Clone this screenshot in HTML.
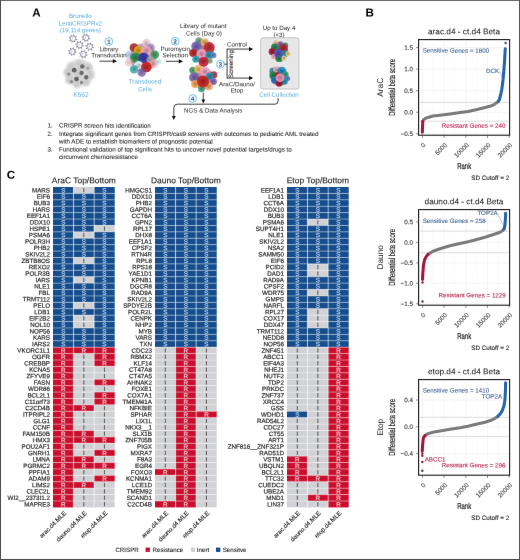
<!DOCTYPE html>
<html><head><meta charset="utf-8"><title>Figure</title>
<style>
html,body{margin:0;padding:0;background:#fff;}
body{width:520px;height:560px;overflow:hidden;}
svg{display:block;font-family:"Liberation Sans", sans-serif;text-rendering:geometricPrecision;}
</style></head><body>
<svg width="520" height="560" viewBox="0 0 520 560">
<defs>
<filter id="gblur" x="0" y="0" width="520" height="560" filterUnits="userSpaceOnUse"><feConvolveMatrix order="3" kernelMatrix="0 1 0 1 28 1 0 1 0" divisor="32" edgeMode="duplicate" preserveAlpha="false"/></filter>
<filter id="blur1" x="-20%" y="-20%" width="140%" height="140%"><feGaussianBlur stdDeviation="1.1"/></filter>
<filter id="blur2" x="-20%" y="-20%" width="140%" height="140%"><feGaussianBlur stdDeviation="0.45"/></filter>
<filter id="blur4" x="-20%" y="-20%" width="140%" height="140%"><feGaussianBlur stdDeviation="0.65"/></filter>
<filter id="blur3" x="-20%" y="-20%" width="140%" height="140%"><feGaussianBlur stdDeviation="0.7"/></filter>
</defs>
<rect x="0" y="0" width="520" height="560" fill="#fff"/>
<g filter="url(#gblur)">
<rect x="0" y="0" width="520" height="1" fill="#686868"/>
<rect x="0" y="0" width="1" height="560" fill="#4e4e4e"/>
<rect x="519" y="0" width="1" height="560" fill="#555"/>
<rect x="0" y="559" width="520" height="1" fill="#4a4a4a"/>
<text transform="translate(32.20,16.60) rotate(0.05)" font-size="11.6" fill="#000" text-anchor="start" font-weight="bold" >A</text>
<text transform="translate(365.60,16.50) rotate(0.05)" font-size="11.6" fill="#000" text-anchor="start" font-weight="bold" >B</text>
<text transform="translate(6.80,178.80) rotate(0.05)" font-size="11.6" fill="#000" text-anchor="start" font-weight="bold" >C</text>
<text transform="translate(83.85,183.20) rotate(0.05)" font-size="8.45" fill="#1e1e1e" text-anchor="middle" font-weight="normal"  stroke="#1e1e1e" stroke-width="0.12">AraC Top/Bottom</text>
<rect x="53.00" y="187.00" width="20.57" height="6.408" fill="#134d8c"/>
<rect x="73.57" y="187.00" width="20.57" height="6.408" fill="#d1d2d5"/>
<rect x="94.13" y="187.00" width="20.57" height="6.408" fill="#134d8c"/>
<text transform="translate(50.00,192.45) rotate(0.05)" font-size="6.25" fill="#2b2b2b" text-anchor="end" font-weight="normal"  stroke="#2b2b2b" stroke-width="0.2">MARS</text>
<rect x="53.00" y="193.41" width="20.57" height="6.408" fill="#134d8c"/>
<rect x="73.57" y="193.41" width="20.57" height="6.408" fill="#134d8c"/>
<rect x="94.13" y="193.41" width="20.57" height="6.408" fill="#134d8c"/>
<text transform="translate(50.00,198.86) rotate(0.05)" font-size="6.25" fill="#2b2b2b" text-anchor="end" font-weight="normal"  stroke="#2b2b2b" stroke-width="0.2">EIF6</text>
<rect x="53.00" y="199.82" width="20.57" height="6.408" fill="#134d8c"/>
<rect x="73.57" y="199.82" width="20.57" height="6.408" fill="#134d8c"/>
<rect x="94.13" y="199.82" width="20.57" height="6.408" fill="#134d8c"/>
<text transform="translate(50.00,205.27) rotate(0.05)" font-size="6.25" fill="#2b2b2b" text-anchor="end" font-weight="normal"  stroke="#2b2b2b" stroke-width="0.2">BUB3</text>
<rect x="53.00" y="206.22" width="20.57" height="6.408" fill="#134d8c"/>
<rect x="73.57" y="206.22" width="20.57" height="6.408" fill="#134d8c"/>
<rect x="94.13" y="206.22" width="20.57" height="6.408" fill="#134d8c"/>
<text transform="translate(50.00,211.68) rotate(0.05)" font-size="6.25" fill="#2b2b2b" text-anchor="end" font-weight="normal"  stroke="#2b2b2b" stroke-width="0.2">HARS</text>
<rect x="53.00" y="212.63" width="20.57" height="6.408" fill="#134d8c"/>
<rect x="73.57" y="212.63" width="20.57" height="6.408" fill="#134d8c"/>
<rect x="94.13" y="212.63" width="20.57" height="6.408" fill="#134d8c"/>
<text transform="translate(50.00,218.09) rotate(0.05)" font-size="6.25" fill="#2b2b2b" text-anchor="end" font-weight="normal"  stroke="#2b2b2b" stroke-width="0.2">EEF1A1</text>
<rect x="53.00" y="219.04" width="20.57" height="6.408" fill="#134d8c"/>
<rect x="73.57" y="219.04" width="20.57" height="6.408" fill="#134d8c"/>
<rect x="94.13" y="219.04" width="20.57" height="6.408" fill="#134d8c"/>
<text transform="translate(50.00,224.49) rotate(0.05)" font-size="6.25" fill="#2b2b2b" text-anchor="end" font-weight="normal"  stroke="#2b2b2b" stroke-width="0.2">DDX10</text>
<rect x="53.00" y="225.45" width="20.57" height="6.408" fill="#134d8c"/>
<rect x="73.57" y="225.45" width="20.57" height="6.408" fill="#134d8c"/>
<rect x="94.13" y="225.45" width="20.57" height="6.408" fill="#d1d2d5"/>
<text transform="translate(50.00,230.90) rotate(0.05)" font-size="6.25" fill="#2b2b2b" text-anchor="end" font-weight="normal"  stroke="#2b2b2b" stroke-width="0.2">HSPE1</text>
<rect x="53.00" y="231.86" width="20.57" height="6.408" fill="#134d8c"/>
<rect x="73.57" y="231.86" width="20.57" height="6.408" fill="#d1d2d5"/>
<rect x="94.13" y="231.86" width="20.57" height="6.408" fill="#134d8c"/>
<text transform="translate(50.00,237.31) rotate(0.05)" font-size="6.25" fill="#2b2b2b" text-anchor="end" font-weight="normal"  stroke="#2b2b2b" stroke-width="0.2">PSMA6</text>
<rect x="53.00" y="238.26" width="20.57" height="6.408" fill="#134d8c"/>
<rect x="73.57" y="238.26" width="20.57" height="6.408" fill="#134d8c"/>
<rect x="94.13" y="238.26" width="20.57" height="6.408" fill="#134d8c"/>
<text transform="translate(50.00,243.72) rotate(0.05)" font-size="6.25" fill="#2b2b2b" text-anchor="end" font-weight="normal"  stroke="#2b2b2b" stroke-width="0.2">POLR3H</text>
<rect x="53.00" y="244.67" width="20.57" height="6.408" fill="#134d8c"/>
<rect x="73.57" y="244.67" width="20.57" height="6.408" fill="#134d8c"/>
<rect x="94.13" y="244.67" width="20.57" height="6.408" fill="#134d8c"/>
<text transform="translate(50.00,250.13) rotate(0.05)" font-size="6.25" fill="#2b2b2b" text-anchor="end" font-weight="normal"  stroke="#2b2b2b" stroke-width="0.2">PHB2</text>
<rect x="53.00" y="251.08" width="20.57" height="6.408" fill="#134d8c"/>
<rect x="73.57" y="251.08" width="20.57" height="6.408" fill="#134d8c"/>
<rect x="94.13" y="251.08" width="20.57" height="6.408" fill="#134d8c"/>
<text transform="translate(50.00,256.53) rotate(0.05)" font-size="6.25" fill="#2b2b2b" text-anchor="end" font-weight="normal"  stroke="#2b2b2b" stroke-width="0.2">SKIV2L2</text>
<rect x="53.00" y="257.49" width="20.57" height="6.408" fill="#134d8c"/>
<rect x="73.57" y="257.49" width="20.57" height="6.408" fill="#d1d2d5"/>
<rect x="94.13" y="257.49" width="20.57" height="6.408" fill="#134d8c"/>
<text transform="translate(50.00,262.94) rotate(0.05)" font-size="6.25" fill="#2b2b2b" text-anchor="end" font-weight="normal"  stroke="#2b2b2b" stroke-width="0.2">ZBTB8OS</text>
<rect x="53.00" y="263.90" width="20.57" height="6.408" fill="#134d8c"/>
<rect x="73.57" y="263.90" width="20.57" height="6.408" fill="#134d8c"/>
<rect x="94.13" y="263.90" width="20.57" height="6.408" fill="#134d8c"/>
<text transform="translate(50.00,269.35) rotate(0.05)" font-size="6.25" fill="#2b2b2b" text-anchor="end" font-weight="normal"  stroke="#2b2b2b" stroke-width="0.2">REXO2</text>
<rect x="53.00" y="270.30" width="20.57" height="6.408" fill="#134d8c"/>
<rect x="73.57" y="270.30" width="20.57" height="6.408" fill="#134d8c"/>
<rect x="94.13" y="270.30" width="20.57" height="6.408" fill="#134d8c"/>
<text transform="translate(50.00,275.76) rotate(0.05)" font-size="6.25" fill="#2b2b2b" text-anchor="end" font-weight="normal"  stroke="#2b2b2b" stroke-width="0.2">POLR3B</text>
<rect x="53.00" y="276.71" width="20.57" height="6.408" fill="#134d8c"/>
<rect x="73.57" y="276.71" width="20.57" height="6.408" fill="#d1d2d5"/>
<rect x="94.13" y="276.71" width="20.57" height="6.408" fill="#134d8c"/>
<text transform="translate(50.00,282.17) rotate(0.05)" font-size="6.25" fill="#2b2b2b" text-anchor="end" font-weight="normal"  stroke="#2b2b2b" stroke-width="0.2">IARS</text>
<rect x="53.00" y="283.12" width="20.57" height="6.408" fill="#134d8c"/>
<rect x="73.57" y="283.12" width="20.57" height="6.408" fill="#134d8c"/>
<rect x="94.13" y="283.12" width="20.57" height="6.408" fill="#134d8c"/>
<text transform="translate(50.00,288.57) rotate(0.05)" font-size="6.25" fill="#2b2b2b" text-anchor="end" font-weight="normal"  stroke="#2b2b2b" stroke-width="0.2">NLE1</text>
<rect x="53.00" y="289.53" width="20.57" height="6.408" fill="#134d8c"/>
<rect x="73.57" y="289.53" width="20.57" height="6.408" fill="#134d8c"/>
<rect x="94.13" y="289.53" width="20.57" height="6.408" fill="#134d8c"/>
<text transform="translate(50.00,294.98) rotate(0.05)" font-size="6.25" fill="#2b2b2b" text-anchor="end" font-weight="normal"  stroke="#2b2b2b" stroke-width="0.2">FBL</text>
<rect x="53.00" y="295.94" width="20.57" height="6.408" fill="#134d8c"/>
<rect x="73.57" y="295.94" width="20.57" height="6.408" fill="#134d8c"/>
<rect x="94.13" y="295.94" width="20.57" height="6.408" fill="#134d8c"/>
<text transform="translate(50.00,301.39) rotate(0.05)" font-size="6.25" fill="#2b2b2b" text-anchor="end" font-weight="normal"  stroke="#2b2b2b" stroke-width="0.2">TRMT112</text>
<rect x="53.00" y="302.34" width="20.57" height="6.408" fill="#134d8c"/>
<rect x="73.57" y="302.34" width="20.57" height="6.408" fill="#d1d2d5"/>
<rect x="94.13" y="302.34" width="20.57" height="6.408" fill="#134d8c"/>
<text transform="translate(50.00,307.80) rotate(0.05)" font-size="6.25" fill="#2b2b2b" text-anchor="end" font-weight="normal"  stroke="#2b2b2b" stroke-width="0.2">PELO</text>
<rect x="53.00" y="308.75" width="20.57" height="6.408" fill="#134d8c"/>
<rect x="73.57" y="308.75" width="20.57" height="6.408" fill="#134d8c"/>
<rect x="94.13" y="308.75" width="20.57" height="6.408" fill="#134d8c"/>
<text transform="translate(50.00,314.21) rotate(0.05)" font-size="6.25" fill="#2b2b2b" text-anchor="end" font-weight="normal"  stroke="#2b2b2b" stroke-width="0.2">LDB1</text>
<rect x="53.00" y="315.16" width="20.57" height="6.408" fill="#134d8c"/>
<rect x="73.57" y="315.16" width="20.57" height="6.408" fill="#d1d2d5"/>
<rect x="94.13" y="315.16" width="20.57" height="6.408" fill="#134d8c"/>
<text transform="translate(50.00,320.61) rotate(0.05)" font-size="6.25" fill="#2b2b2b" text-anchor="end" font-weight="normal"  stroke="#2b2b2b" stroke-width="0.2">EIF2B2</text>
<rect x="53.00" y="321.57" width="20.57" height="6.408" fill="#134d8c"/>
<rect x="73.57" y="321.57" width="20.57" height="6.408" fill="#d1d2d5"/>
<rect x="94.13" y="321.57" width="20.57" height="6.408" fill="#134d8c"/>
<text transform="translate(50.00,327.02) rotate(0.05)" font-size="6.25" fill="#2b2b2b" text-anchor="end" font-weight="normal"  stroke="#2b2b2b" stroke-width="0.2">NOL10</text>
<rect x="53.00" y="327.98" width="20.57" height="6.408" fill="#134d8c"/>
<rect x="73.57" y="327.98" width="20.57" height="6.408" fill="#134d8c"/>
<rect x="94.13" y="327.98" width="20.57" height="6.408" fill="#134d8c"/>
<text transform="translate(50.00,333.43) rotate(0.05)" font-size="6.25" fill="#2b2b2b" text-anchor="end" font-weight="normal"  stroke="#2b2b2b" stroke-width="0.2">NOP56</text>
<rect x="53.00" y="334.38" width="20.57" height="6.408" fill="#134d8c"/>
<rect x="73.57" y="334.38" width="20.57" height="6.408" fill="#134d8c"/>
<rect x="94.13" y="334.38" width="20.57" height="6.408" fill="#134d8c"/>
<text transform="translate(50.00,339.84) rotate(0.05)" font-size="6.25" fill="#2b2b2b" text-anchor="end" font-weight="normal"  stroke="#2b2b2b" stroke-width="0.2">KARS</text>
<rect x="53.00" y="340.79" width="20.57" height="6.408" fill="#134d8c"/>
<rect x="73.57" y="340.79" width="20.57" height="6.408" fill="#134d8c"/>
<rect x="94.13" y="340.79" width="20.57" height="6.408" fill="#134d8c"/>
<text transform="translate(50.00,346.25) rotate(0.05)" font-size="6.25" fill="#2b2b2b" text-anchor="end" font-weight="normal"  stroke="#2b2b2b" stroke-width="0.2">IARS2</text>
<rect x="53.00" y="347.20" width="20.57" height="6.408" fill="#cb0f2e"/>
<rect x="73.57" y="347.20" width="20.57" height="6.408" fill="#cb0f2e"/>
<rect x="94.13" y="347.20" width="20.57" height="6.408" fill="#cb0f2e"/>
<text transform="translate(50.00,352.65) rotate(0.05)" font-size="6.25" fill="#2b2b2b" text-anchor="end" font-weight="normal"  stroke="#2b2b2b" stroke-width="0.2">VKORC1L1</text>
<rect x="53.00" y="353.61" width="20.57" height="6.408" fill="#cb0f2e"/>
<rect x="73.57" y="353.61" width="20.57" height="6.408" fill="#d1d2d5"/>
<rect x="94.13" y="353.61" width="20.57" height="6.408" fill="#cb0f2e"/>
<text transform="translate(50.00,359.06) rotate(0.05)" font-size="6.25" fill="#2b2b2b" text-anchor="end" font-weight="normal"  stroke="#2b2b2b" stroke-width="0.2">OGFR</text>
<rect x="53.00" y="360.02" width="20.57" height="6.408" fill="#cb0f2e"/>
<rect x="73.57" y="360.02" width="20.57" height="6.408" fill="#d1d2d5"/>
<rect x="94.13" y="360.02" width="20.57" height="6.408" fill="#cb0f2e"/>
<text transform="translate(50.00,365.47) rotate(0.05)" font-size="6.25" fill="#2b2b2b" text-anchor="end" font-weight="normal"  stroke="#2b2b2b" stroke-width="0.2">CREBBP</text>
<rect x="53.00" y="366.42" width="20.57" height="6.408" fill="#cb0f2e"/>
<rect x="73.57" y="366.42" width="20.57" height="6.408" fill="#d1d2d5"/>
<rect x="94.13" y="366.42" width="20.57" height="6.408" fill="#d1d2d5"/>
<text transform="translate(50.00,371.88) rotate(0.05)" font-size="6.25" fill="#2b2b2b" text-anchor="end" font-weight="normal"  stroke="#2b2b2b" stroke-width="0.2">KCNA5</text>
<rect x="53.00" y="372.83" width="20.57" height="6.408" fill="#cb0f2e"/>
<rect x="73.57" y="372.83" width="20.57" height="6.408" fill="#d1d2d5"/>
<rect x="94.13" y="372.83" width="20.57" height="6.408" fill="#d1d2d5"/>
<text transform="translate(50.00,378.29) rotate(0.05)" font-size="6.25" fill="#2b2b2b" text-anchor="end" font-weight="normal"  stroke="#2b2b2b" stroke-width="0.2">ZFYVE9</text>
<rect x="53.00" y="379.24" width="20.57" height="6.408" fill="#cb0f2e"/>
<rect x="73.57" y="379.24" width="20.57" height="6.408" fill="#d1d2d5"/>
<rect x="94.13" y="379.24" width="20.57" height="6.408" fill="#cb0f2e"/>
<text transform="translate(50.00,384.69) rotate(0.05)" font-size="6.25" fill="#2b2b2b" text-anchor="end" font-weight="normal"  stroke="#2b2b2b" stroke-width="0.2">FASN</text>
<rect x="53.00" y="385.65" width="20.57" height="6.408" fill="#cb0f2e"/>
<rect x="73.57" y="385.65" width="20.57" height="6.408" fill="#d1d2d5"/>
<rect x="94.13" y="385.65" width="20.57" height="6.408" fill="#d1d2d5"/>
<text transform="translate(50.00,391.10) rotate(0.05)" font-size="6.25" fill="#2b2b2b" text-anchor="end" font-weight="normal"  stroke="#2b2b2b" stroke-width="0.2">WDR86</text>
<rect x="53.00" y="392.06" width="20.57" height="6.408" fill="#cb0f2e"/>
<rect x="73.57" y="392.06" width="20.57" height="6.408" fill="#d1d2d5"/>
<rect x="94.13" y="392.06" width="20.57" height="6.408" fill="#cb0f2e"/>
<text transform="translate(50.00,397.51) rotate(0.05)" font-size="6.25" fill="#2b2b2b" text-anchor="end" font-weight="normal"  stroke="#2b2b2b" stroke-width="0.2">BCL2L1</text>
<rect x="53.00" y="398.46" width="20.57" height="6.408" fill="#cb0f2e"/>
<rect x="73.57" y="398.46" width="20.57" height="6.408" fill="#d1d2d5"/>
<rect x="94.13" y="398.46" width="20.57" height="6.408" fill="#cb0f2e"/>
<text transform="translate(50.00,403.92) rotate(0.05)" font-size="6.25" fill="#2b2b2b" text-anchor="end" font-weight="normal"  stroke="#2b2b2b" stroke-width="0.2">C11orf73</text>
<rect x="53.00" y="404.87" width="20.57" height="6.408" fill="#cb0f2e"/>
<rect x="73.57" y="404.87" width="20.57" height="6.408" fill="#cb0f2e"/>
<rect x="94.13" y="404.87" width="20.57" height="6.408" fill="#d1d2d5"/>
<text transform="translate(50.00,410.33) rotate(0.05)" font-size="6.25" fill="#2b2b2b" text-anchor="end" font-weight="normal"  stroke="#2b2b2b" stroke-width="0.2">C2CD4B</text>
<rect x="53.00" y="411.28" width="20.57" height="6.408" fill="#cb0f2e"/>
<rect x="73.57" y="411.28" width="20.57" height="6.408" fill="#d1d2d5"/>
<rect x="94.13" y="411.28" width="20.57" height="6.408" fill="#d1d2d5"/>
<text transform="translate(50.00,416.73) rotate(0.05)" font-size="6.25" fill="#2b2b2b" text-anchor="end" font-weight="normal"  stroke="#2b2b2b" stroke-width="0.2">ITPRIPL2</text>
<rect x="53.00" y="417.69" width="20.57" height="6.408" fill="#cb0f2e"/>
<rect x="73.57" y="417.69" width="20.57" height="6.408" fill="#d1d2d5"/>
<rect x="94.13" y="417.69" width="20.57" height="6.408" fill="#d1d2d5"/>
<text transform="translate(50.00,423.14) rotate(0.05)" font-size="6.25" fill="#2b2b2b" text-anchor="end" font-weight="normal"  stroke="#2b2b2b" stroke-width="0.2">GLG1</text>
<rect x="53.00" y="424.10" width="20.57" height="6.408" fill="#cb0f2e"/>
<rect x="73.57" y="424.10" width="20.57" height="6.408" fill="#d1d2d5"/>
<rect x="94.13" y="424.10" width="20.57" height="6.408" fill="#d1d2d5"/>
<text transform="translate(50.00,429.55) rotate(0.05)" font-size="6.25" fill="#2b2b2b" text-anchor="end" font-weight="normal"  stroke="#2b2b2b" stroke-width="0.2">CCNF</text>
<rect x="53.00" y="430.50" width="20.57" height="6.408" fill="#cb0f2e"/>
<rect x="73.57" y="430.50" width="20.57" height="6.408" fill="#cb0f2e"/>
<rect x="94.13" y="430.50" width="20.57" height="6.408" fill="#d1d2d5"/>
<text transform="translate(50.00,435.96) rotate(0.05)" font-size="6.25" fill="#2b2b2b" text-anchor="end" font-weight="normal"  stroke="#2b2b2b" stroke-width="0.2">FAM150B</text>
<rect x="53.00" y="436.91" width="20.57" height="6.408" fill="#cb0f2e"/>
<rect x="73.57" y="436.91" width="20.57" height="6.408" fill="#cb0f2e"/>
<rect x="94.13" y="436.91" width="20.57" height="6.408" fill="#cb0f2e"/>
<text transform="translate(50.00,442.37) rotate(0.05)" font-size="6.25" fill="#2b2b2b" text-anchor="end" font-weight="normal"  stroke="#2b2b2b" stroke-width="0.2">HMX3</text>
<rect x="53.00" y="443.32" width="20.57" height="6.408" fill="#cb0f2e"/>
<rect x="73.57" y="443.32" width="20.57" height="6.408" fill="#d1d2d5"/>
<rect x="94.13" y="443.32" width="20.57" height="6.408" fill="#d1d2d5"/>
<text transform="translate(50.00,448.77) rotate(0.05)" font-size="6.25" fill="#2b2b2b" text-anchor="end" font-weight="normal"  stroke="#2b2b2b" stroke-width="0.2">POU2AF1</text>
<rect x="53.00" y="449.73" width="20.57" height="6.408" fill="#cb0f2e"/>
<rect x="73.57" y="449.73" width="20.57" height="6.408" fill="#d1d2d5"/>
<rect x="94.13" y="449.73" width="20.57" height="6.408" fill="#cb0f2e"/>
<text transform="translate(50.00,455.18) rotate(0.05)" font-size="6.25" fill="#2b2b2b" text-anchor="end" font-weight="normal"  stroke="#2b2b2b" stroke-width="0.2">GNRH1</text>
<rect x="53.00" y="456.14" width="20.57" height="6.408" fill="#cb0f2e"/>
<rect x="73.57" y="456.14" width="20.57" height="6.408" fill="#cb0f2e"/>
<rect x="94.13" y="456.14" width="20.57" height="6.408" fill="#d1d2d5"/>
<text transform="translate(50.00,461.59) rotate(0.05)" font-size="6.25" fill="#2b2b2b" text-anchor="end" font-weight="normal"  stroke="#2b2b2b" stroke-width="0.2">LMNA</text>
<rect x="53.00" y="462.54" width="20.57" height="6.408" fill="#cb0f2e"/>
<rect x="73.57" y="462.54" width="20.57" height="6.408" fill="#cb0f2e"/>
<rect x="94.13" y="462.54" width="20.57" height="6.408" fill="#cb0f2e"/>
<text transform="translate(50.00,468.00) rotate(0.05)" font-size="6.25" fill="#2b2b2b" text-anchor="end" font-weight="normal"  stroke="#2b2b2b" stroke-width="0.2">PGRMC2</text>
<rect x="53.00" y="468.95" width="20.57" height="6.408" fill="#cb0f2e"/>
<rect x="73.57" y="468.95" width="20.57" height="6.408" fill="#d1d2d5"/>
<rect x="94.13" y="468.95" width="20.57" height="6.408" fill="#d1d2d5"/>
<text transform="translate(50.00,474.41) rotate(0.05)" font-size="6.25" fill="#2b2b2b" text-anchor="end" font-weight="normal"  stroke="#2b2b2b" stroke-width="0.2">PPFIA1</text>
<rect x="53.00" y="475.36" width="20.57" height="6.408" fill="#cb0f2e"/>
<rect x="73.57" y="475.36" width="20.57" height="6.408" fill="#d1d2d5"/>
<rect x="94.13" y="475.36" width="20.57" height="6.408" fill="#cb0f2e"/>
<text transform="translate(50.00,480.81) rotate(0.05)" font-size="6.25" fill="#2b2b2b" text-anchor="end" font-weight="normal"  stroke="#2b2b2b" stroke-width="0.2">ADAM9</text>
<rect x="53.00" y="481.77" width="20.57" height="6.408" fill="#cb0f2e"/>
<rect x="73.57" y="481.77" width="20.57" height="6.408" fill="#cb0f2e"/>
<rect x="94.13" y="481.77" width="20.57" height="6.408" fill="#d1d2d5"/>
<text transform="translate(50.00,487.22) rotate(0.05)" font-size="6.25" fill="#2b2b2b" text-anchor="end" font-weight="normal"  stroke="#2b2b2b" stroke-width="0.2">LIMS2</text>
<rect x="53.00" y="488.18" width="20.57" height="6.408" fill="#cb0f2e"/>
<rect x="73.57" y="488.18" width="20.57" height="6.408" fill="#d1d2d5"/>
<rect x="94.13" y="488.18" width="20.57" height="6.408" fill="#d1d2d5"/>
<text transform="translate(50.00,493.63) rotate(0.05)" font-size="6.25" fill="#2b2b2b" text-anchor="end" font-weight="normal"  stroke="#2b2b2b" stroke-width="0.2">CLEC2L</text>
<rect x="53.00" y="494.58" width="20.57" height="6.408" fill="#cb0f2e"/>
<rect x="73.57" y="494.58" width="20.57" height="6.408" fill="#d1d2d5"/>
<rect x="94.13" y="494.58" width="20.57" height="6.408" fill="#d1d2d5"/>
<text transform="translate(50.00,500.04) rotate(0.05)" font-size="6.25" fill="#2b2b2b" text-anchor="end" font-weight="normal"  stroke="#2b2b2b" stroke-width="0.2">WI2__2373I1.2</text>
<rect x="53.00" y="500.99" width="20.57" height="6.408" fill="#cb0f2e"/>
<rect x="73.57" y="500.99" width="20.57" height="6.408" fill="#d1d2d5"/>
<rect x="94.13" y="500.99" width="20.57" height="6.408" fill="#d1d2d5"/>
<text transform="translate(50.00,506.45) rotate(0.05)" font-size="6.25" fill="#2b2b2b" text-anchor="end" font-weight="normal"  stroke="#2b2b2b" stroke-width="0.2">MAPRE3</text>
<line x1="53.00" y1="193.41" x2="114.70" y2="193.41" stroke="#fff" stroke-opacity="0.45" stroke-width="0.9"/>
<line x1="53.00" y1="199.82" x2="114.70" y2="199.82" stroke="#fff" stroke-opacity="0.45" stroke-width="0.9"/>
<line x1="53.00" y1="206.22" x2="114.70" y2="206.22" stroke="#fff" stroke-opacity="0.45" stroke-width="0.9"/>
<line x1="53.00" y1="212.63" x2="114.70" y2="212.63" stroke="#fff" stroke-opacity="0.45" stroke-width="0.9"/>
<line x1="53.00" y1="219.04" x2="114.70" y2="219.04" stroke="#fff" stroke-opacity="0.45" stroke-width="0.9"/>
<line x1="53.00" y1="225.45" x2="114.70" y2="225.45" stroke="#fff" stroke-opacity="0.45" stroke-width="0.9"/>
<line x1="53.00" y1="231.86" x2="114.70" y2="231.86" stroke="#fff" stroke-opacity="0.45" stroke-width="0.9"/>
<line x1="53.00" y1="238.26" x2="114.70" y2="238.26" stroke="#fff" stroke-opacity="0.45" stroke-width="0.9"/>
<line x1="53.00" y1="244.67" x2="114.70" y2="244.67" stroke="#fff" stroke-opacity="0.45" stroke-width="0.9"/>
<line x1="53.00" y1="251.08" x2="114.70" y2="251.08" stroke="#fff" stroke-opacity="0.45" stroke-width="0.9"/>
<line x1="53.00" y1="257.49" x2="114.70" y2="257.49" stroke="#fff" stroke-opacity="0.45" stroke-width="0.9"/>
<line x1="53.00" y1="263.90" x2="114.70" y2="263.90" stroke="#fff" stroke-opacity="0.45" stroke-width="0.9"/>
<line x1="53.00" y1="270.30" x2="114.70" y2="270.30" stroke="#fff" stroke-opacity="0.45" stroke-width="0.9"/>
<line x1="53.00" y1="276.71" x2="114.70" y2="276.71" stroke="#fff" stroke-opacity="0.45" stroke-width="0.9"/>
<line x1="53.00" y1="283.12" x2="114.70" y2="283.12" stroke="#fff" stroke-opacity="0.45" stroke-width="0.9"/>
<line x1="53.00" y1="289.53" x2="114.70" y2="289.53" stroke="#fff" stroke-opacity="0.45" stroke-width="0.9"/>
<line x1="53.00" y1="295.94" x2="114.70" y2="295.94" stroke="#fff" stroke-opacity="0.45" stroke-width="0.9"/>
<line x1="53.00" y1="302.34" x2="114.70" y2="302.34" stroke="#fff" stroke-opacity="0.45" stroke-width="0.9"/>
<line x1="53.00" y1="308.75" x2="114.70" y2="308.75" stroke="#fff" stroke-opacity="0.45" stroke-width="0.9"/>
<line x1="53.00" y1="315.16" x2="114.70" y2="315.16" stroke="#fff" stroke-opacity="0.45" stroke-width="0.9"/>
<line x1="53.00" y1="321.57" x2="114.70" y2="321.57" stroke="#fff" stroke-opacity="0.45" stroke-width="0.9"/>
<line x1="53.00" y1="327.98" x2="114.70" y2="327.98" stroke="#fff" stroke-opacity="0.45" stroke-width="0.9"/>
<line x1="53.00" y1="334.38" x2="114.70" y2="334.38" stroke="#fff" stroke-opacity="0.45" stroke-width="0.9"/>
<line x1="53.00" y1="340.79" x2="114.70" y2="340.79" stroke="#fff" stroke-opacity="0.45" stroke-width="0.9"/>
<line x1="53.00" y1="347.20" x2="114.70" y2="347.20" stroke="#fff" stroke-opacity="0.45" stroke-width="0.9"/>
<line x1="53.00" y1="353.61" x2="114.70" y2="353.61" stroke="#fff" stroke-opacity="0.45" stroke-width="0.9"/>
<line x1="53.00" y1="360.02" x2="114.70" y2="360.02" stroke="#fff" stroke-opacity="0.45" stroke-width="0.9"/>
<line x1="53.00" y1="366.42" x2="114.70" y2="366.42" stroke="#fff" stroke-opacity="0.45" stroke-width="0.9"/>
<line x1="53.00" y1="372.83" x2="114.70" y2="372.83" stroke="#fff" stroke-opacity="0.45" stroke-width="0.9"/>
<line x1="53.00" y1="379.24" x2="114.70" y2="379.24" stroke="#fff" stroke-opacity="0.45" stroke-width="0.9"/>
<line x1="53.00" y1="385.65" x2="114.70" y2="385.65" stroke="#fff" stroke-opacity="0.45" stroke-width="0.9"/>
<line x1="53.00" y1="392.06" x2="114.70" y2="392.06" stroke="#fff" stroke-opacity="0.45" stroke-width="0.9"/>
<line x1="53.00" y1="398.46" x2="114.70" y2="398.46" stroke="#fff" stroke-opacity="0.45" stroke-width="0.9"/>
<line x1="53.00" y1="404.87" x2="114.70" y2="404.87" stroke="#fff" stroke-opacity="0.45" stroke-width="0.9"/>
<line x1="53.00" y1="411.28" x2="114.70" y2="411.28" stroke="#fff" stroke-opacity="0.45" stroke-width="0.9"/>
<line x1="53.00" y1="417.69" x2="114.70" y2="417.69" stroke="#fff" stroke-opacity="0.45" stroke-width="0.9"/>
<line x1="53.00" y1="424.10" x2="114.70" y2="424.10" stroke="#fff" stroke-opacity="0.45" stroke-width="0.9"/>
<line x1="53.00" y1="430.50" x2="114.70" y2="430.50" stroke="#fff" stroke-opacity="0.45" stroke-width="0.9"/>
<line x1="53.00" y1="436.91" x2="114.70" y2="436.91" stroke="#fff" stroke-opacity="0.45" stroke-width="0.9"/>
<line x1="53.00" y1="443.32" x2="114.70" y2="443.32" stroke="#fff" stroke-opacity="0.45" stroke-width="0.9"/>
<line x1="53.00" y1="449.73" x2="114.70" y2="449.73" stroke="#fff" stroke-opacity="0.45" stroke-width="0.9"/>
<line x1="53.00" y1="456.14" x2="114.70" y2="456.14" stroke="#fff" stroke-opacity="0.45" stroke-width="0.9"/>
<line x1="53.00" y1="462.54" x2="114.70" y2="462.54" stroke="#fff" stroke-opacity="0.45" stroke-width="0.9"/>
<line x1="53.00" y1="468.95" x2="114.70" y2="468.95" stroke="#fff" stroke-opacity="0.45" stroke-width="0.9"/>
<line x1="53.00" y1="475.36" x2="114.70" y2="475.36" stroke="#fff" stroke-opacity="0.45" stroke-width="0.9"/>
<line x1="53.00" y1="481.77" x2="114.70" y2="481.77" stroke="#fff" stroke-opacity="0.45" stroke-width="0.9"/>
<line x1="53.00" y1="488.18" x2="114.70" y2="488.18" stroke="#fff" stroke-opacity="0.45" stroke-width="0.9"/>
<line x1="53.00" y1="494.58" x2="114.70" y2="494.58" stroke="#fff" stroke-opacity="0.45" stroke-width="0.9"/>
<line x1="53.00" y1="500.99" x2="114.70" y2="500.99" stroke="#fff" stroke-opacity="0.45" stroke-width="0.9"/>
<line x1="73.57" y1="187.00" x2="73.57" y2="507.40" stroke="#fff" stroke-opacity="0.55" stroke-width="1.0"/>
<line x1="94.13" y1="187.00" x2="94.13" y2="507.40" stroke="#fff" stroke-opacity="0.55" stroke-width="1.0"/>
<text x="0" y="0" font-size="6.3" fill="#b8d2f0" stroke="#b8d2f0" stroke-width="0.18" text-anchor="middle" transform="translate(63.28,192.45) rotate(0.05)">S</text>
<rect x="83.35" y="188.10" width="1.0" height="4.21" fill="#555"/>
<text x="0" y="0" font-size="6.3" fill="#b8d2f0" stroke="#b8d2f0" stroke-width="0.18" text-anchor="middle" transform="translate(104.42,192.45) rotate(0.05)">S</text>
<text x="0" y="0" font-size="6.3" fill="#b8d2f0" stroke="#b8d2f0" stroke-width="0.18" text-anchor="middle" transform="translate(63.28,198.86) rotate(0.05)">S</text>
<text x="0" y="0" font-size="6.3" fill="#b8d2f0" stroke="#b8d2f0" stroke-width="0.18" text-anchor="middle" transform="translate(83.85,198.86) rotate(0.05)">S</text>
<text x="0" y="0" font-size="6.3" fill="#b8d2f0" stroke="#b8d2f0" stroke-width="0.18" text-anchor="middle" transform="translate(104.42,198.86) rotate(0.05)">S</text>
<text x="0" y="0" font-size="6.3" fill="#b8d2f0" stroke="#b8d2f0" stroke-width="0.18" text-anchor="middle" transform="translate(63.28,205.27) rotate(0.05)">S</text>
<text x="0" y="0" font-size="6.3" fill="#b8d2f0" stroke="#b8d2f0" stroke-width="0.18" text-anchor="middle" transform="translate(83.85,205.27) rotate(0.05)">S</text>
<text x="0" y="0" font-size="6.3" fill="#b8d2f0" stroke="#b8d2f0" stroke-width="0.18" text-anchor="middle" transform="translate(104.42,205.27) rotate(0.05)">S</text>
<text x="0" y="0" font-size="6.3" fill="#b8d2f0" stroke="#b8d2f0" stroke-width="0.18" text-anchor="middle" transform="translate(63.28,211.68) rotate(0.05)">S</text>
<text x="0" y="0" font-size="6.3" fill="#b8d2f0" stroke="#b8d2f0" stroke-width="0.18" text-anchor="middle" transform="translate(83.85,211.68) rotate(0.05)">S</text>
<text x="0" y="0" font-size="6.3" fill="#b8d2f0" stroke="#b8d2f0" stroke-width="0.18" text-anchor="middle" transform="translate(104.42,211.68) rotate(0.05)">S</text>
<text x="0" y="0" font-size="6.3" fill="#b8d2f0" stroke="#b8d2f0" stroke-width="0.18" text-anchor="middle" transform="translate(63.28,218.09) rotate(0.05)">S</text>
<text x="0" y="0" font-size="6.3" fill="#b8d2f0" stroke="#b8d2f0" stroke-width="0.18" text-anchor="middle" transform="translate(83.85,218.09) rotate(0.05)">S</text>
<text x="0" y="0" font-size="6.3" fill="#b8d2f0" stroke="#b8d2f0" stroke-width="0.18" text-anchor="middle" transform="translate(104.42,218.09) rotate(0.05)">S</text>
<text x="0" y="0" font-size="6.3" fill="#b8d2f0" stroke="#b8d2f0" stroke-width="0.18" text-anchor="middle" transform="translate(63.28,224.49) rotate(0.05)">S</text>
<text x="0" y="0" font-size="6.3" fill="#b8d2f0" stroke="#b8d2f0" stroke-width="0.18" text-anchor="middle" transform="translate(83.85,224.49) rotate(0.05)">S</text>
<text x="0" y="0" font-size="6.3" fill="#b8d2f0" stroke="#b8d2f0" stroke-width="0.18" text-anchor="middle" transform="translate(104.42,224.49) rotate(0.05)">S</text>
<text x="0" y="0" font-size="6.3" fill="#b8d2f0" stroke="#b8d2f0" stroke-width="0.18" text-anchor="middle" transform="translate(63.28,230.90) rotate(0.05)">S</text>
<text x="0" y="0" font-size="6.3" fill="#b8d2f0" stroke="#b8d2f0" stroke-width="0.18" text-anchor="middle" transform="translate(83.85,230.90) rotate(0.05)">S</text>
<rect x="103.92" y="226.55" width="1.0" height="4.21" fill="#555"/>
<text x="0" y="0" font-size="6.3" fill="#b8d2f0" stroke="#b8d2f0" stroke-width="0.18" text-anchor="middle" transform="translate(63.28,237.31) rotate(0.05)">S</text>
<rect x="83.35" y="232.96" width="1.0" height="4.21" fill="#555"/>
<text x="0" y="0" font-size="6.3" fill="#b8d2f0" stroke="#b8d2f0" stroke-width="0.18" text-anchor="middle" transform="translate(104.42,237.31) rotate(0.05)">S</text>
<text x="0" y="0" font-size="6.3" fill="#b8d2f0" stroke="#b8d2f0" stroke-width="0.18" text-anchor="middle" transform="translate(63.28,243.72) rotate(0.05)">S</text>
<text x="0" y="0" font-size="6.3" fill="#b8d2f0" stroke="#b8d2f0" stroke-width="0.18" text-anchor="middle" transform="translate(83.85,243.72) rotate(0.05)">S</text>
<text x="0" y="0" font-size="6.3" fill="#b8d2f0" stroke="#b8d2f0" stroke-width="0.18" text-anchor="middle" transform="translate(104.42,243.72) rotate(0.05)">S</text>
<text x="0" y="0" font-size="6.3" fill="#b8d2f0" stroke="#b8d2f0" stroke-width="0.18" text-anchor="middle" transform="translate(63.28,250.13) rotate(0.05)">S</text>
<text x="0" y="0" font-size="6.3" fill="#b8d2f0" stroke="#b8d2f0" stroke-width="0.18" text-anchor="middle" transform="translate(83.85,250.13) rotate(0.05)">S</text>
<text x="0" y="0" font-size="6.3" fill="#b8d2f0" stroke="#b8d2f0" stroke-width="0.18" text-anchor="middle" transform="translate(104.42,250.13) rotate(0.05)">S</text>
<text x="0" y="0" font-size="6.3" fill="#b8d2f0" stroke="#b8d2f0" stroke-width="0.18" text-anchor="middle" transform="translate(63.28,256.53) rotate(0.05)">S</text>
<text x="0" y="0" font-size="6.3" fill="#b8d2f0" stroke="#b8d2f0" stroke-width="0.18" text-anchor="middle" transform="translate(83.85,256.53) rotate(0.05)">S</text>
<text x="0" y="0" font-size="6.3" fill="#b8d2f0" stroke="#b8d2f0" stroke-width="0.18" text-anchor="middle" transform="translate(104.42,256.53) rotate(0.05)">S</text>
<text x="0" y="0" font-size="6.3" fill="#b8d2f0" stroke="#b8d2f0" stroke-width="0.18" text-anchor="middle" transform="translate(63.28,262.94) rotate(0.05)">S</text>
<rect x="83.35" y="258.59" width="1.0" height="4.21" fill="#555"/>
<text x="0" y="0" font-size="6.3" fill="#b8d2f0" stroke="#b8d2f0" stroke-width="0.18" text-anchor="middle" transform="translate(104.42,262.94) rotate(0.05)">S</text>
<text x="0" y="0" font-size="6.3" fill="#b8d2f0" stroke="#b8d2f0" stroke-width="0.18" text-anchor="middle" transform="translate(63.28,269.35) rotate(0.05)">S</text>
<text x="0" y="0" font-size="6.3" fill="#b8d2f0" stroke="#b8d2f0" stroke-width="0.18" text-anchor="middle" transform="translate(83.85,269.35) rotate(0.05)">S</text>
<text x="0" y="0" font-size="6.3" fill="#b8d2f0" stroke="#b8d2f0" stroke-width="0.18" text-anchor="middle" transform="translate(104.42,269.35) rotate(0.05)">S</text>
<text x="0" y="0" font-size="6.3" fill="#b8d2f0" stroke="#b8d2f0" stroke-width="0.18" text-anchor="middle" transform="translate(63.28,275.76) rotate(0.05)">S</text>
<text x="0" y="0" font-size="6.3" fill="#b8d2f0" stroke="#b8d2f0" stroke-width="0.18" text-anchor="middle" transform="translate(83.85,275.76) rotate(0.05)">S</text>
<text x="0" y="0" font-size="6.3" fill="#b8d2f0" stroke="#b8d2f0" stroke-width="0.18" text-anchor="middle" transform="translate(104.42,275.76) rotate(0.05)">S</text>
<text x="0" y="0" font-size="6.3" fill="#b8d2f0" stroke="#b8d2f0" stroke-width="0.18" text-anchor="middle" transform="translate(63.28,282.17) rotate(0.05)">S</text>
<rect x="83.35" y="277.81" width="1.0" height="4.21" fill="#555"/>
<text x="0" y="0" font-size="6.3" fill="#b8d2f0" stroke="#b8d2f0" stroke-width="0.18" text-anchor="middle" transform="translate(104.42,282.17) rotate(0.05)">S</text>
<text x="0" y="0" font-size="6.3" fill="#b8d2f0" stroke="#b8d2f0" stroke-width="0.18" text-anchor="middle" transform="translate(63.28,288.57) rotate(0.05)">S</text>
<text x="0" y="0" font-size="6.3" fill="#b8d2f0" stroke="#b8d2f0" stroke-width="0.18" text-anchor="middle" transform="translate(83.85,288.57) rotate(0.05)">S</text>
<text x="0" y="0" font-size="6.3" fill="#b8d2f0" stroke="#b8d2f0" stroke-width="0.18" text-anchor="middle" transform="translate(104.42,288.57) rotate(0.05)">S</text>
<text x="0" y="0" font-size="6.3" fill="#b8d2f0" stroke="#b8d2f0" stroke-width="0.18" text-anchor="middle" transform="translate(63.28,294.98) rotate(0.05)">S</text>
<text x="0" y="0" font-size="6.3" fill="#b8d2f0" stroke="#b8d2f0" stroke-width="0.18" text-anchor="middle" transform="translate(83.85,294.98) rotate(0.05)">S</text>
<text x="0" y="0" font-size="6.3" fill="#b8d2f0" stroke="#b8d2f0" stroke-width="0.18" text-anchor="middle" transform="translate(104.42,294.98) rotate(0.05)">S</text>
<text x="0" y="0" font-size="6.3" fill="#b8d2f0" stroke="#b8d2f0" stroke-width="0.18" text-anchor="middle" transform="translate(63.28,301.39) rotate(0.05)">S</text>
<text x="0" y="0" font-size="6.3" fill="#b8d2f0" stroke="#b8d2f0" stroke-width="0.18" text-anchor="middle" transform="translate(83.85,301.39) rotate(0.05)">S</text>
<text x="0" y="0" font-size="6.3" fill="#b8d2f0" stroke="#b8d2f0" stroke-width="0.18" text-anchor="middle" transform="translate(104.42,301.39) rotate(0.05)">S</text>
<text x="0" y="0" font-size="6.3" fill="#b8d2f0" stroke="#b8d2f0" stroke-width="0.18" text-anchor="middle" transform="translate(63.28,307.80) rotate(0.05)">S</text>
<rect x="83.35" y="303.44" width="1.0" height="4.21" fill="#555"/>
<text x="0" y="0" font-size="6.3" fill="#b8d2f0" stroke="#b8d2f0" stroke-width="0.18" text-anchor="middle" transform="translate(104.42,307.80) rotate(0.05)">S</text>
<text x="0" y="0" font-size="6.3" fill="#b8d2f0" stroke="#b8d2f0" stroke-width="0.18" text-anchor="middle" transform="translate(63.28,314.21) rotate(0.05)">S</text>
<text x="0" y="0" font-size="6.3" fill="#b8d2f0" stroke="#b8d2f0" stroke-width="0.18" text-anchor="middle" transform="translate(83.85,314.21) rotate(0.05)">S</text>
<text x="0" y="0" font-size="6.3" fill="#b8d2f0" stroke="#b8d2f0" stroke-width="0.18" text-anchor="middle" transform="translate(104.42,314.21) rotate(0.05)">S</text>
<text x="0" y="0" font-size="6.3" fill="#b8d2f0" stroke="#b8d2f0" stroke-width="0.18" text-anchor="middle" transform="translate(63.28,320.61) rotate(0.05)">S</text>
<rect x="83.35" y="316.26" width="1.0" height="4.21" fill="#555"/>
<text x="0" y="0" font-size="6.3" fill="#b8d2f0" stroke="#b8d2f0" stroke-width="0.18" text-anchor="middle" transform="translate(104.42,320.61) rotate(0.05)">S</text>
<text x="0" y="0" font-size="6.3" fill="#b8d2f0" stroke="#b8d2f0" stroke-width="0.18" text-anchor="middle" transform="translate(63.28,327.02) rotate(0.05)">S</text>
<rect x="83.35" y="322.67" width="1.0" height="4.21" fill="#555"/>
<text x="0" y="0" font-size="6.3" fill="#b8d2f0" stroke="#b8d2f0" stroke-width="0.18" text-anchor="middle" transform="translate(104.42,327.02) rotate(0.05)">S</text>
<text x="0" y="0" font-size="6.3" fill="#b8d2f0" stroke="#b8d2f0" stroke-width="0.18" text-anchor="middle" transform="translate(63.28,333.43) rotate(0.05)">S</text>
<text x="0" y="0" font-size="6.3" fill="#b8d2f0" stroke="#b8d2f0" stroke-width="0.18" text-anchor="middle" transform="translate(83.85,333.43) rotate(0.05)">S</text>
<text x="0" y="0" font-size="6.3" fill="#b8d2f0" stroke="#b8d2f0" stroke-width="0.18" text-anchor="middle" transform="translate(104.42,333.43) rotate(0.05)">S</text>
<text x="0" y="0" font-size="6.3" fill="#b8d2f0" stroke="#b8d2f0" stroke-width="0.18" text-anchor="middle" transform="translate(63.28,339.84) rotate(0.05)">S</text>
<text x="0" y="0" font-size="6.3" fill="#b8d2f0" stroke="#b8d2f0" stroke-width="0.18" text-anchor="middle" transform="translate(83.85,339.84) rotate(0.05)">S</text>
<text x="0" y="0" font-size="6.3" fill="#b8d2f0" stroke="#b8d2f0" stroke-width="0.18" text-anchor="middle" transform="translate(104.42,339.84) rotate(0.05)">S</text>
<text x="0" y="0" font-size="6.3" fill="#b8d2f0" stroke="#b8d2f0" stroke-width="0.18" text-anchor="middle" transform="translate(63.28,346.25) rotate(0.05)">S</text>
<text x="0" y="0" font-size="6.3" fill="#b8d2f0" stroke="#b8d2f0" stroke-width="0.18" text-anchor="middle" transform="translate(83.85,346.25) rotate(0.05)">S</text>
<text x="0" y="0" font-size="6.3" fill="#b8d2f0" stroke="#b8d2f0" stroke-width="0.18" text-anchor="middle" transform="translate(104.42,346.25) rotate(0.05)">S</text>
<text x="0" y="0" font-size="6.3" fill="#f8c4cd" stroke="#f8c4cd" stroke-width="0.18" text-anchor="middle" transform="translate(63.28,352.65) rotate(0.05)">R</text>
<text x="0" y="0" font-size="6.3" fill="#f8c4cd" stroke="#f8c4cd" stroke-width="0.18" text-anchor="middle" transform="translate(83.85,352.65) rotate(0.05)">R</text>
<text x="0" y="0" font-size="6.3" fill="#f8c4cd" stroke="#f8c4cd" stroke-width="0.18" text-anchor="middle" transform="translate(104.42,352.65) rotate(0.05)">R</text>
<text x="0" y="0" font-size="6.3" fill="#f8c4cd" stroke="#f8c4cd" stroke-width="0.18" text-anchor="middle" transform="translate(63.28,359.06) rotate(0.05)">R</text>
<rect x="83.35" y="354.71" width="1.0" height="4.21" fill="#555"/>
<text x="0" y="0" font-size="6.3" fill="#f8c4cd" stroke="#f8c4cd" stroke-width="0.18" text-anchor="middle" transform="translate(104.42,359.06) rotate(0.05)">R</text>
<text x="0" y="0" font-size="6.3" fill="#f8c4cd" stroke="#f8c4cd" stroke-width="0.18" text-anchor="middle" transform="translate(63.28,365.47) rotate(0.05)">R</text>
<rect x="83.35" y="361.12" width="1.0" height="4.21" fill="#555"/>
<text x="0" y="0" font-size="6.3" fill="#f8c4cd" stroke="#f8c4cd" stroke-width="0.18" text-anchor="middle" transform="translate(104.42,365.47) rotate(0.05)">R</text>
<text x="0" y="0" font-size="6.3" fill="#f8c4cd" stroke="#f8c4cd" stroke-width="0.18" text-anchor="middle" transform="translate(63.28,371.88) rotate(0.05)">R</text>
<rect x="83.35" y="367.52" width="1.0" height="4.21" fill="#555"/>
<rect x="103.92" y="367.52" width="1.0" height="4.21" fill="#555"/>
<text x="0" y="0" font-size="6.3" fill="#f8c4cd" stroke="#f8c4cd" stroke-width="0.18" text-anchor="middle" transform="translate(63.28,378.29) rotate(0.05)">R</text>
<rect x="83.35" y="373.93" width="1.0" height="4.21" fill="#555"/>
<rect x="103.92" y="373.93" width="1.0" height="4.21" fill="#555"/>
<text x="0" y="0" font-size="6.3" fill="#f8c4cd" stroke="#f8c4cd" stroke-width="0.18" text-anchor="middle" transform="translate(63.28,384.69) rotate(0.05)">R</text>
<rect x="83.35" y="380.34" width="1.0" height="4.21" fill="#555"/>
<text x="0" y="0" font-size="6.3" fill="#f8c4cd" stroke="#f8c4cd" stroke-width="0.18" text-anchor="middle" transform="translate(104.42,384.69) rotate(0.05)">R</text>
<text x="0" y="0" font-size="6.3" fill="#f8c4cd" stroke="#f8c4cd" stroke-width="0.18" text-anchor="middle" transform="translate(63.28,391.10) rotate(0.05)">R</text>
<rect x="83.35" y="386.75" width="1.0" height="4.21" fill="#555"/>
<rect x="103.92" y="386.75" width="1.0" height="4.21" fill="#555"/>
<text x="0" y="0" font-size="6.3" fill="#f8c4cd" stroke="#f8c4cd" stroke-width="0.18" text-anchor="middle" transform="translate(63.28,397.51) rotate(0.05)">R</text>
<rect x="83.35" y="393.16" width="1.0" height="4.21" fill="#555"/>
<text x="0" y="0" font-size="6.3" fill="#f8c4cd" stroke="#f8c4cd" stroke-width="0.18" text-anchor="middle" transform="translate(104.42,397.51) rotate(0.05)">R</text>
<text x="0" y="0" font-size="6.3" fill="#f8c4cd" stroke="#f8c4cd" stroke-width="0.18" text-anchor="middle" transform="translate(63.28,403.92) rotate(0.05)">R</text>
<rect x="83.35" y="399.56" width="1.0" height="4.21" fill="#555"/>
<text x="0" y="0" font-size="6.3" fill="#f8c4cd" stroke="#f8c4cd" stroke-width="0.18" text-anchor="middle" transform="translate(104.42,403.92) rotate(0.05)">R</text>
<text x="0" y="0" font-size="6.3" fill="#f8c4cd" stroke="#f8c4cd" stroke-width="0.18" text-anchor="middle" transform="translate(63.28,410.33) rotate(0.05)">R</text>
<text x="0" y="0" font-size="6.3" fill="#f8c4cd" stroke="#f8c4cd" stroke-width="0.18" text-anchor="middle" transform="translate(83.85,410.33) rotate(0.05)">R</text>
<rect x="103.92" y="405.97" width="1.0" height="4.21" fill="#555"/>
<text x="0" y="0" font-size="6.3" fill="#f8c4cd" stroke="#f8c4cd" stroke-width="0.18" text-anchor="middle" transform="translate(63.28,416.73) rotate(0.05)">R</text>
<rect x="83.35" y="412.38" width="1.0" height="4.21" fill="#555"/>
<rect x="103.92" y="412.38" width="1.0" height="4.21" fill="#555"/>
<text x="0" y="0" font-size="6.3" fill="#f8c4cd" stroke="#f8c4cd" stroke-width="0.18" text-anchor="middle" transform="translate(63.28,423.14) rotate(0.05)">R</text>
<rect x="83.35" y="418.79" width="1.0" height="4.21" fill="#555"/>
<rect x="103.92" y="418.79" width="1.0" height="4.21" fill="#555"/>
<text x="0" y="0" font-size="6.3" fill="#f8c4cd" stroke="#f8c4cd" stroke-width="0.18" text-anchor="middle" transform="translate(63.28,429.55) rotate(0.05)">R</text>
<rect x="83.35" y="425.20" width="1.0" height="4.21" fill="#555"/>
<rect x="103.92" y="425.20" width="1.0" height="4.21" fill="#555"/>
<text x="0" y="0" font-size="6.3" fill="#f8c4cd" stroke="#f8c4cd" stroke-width="0.18" text-anchor="middle" transform="translate(63.28,435.96) rotate(0.05)">R</text>
<text x="0" y="0" font-size="6.3" fill="#f8c4cd" stroke="#f8c4cd" stroke-width="0.18" text-anchor="middle" transform="translate(83.85,435.96) rotate(0.05)">R</text>
<rect x="103.92" y="431.60" width="1.0" height="4.21" fill="#555"/>
<text x="0" y="0" font-size="6.3" fill="#f8c4cd" stroke="#f8c4cd" stroke-width="0.18" text-anchor="middle" transform="translate(63.28,442.37) rotate(0.05)">R</text>
<text x="0" y="0" font-size="6.3" fill="#f8c4cd" stroke="#f8c4cd" stroke-width="0.18" text-anchor="middle" transform="translate(83.85,442.37) rotate(0.05)">R</text>
<text x="0" y="0" font-size="6.3" fill="#f8c4cd" stroke="#f8c4cd" stroke-width="0.18" text-anchor="middle" transform="translate(104.42,442.37) rotate(0.05)">R</text>
<text x="0" y="0" font-size="6.3" fill="#f8c4cd" stroke="#f8c4cd" stroke-width="0.18" text-anchor="middle" transform="translate(63.28,448.77) rotate(0.05)">R</text>
<rect x="83.35" y="444.42" width="1.0" height="4.21" fill="#555"/>
<rect x="103.92" y="444.42" width="1.0" height="4.21" fill="#555"/>
<text x="0" y="0" font-size="6.3" fill="#f8c4cd" stroke="#f8c4cd" stroke-width="0.18" text-anchor="middle" transform="translate(63.28,455.18) rotate(0.05)">R</text>
<rect x="83.35" y="450.83" width="1.0" height="4.21" fill="#555"/>
<text x="0" y="0" font-size="6.3" fill="#f8c4cd" stroke="#f8c4cd" stroke-width="0.18" text-anchor="middle" transform="translate(104.42,455.18) rotate(0.05)">R</text>
<text x="0" y="0" font-size="6.3" fill="#f8c4cd" stroke="#f8c4cd" stroke-width="0.18" text-anchor="middle" transform="translate(63.28,461.59) rotate(0.05)">R</text>
<text x="0" y="0" font-size="6.3" fill="#f8c4cd" stroke="#f8c4cd" stroke-width="0.18" text-anchor="middle" transform="translate(83.85,461.59) rotate(0.05)">R</text>
<rect x="103.92" y="457.24" width="1.0" height="4.21" fill="#555"/>
<text x="0" y="0" font-size="6.3" fill="#f8c4cd" stroke="#f8c4cd" stroke-width="0.18" text-anchor="middle" transform="translate(63.28,468.00) rotate(0.05)">R</text>
<text x="0" y="0" font-size="6.3" fill="#f8c4cd" stroke="#f8c4cd" stroke-width="0.18" text-anchor="middle" transform="translate(83.85,468.00) rotate(0.05)">R</text>
<text x="0" y="0" font-size="6.3" fill="#f8c4cd" stroke="#f8c4cd" stroke-width="0.18" text-anchor="middle" transform="translate(104.42,468.00) rotate(0.05)">R</text>
<text x="0" y="0" font-size="6.3" fill="#f8c4cd" stroke="#f8c4cd" stroke-width="0.18" text-anchor="middle" transform="translate(63.28,474.41) rotate(0.05)">R</text>
<rect x="83.35" y="470.05" width="1.0" height="4.21" fill="#555"/>
<rect x="103.92" y="470.05" width="1.0" height="4.21" fill="#555"/>
<text x="0" y="0" font-size="6.3" fill="#f8c4cd" stroke="#f8c4cd" stroke-width="0.18" text-anchor="middle" transform="translate(63.28,480.81) rotate(0.05)">R</text>
<rect x="83.35" y="476.46" width="1.0" height="4.21" fill="#555"/>
<text x="0" y="0" font-size="6.3" fill="#f8c4cd" stroke="#f8c4cd" stroke-width="0.18" text-anchor="middle" transform="translate(104.42,480.81) rotate(0.05)">R</text>
<text x="0" y="0" font-size="6.3" fill="#f8c4cd" stroke="#f8c4cd" stroke-width="0.18" text-anchor="middle" transform="translate(63.28,487.22) rotate(0.05)">R</text>
<text x="0" y="0" font-size="6.3" fill="#f8c4cd" stroke="#f8c4cd" stroke-width="0.18" text-anchor="middle" transform="translate(83.85,487.22) rotate(0.05)">R</text>
<rect x="103.92" y="482.87" width="1.0" height="4.21" fill="#555"/>
<text x="0" y="0" font-size="6.3" fill="#f8c4cd" stroke="#f8c4cd" stroke-width="0.18" text-anchor="middle" transform="translate(63.28,493.63) rotate(0.05)">R</text>
<rect x="83.35" y="489.28" width="1.0" height="4.21" fill="#555"/>
<rect x="103.92" y="489.28" width="1.0" height="4.21" fill="#555"/>
<text x="0" y="0" font-size="6.3" fill="#f8c4cd" stroke="#f8c4cd" stroke-width="0.18" text-anchor="middle" transform="translate(63.28,500.04) rotate(0.05)">R</text>
<rect x="83.35" y="495.68" width="1.0" height="4.21" fill="#555"/>
<rect x="103.92" y="495.68" width="1.0" height="4.21" fill="#555"/>
<text x="0" y="0" font-size="6.3" fill="#f8c4cd" stroke="#f8c4cd" stroke-width="0.18" text-anchor="middle" transform="translate(63.28,506.45) rotate(0.05)">R</text>
<rect x="83.35" y="502.09" width="1.0" height="4.21" fill="#555"/>
<rect x="103.92" y="502.09" width="1.0" height="4.21" fill="#555"/>
<text x="0" y="0" font-size="6.2" fill="#231f20" stroke="#231f20" stroke-width="0.12" text-anchor="end" transform="translate(66.68,513.50) rotate(-45)">arac.d4.MLE</text>
<text x="0" y="0" font-size="6.2" fill="#231f20" stroke="#231f20" stroke-width="0.12" text-anchor="end" transform="translate(87.25,513.50) rotate(-45)">dauno.d4.MLE</text>
<text x="0" y="0" font-size="6.2" fill="#231f20" stroke="#231f20" stroke-width="0.12" text-anchor="end" transform="translate(107.82,513.50) rotate(-45)">etop.d4.MLE</text>
<text transform="translate(185.85,183.20) rotate(0.05)" font-size="8.45" fill="#1e1e1e" text-anchor="middle" font-weight="normal"  stroke="#1e1e1e" stroke-width="0.12">Dauno Top/Bottom</text>
<rect x="155.00" y="187.00" width="20.57" height="6.408" fill="#134d8c"/>
<rect x="175.57" y="187.00" width="20.57" height="6.408" fill="#134d8c"/>
<rect x="196.13" y="187.00" width="20.57" height="6.408" fill="#134d8c"/>
<text transform="translate(152.00,192.45) rotate(0.05)" font-size="6.25" fill="#2b2b2b" text-anchor="end" font-weight="normal"  stroke="#2b2b2b" stroke-width="0.2">HMGCS1</text>
<rect x="155.00" y="193.41" width="20.57" height="6.408" fill="#134d8c"/>
<rect x="175.57" y="193.41" width="20.57" height="6.408" fill="#134d8c"/>
<rect x="196.13" y="193.41" width="20.57" height="6.408" fill="#134d8c"/>
<text transform="translate(152.00,198.86) rotate(0.05)" font-size="6.25" fill="#2b2b2b" text-anchor="end" font-weight="normal"  stroke="#2b2b2b" stroke-width="0.2">DDX10</text>
<rect x="155.00" y="199.82" width="20.57" height="6.408" fill="#134d8c"/>
<rect x="175.57" y="199.82" width="20.57" height="6.408" fill="#134d8c"/>
<rect x="196.13" y="199.82" width="20.57" height="6.408" fill="#134d8c"/>
<text transform="translate(152.00,205.27) rotate(0.05)" font-size="6.25" fill="#2b2b2b" text-anchor="end" font-weight="normal"  stroke="#2b2b2b" stroke-width="0.2">PHB2</text>
<rect x="155.00" y="206.22" width="20.57" height="6.408" fill="#134d8c"/>
<rect x="175.57" y="206.22" width="20.57" height="6.408" fill="#134d8c"/>
<rect x="196.13" y="206.22" width="20.57" height="6.408" fill="#134d8c"/>
<text transform="translate(152.00,211.68) rotate(0.05)" font-size="6.25" fill="#2b2b2b" text-anchor="end" font-weight="normal"  stroke="#2b2b2b" stroke-width="0.2">GAPDH</text>
<rect x="155.00" y="212.63" width="20.57" height="6.408" fill="#134d8c"/>
<rect x="175.57" y="212.63" width="20.57" height="6.408" fill="#134d8c"/>
<rect x="196.13" y="212.63" width="20.57" height="6.408" fill="#134d8c"/>
<text transform="translate(152.00,218.09) rotate(0.05)" font-size="6.25" fill="#2b2b2b" text-anchor="end" font-weight="normal"  stroke="#2b2b2b" stroke-width="0.2">CCT6A</text>
<rect x="155.00" y="219.04" width="20.57" height="6.408" fill="#134d8c"/>
<rect x="175.57" y="219.04" width="20.57" height="6.408" fill="#134d8c"/>
<rect x="196.13" y="219.04" width="20.57" height="6.408" fill="#134d8c"/>
<text transform="translate(152.00,224.49) rotate(0.05)" font-size="6.25" fill="#2b2b2b" text-anchor="end" font-weight="normal"  stroke="#2b2b2b" stroke-width="0.2">GPN2</text>
<rect x="155.00" y="225.45" width="20.57" height="6.408" fill="#134d8c"/>
<rect x="175.57" y="225.45" width="20.57" height="6.408" fill="#134d8c"/>
<rect x="196.13" y="225.45" width="20.57" height="6.408" fill="#134d8c"/>
<text transform="translate(152.00,230.90) rotate(0.05)" font-size="6.25" fill="#2b2b2b" text-anchor="end" font-weight="normal"  stroke="#2b2b2b" stroke-width="0.2">RPL17</text>
<rect x="155.00" y="231.86" width="20.57" height="6.408" fill="#134d8c"/>
<rect x="175.57" y="231.86" width="20.57" height="6.408" fill="#134d8c"/>
<rect x="196.13" y="231.86" width="20.57" height="6.408" fill="#134d8c"/>
<text transform="translate(152.00,237.31) rotate(0.05)" font-size="6.25" fill="#2b2b2b" text-anchor="end" font-weight="normal"  stroke="#2b2b2b" stroke-width="0.2">DHX8</text>
<rect x="155.00" y="238.26" width="20.57" height="6.408" fill="#134d8c"/>
<rect x="175.57" y="238.26" width="20.57" height="6.408" fill="#134d8c"/>
<rect x="196.13" y="238.26" width="20.57" height="6.408" fill="#134d8c"/>
<text transform="translate(152.00,243.72) rotate(0.05)" font-size="6.25" fill="#2b2b2b" text-anchor="end" font-weight="normal"  stroke="#2b2b2b" stroke-width="0.2">EEF1A1</text>
<rect x="155.00" y="244.67" width="20.57" height="6.408" fill="#134d8c"/>
<rect x="175.57" y="244.67" width="20.57" height="6.408" fill="#134d8c"/>
<rect x="196.13" y="244.67" width="20.57" height="6.408" fill="#134d8c"/>
<text transform="translate(152.00,250.13) rotate(0.05)" font-size="6.25" fill="#2b2b2b" text-anchor="end" font-weight="normal"  stroke="#2b2b2b" stroke-width="0.2">CPSF2</text>
<rect x="155.00" y="251.08" width="20.57" height="6.408" fill="#134d8c"/>
<rect x="175.57" y="251.08" width="20.57" height="6.408" fill="#134d8c"/>
<rect x="196.13" y="251.08" width="20.57" height="6.408" fill="#134d8c"/>
<text transform="translate(152.00,256.53) rotate(0.05)" font-size="6.25" fill="#2b2b2b" text-anchor="end" font-weight="normal"  stroke="#2b2b2b" stroke-width="0.2">RTN4R</text>
<rect x="155.00" y="257.49" width="20.57" height="6.408" fill="#134d8c"/>
<rect x="175.57" y="257.49" width="20.57" height="6.408" fill="#134d8c"/>
<rect x="196.13" y="257.49" width="20.57" height="6.408" fill="#134d8c"/>
<text transform="translate(152.00,262.94) rotate(0.05)" font-size="6.25" fill="#2b2b2b" text-anchor="end" font-weight="normal"  stroke="#2b2b2b" stroke-width="0.2">RPL8</text>
<rect x="155.00" y="263.90" width="20.57" height="6.408" fill="#134d8c"/>
<rect x="175.57" y="263.90" width="20.57" height="6.408" fill="#134d8c"/>
<rect x="196.13" y="263.90" width="20.57" height="6.408" fill="#134d8c"/>
<text transform="translate(152.00,269.35) rotate(0.05)" font-size="6.25" fill="#2b2b2b" text-anchor="end" font-weight="normal"  stroke="#2b2b2b" stroke-width="0.2">RPS18</text>
<rect x="155.00" y="270.30" width="20.57" height="6.408" fill="#134d8c"/>
<rect x="175.57" y="270.30" width="20.57" height="6.408" fill="#134d8c"/>
<rect x="196.13" y="270.30" width="20.57" height="6.408" fill="#134d8c"/>
<text transform="translate(152.00,275.76) rotate(0.05)" font-size="6.25" fill="#2b2b2b" text-anchor="end" font-weight="normal"  stroke="#2b2b2b" stroke-width="0.2">YAE1D1</text>
<rect x="155.00" y="276.71" width="20.57" height="6.408" fill="#134d8c"/>
<rect x="175.57" y="276.71" width="20.57" height="6.408" fill="#134d8c"/>
<rect x="196.13" y="276.71" width="20.57" height="6.408" fill="#134d8c"/>
<text transform="translate(152.00,282.17) rotate(0.05)" font-size="6.25" fill="#2b2b2b" text-anchor="end" font-weight="normal"  stroke="#2b2b2b" stroke-width="0.2">KPNB1</text>
<rect x="155.00" y="283.12" width="20.57" height="6.408" fill="#134d8c"/>
<rect x="175.57" y="283.12" width="20.57" height="6.408" fill="#134d8c"/>
<rect x="196.13" y="283.12" width="20.57" height="6.408" fill="#134d8c"/>
<text transform="translate(152.00,288.57) rotate(0.05)" font-size="6.25" fill="#2b2b2b" text-anchor="end" font-weight="normal"  stroke="#2b2b2b" stroke-width="0.2">DGCR8</text>
<rect x="155.00" y="289.53" width="20.57" height="6.408" fill="#134d8c"/>
<rect x="175.57" y="289.53" width="20.57" height="6.408" fill="#134d8c"/>
<rect x="196.13" y="289.53" width="20.57" height="6.408" fill="#134d8c"/>
<text transform="translate(152.00,294.98) rotate(0.05)" font-size="6.25" fill="#2b2b2b" text-anchor="end" font-weight="normal"  stroke="#2b2b2b" stroke-width="0.2">RAD9A</text>
<rect x="155.00" y="295.94" width="20.57" height="6.408" fill="#134d8c"/>
<rect x="175.57" y="295.94" width="20.57" height="6.408" fill="#134d8c"/>
<rect x="196.13" y="295.94" width="20.57" height="6.408" fill="#134d8c"/>
<text transform="translate(152.00,301.39) rotate(0.05)" font-size="6.25" fill="#2b2b2b" text-anchor="end" font-weight="normal"  stroke="#2b2b2b" stroke-width="0.2">SKIV2L2</text>
<rect x="155.00" y="302.34" width="20.57" height="6.408" fill="#134d8c"/>
<rect x="175.57" y="302.34" width="20.57" height="6.408" fill="#134d8c"/>
<rect x="196.13" y="302.34" width="20.57" height="6.408" fill="#134d8c"/>
<text transform="translate(152.00,307.80) rotate(0.05)" font-size="6.25" fill="#2b2b2b" text-anchor="end" font-weight="normal"  stroke="#2b2b2b" stroke-width="0.2">SPDYE2B</text>
<rect x="155.00" y="308.75" width="20.57" height="6.408" fill="#134d8c"/>
<rect x="175.57" y="308.75" width="20.57" height="6.408" fill="#134d8c"/>
<rect x="196.13" y="308.75" width="20.57" height="6.408" fill="#134d8c"/>
<text transform="translate(152.00,314.21) rotate(0.05)" font-size="6.25" fill="#2b2b2b" text-anchor="end" font-weight="normal"  stroke="#2b2b2b" stroke-width="0.2">POLR2L</text>
<rect x="155.00" y="315.16" width="20.57" height="6.408" fill="#134d8c"/>
<rect x="175.57" y="315.16" width="20.57" height="6.408" fill="#134d8c"/>
<rect x="196.13" y="315.16" width="20.57" height="6.408" fill="#134d8c"/>
<text transform="translate(152.00,320.61) rotate(0.05)" font-size="6.25" fill="#2b2b2b" text-anchor="end" font-weight="normal"  stroke="#2b2b2b" stroke-width="0.2">CENPK</text>
<rect x="155.00" y="321.57" width="20.57" height="6.408" fill="#134d8c"/>
<rect x="175.57" y="321.57" width="20.57" height="6.408" fill="#134d8c"/>
<rect x="196.13" y="321.57" width="20.57" height="6.408" fill="#134d8c"/>
<text transform="translate(152.00,327.02) rotate(0.05)" font-size="6.25" fill="#2b2b2b" text-anchor="end" font-weight="normal"  stroke="#2b2b2b" stroke-width="0.2">NHP2</text>
<rect x="155.00" y="327.98" width="20.57" height="6.408" fill="#134d8c"/>
<rect x="175.57" y="327.98" width="20.57" height="6.408" fill="#134d8c"/>
<rect x="196.13" y="327.98" width="20.57" height="6.408" fill="#134d8c"/>
<text transform="translate(152.00,333.43) rotate(0.05)" font-size="6.25" fill="#2b2b2b" text-anchor="end" font-weight="normal"  stroke="#2b2b2b" stroke-width="0.2">MYB</text>
<rect x="155.00" y="334.38" width="20.57" height="6.408" fill="#134d8c"/>
<rect x="175.57" y="334.38" width="20.57" height="6.408" fill="#134d8c"/>
<rect x="196.13" y="334.38" width="20.57" height="6.408" fill="#134d8c"/>
<text transform="translate(152.00,339.84) rotate(0.05)" font-size="6.25" fill="#2b2b2b" text-anchor="end" font-weight="normal"  stroke="#2b2b2b" stroke-width="0.2">VARS</text>
<rect x="155.00" y="340.79" width="20.57" height="6.408" fill="#134d8c"/>
<rect x="175.57" y="340.79" width="20.57" height="6.408" fill="#134d8c"/>
<rect x="196.13" y="340.79" width="20.57" height="6.408" fill="#134d8c"/>
<text transform="translate(152.00,346.25) rotate(0.05)" font-size="6.25" fill="#2b2b2b" text-anchor="end" font-weight="normal"  stroke="#2b2b2b" stroke-width="0.2">TXN</text>
<rect x="155.00" y="347.20" width="20.57" height="6.408" fill="#d1d2d5"/>
<rect x="175.57" y="347.20" width="20.57" height="6.408" fill="#cb0f2e"/>
<rect x="196.13" y="347.20" width="20.57" height="6.408" fill="#d1d2d5"/>
<text transform="translate(152.00,352.65) rotate(0.05)" font-size="6.25" fill="#2b2b2b" text-anchor="end" font-weight="normal"  stroke="#2b2b2b" stroke-width="0.2">CDC23</text>
<rect x="155.00" y="353.61" width="20.57" height="6.408" fill="#d1d2d5"/>
<rect x="175.57" y="353.61" width="20.57" height="6.408" fill="#cb0f2e"/>
<rect x="196.13" y="353.61" width="20.57" height="6.408" fill="#d1d2d5"/>
<text transform="translate(152.00,359.06) rotate(0.05)" font-size="6.25" fill="#2b2b2b" text-anchor="end" font-weight="normal"  stroke="#2b2b2b" stroke-width="0.2">RBMX2</text>
<rect x="155.00" y="360.02" width="20.57" height="6.408" fill="#d1d2d5"/>
<rect x="175.57" y="360.02" width="20.57" height="6.408" fill="#cb0f2e"/>
<rect x="196.13" y="360.02" width="20.57" height="6.408" fill="#d1d2d5"/>
<text transform="translate(152.00,365.47) rotate(0.05)" font-size="6.25" fill="#2b2b2b" text-anchor="end" font-weight="normal"  stroke="#2b2b2b" stroke-width="0.2">KLF14</text>
<rect x="155.00" y="366.42" width="20.57" height="6.408" fill="#d1d2d5"/>
<rect x="175.57" y="366.42" width="20.57" height="6.408" fill="#cb0f2e"/>
<rect x="196.13" y="366.42" width="20.57" height="6.408" fill="#d1d2d5"/>
<text transform="translate(152.00,371.88) rotate(0.05)" font-size="6.25" fill="#2b2b2b" text-anchor="end" font-weight="normal"  stroke="#2b2b2b" stroke-width="0.2">CT47A8</text>
<rect x="155.00" y="372.83" width="20.57" height="6.408" fill="#d1d2d5"/>
<rect x="175.57" y="372.83" width="20.57" height="6.408" fill="#cb0f2e"/>
<rect x="196.13" y="372.83" width="20.57" height="6.408" fill="#d1d2d5"/>
<text transform="translate(152.00,378.29) rotate(0.05)" font-size="6.25" fill="#2b2b2b" text-anchor="end" font-weight="normal"  stroke="#2b2b2b" stroke-width="0.2">CT47A5</text>
<rect x="155.00" y="379.24" width="20.57" height="6.408" fill="#d1d2d5"/>
<rect x="175.57" y="379.24" width="20.57" height="6.408" fill="#cb0f2e"/>
<rect x="196.13" y="379.24" width="20.57" height="6.408" fill="#d1d2d5"/>
<text transform="translate(152.00,384.69) rotate(0.05)" font-size="6.25" fill="#2b2b2b" text-anchor="end" font-weight="normal"  stroke="#2b2b2b" stroke-width="0.2">AHNAK2</text>
<rect x="155.00" y="385.65" width="20.57" height="6.408" fill="#d1d2d5"/>
<rect x="175.57" y="385.65" width="20.57" height="6.408" fill="#cb0f2e"/>
<rect x="196.13" y="385.65" width="20.57" height="6.408" fill="#d1d2d5"/>
<text transform="translate(152.00,391.10) rotate(0.05)" font-size="6.25" fill="#2b2b2b" text-anchor="end" font-weight="normal"  stroke="#2b2b2b" stroke-width="0.2">FOXE1</text>
<rect x="155.00" y="392.06" width="20.57" height="6.408" fill="#d1d2d5"/>
<rect x="175.57" y="392.06" width="20.57" height="6.408" fill="#cb0f2e"/>
<rect x="196.13" y="392.06" width="20.57" height="6.408" fill="#d1d2d5"/>
<text transform="translate(152.00,397.51) rotate(0.05)" font-size="6.25" fill="#2b2b2b" text-anchor="end" font-weight="normal"  stroke="#2b2b2b" stroke-width="0.2">COX7A1</text>
<rect x="155.00" y="398.46" width="20.57" height="6.408" fill="#d1d2d5"/>
<rect x="175.57" y="398.46" width="20.57" height="6.408" fill="#cb0f2e"/>
<rect x="196.13" y="398.46" width="20.57" height="6.408" fill="#d1d2d5"/>
<text transform="translate(152.00,403.92) rotate(0.05)" font-size="6.25" fill="#2b2b2b" text-anchor="end" font-weight="normal"  stroke="#2b2b2b" stroke-width="0.2">TMEM41A</text>
<rect x="155.00" y="404.87" width="20.57" height="6.408" fill="#d1d2d5"/>
<rect x="175.57" y="404.87" width="20.57" height="6.408" fill="#cb0f2e"/>
<rect x="196.13" y="404.87" width="20.57" height="6.408" fill="#d1d2d5"/>
<text transform="translate(152.00,410.33) rotate(0.05)" font-size="6.25" fill="#2b2b2b" text-anchor="end" font-weight="normal"  stroke="#2b2b2b" stroke-width="0.2">NFKBIE</text>
<rect x="155.00" y="411.28" width="20.57" height="6.408" fill="#d1d2d5"/>
<rect x="175.57" y="411.28" width="20.57" height="6.408" fill="#cb0f2e"/>
<rect x="196.13" y="411.28" width="20.57" height="6.408" fill="#cb0f2e"/>
<text transform="translate(152.00,416.73) rotate(0.05)" font-size="6.25" fill="#2b2b2b" text-anchor="end" font-weight="normal"  stroke="#2b2b2b" stroke-width="0.2">SPHAR</text>
<rect x="155.00" y="417.69" width="20.57" height="6.408" fill="#d1d2d5"/>
<rect x="175.57" y="417.69" width="20.57" height="6.408" fill="#cb0f2e"/>
<rect x="196.13" y="417.69" width="20.57" height="6.408" fill="#d1d2d5"/>
<text transform="translate(152.00,423.14) rotate(0.05)" font-size="6.25" fill="#2b2b2b" text-anchor="end" font-weight="normal"  stroke="#2b2b2b" stroke-width="0.2">LIX1L</text>
<rect x="155.00" y="424.10" width="20.57" height="6.408" fill="#d1d2d5"/>
<rect x="175.57" y="424.10" width="20.57" height="6.408" fill="#cb0f2e"/>
<rect x="196.13" y="424.10" width="20.57" height="6.408" fill="#d1d2d5"/>
<text transform="translate(152.00,429.55) rotate(0.05)" font-size="6.25" fill="#2b2b2b" text-anchor="end" font-weight="normal"  stroke="#2b2b2b" stroke-width="0.2">NKX3__1</text>
<rect x="155.00" y="430.50" width="20.57" height="6.408" fill="#d1d2d5"/>
<rect x="175.57" y="430.50" width="20.57" height="6.408" fill="#cb0f2e"/>
<rect x="196.13" y="430.50" width="20.57" height="6.408" fill="#d1d2d5"/>
<text transform="translate(152.00,435.96) rotate(0.05)" font-size="6.25" fill="#2b2b2b" text-anchor="end" font-weight="normal"  stroke="#2b2b2b" stroke-width="0.2">SLX1B</text>
<rect x="155.00" y="436.91" width="20.57" height="6.408" fill="#d1d2d5"/>
<rect x="175.57" y="436.91" width="20.57" height="6.408" fill="#cb0f2e"/>
<rect x="196.13" y="436.91" width="20.57" height="6.408" fill="#d1d2d5"/>
<text transform="translate(152.00,442.37) rotate(0.05)" font-size="6.25" fill="#2b2b2b" text-anchor="end" font-weight="normal"  stroke="#2b2b2b" stroke-width="0.2">ZNF705B</text>
<rect x="155.00" y="443.32" width="20.57" height="6.408" fill="#d1d2d5"/>
<rect x="175.57" y="443.32" width="20.57" height="6.408" fill="#cb0f2e"/>
<rect x="196.13" y="443.32" width="20.57" height="6.408" fill="#d1d2d5"/>
<text transform="translate(152.00,448.77) rotate(0.05)" font-size="6.25" fill="#2b2b2b" text-anchor="end" font-weight="normal"  stroke="#2b2b2b" stroke-width="0.2">PIGX</text>
<rect x="155.00" y="449.73" width="20.57" height="6.408" fill="#d1d2d5"/>
<rect x="175.57" y="449.73" width="20.57" height="6.408" fill="#cb0f2e"/>
<rect x="196.13" y="449.73" width="20.57" height="6.408" fill="#d1d2d5"/>
<text transform="translate(152.00,455.18) rotate(0.05)" font-size="6.25" fill="#2b2b2b" text-anchor="end" font-weight="normal"  stroke="#2b2b2b" stroke-width="0.2">MXRA7</text>
<rect x="155.00" y="456.14" width="20.57" height="6.408" fill="#d1d2d5"/>
<rect x="175.57" y="456.14" width="20.57" height="6.408" fill="#cb0f2e"/>
<rect x="196.13" y="456.14" width="20.57" height="6.408" fill="#d1d2d5"/>
<text transform="translate(152.00,461.59) rotate(0.05)" font-size="6.25" fill="#2b2b2b" text-anchor="end" font-weight="normal"  stroke="#2b2b2b" stroke-width="0.2">F8A3</text>
<rect x="155.00" y="462.54" width="20.57" height="6.408" fill="#d1d2d5"/>
<rect x="175.57" y="462.54" width="20.57" height="6.408" fill="#cb0f2e"/>
<rect x="196.13" y="462.54" width="20.57" height="6.408" fill="#d1d2d5"/>
<text transform="translate(152.00,468.00) rotate(0.05)" font-size="6.25" fill="#2b2b2b" text-anchor="end" font-weight="normal"  stroke="#2b2b2b" stroke-width="0.2">EGR4</text>
<rect x="155.00" y="468.95" width="20.57" height="6.408" fill="#cb0f2e"/>
<rect x="175.57" y="468.95" width="20.57" height="6.408" fill="#cb0f2e"/>
<rect x="196.13" y="468.95" width="20.57" height="6.408" fill="#d1d2d5"/>
<text transform="translate(152.00,474.41) rotate(0.05)" font-size="6.25" fill="#2b2b2b" text-anchor="end" font-weight="normal"  stroke="#2b2b2b" stroke-width="0.2">FOXO3</text>
<rect x="155.00" y="475.36" width="20.57" height="6.408" fill="#d1d2d5"/>
<rect x="175.57" y="475.36" width="20.57" height="6.408" fill="#cb0f2e"/>
<rect x="196.13" y="475.36" width="20.57" height="6.408" fill="#d1d2d5"/>
<text transform="translate(152.00,480.81) rotate(0.05)" font-size="6.25" fill="#2b2b2b" text-anchor="end" font-weight="normal"  stroke="#2b2b2b" stroke-width="0.2">KCNMA1</text>
<rect x="155.00" y="481.77" width="20.57" height="6.408" fill="#d1d2d5"/>
<rect x="175.57" y="481.77" width="20.57" height="6.408" fill="#cb0f2e"/>
<rect x="196.13" y="481.77" width="20.57" height="6.408" fill="#d1d2d5"/>
<text transform="translate(152.00,487.22) rotate(0.05)" font-size="6.25" fill="#2b2b2b" text-anchor="end" font-weight="normal"  stroke="#2b2b2b" stroke-width="0.2">LCE1D</text>
<rect x="155.00" y="488.18" width="20.57" height="6.408" fill="#d1d2d5"/>
<rect x="175.57" y="488.18" width="20.57" height="6.408" fill="#cb0f2e"/>
<rect x="196.13" y="488.18" width="20.57" height="6.408" fill="#d1d2d5"/>
<text transform="translate(152.00,493.63) rotate(0.05)" font-size="6.25" fill="#2b2b2b" text-anchor="end" font-weight="normal"  stroke="#2b2b2b" stroke-width="0.2">TMEM92</text>
<rect x="155.00" y="494.58" width="20.57" height="6.408" fill="#d1d2d5"/>
<rect x="175.57" y="494.58" width="20.57" height="6.408" fill="#cb0f2e"/>
<rect x="196.13" y="494.58" width="20.57" height="6.408" fill="#d1d2d5"/>
<text transform="translate(152.00,500.04) rotate(0.05)" font-size="6.25" fill="#2b2b2b" text-anchor="end" font-weight="normal"  stroke="#2b2b2b" stroke-width="0.2">SCAND1</text>
<rect x="155.00" y="500.99" width="20.57" height="6.408" fill="#cb0f2e"/>
<rect x="175.57" y="500.99" width="20.57" height="6.408" fill="#cb0f2e"/>
<rect x="196.13" y="500.99" width="20.57" height="6.408" fill="#d1d2d5"/>
<text transform="translate(152.00,506.45) rotate(0.05)" font-size="6.25" fill="#2b2b2b" text-anchor="end" font-weight="normal"  stroke="#2b2b2b" stroke-width="0.2">C2CD4B</text>
<line x1="155.00" y1="193.41" x2="216.70" y2="193.41" stroke="#fff" stroke-opacity="0.45" stroke-width="0.9"/>
<line x1="155.00" y1="199.82" x2="216.70" y2="199.82" stroke="#fff" stroke-opacity="0.45" stroke-width="0.9"/>
<line x1="155.00" y1="206.22" x2="216.70" y2="206.22" stroke="#fff" stroke-opacity="0.45" stroke-width="0.9"/>
<line x1="155.00" y1="212.63" x2="216.70" y2="212.63" stroke="#fff" stroke-opacity="0.45" stroke-width="0.9"/>
<line x1="155.00" y1="219.04" x2="216.70" y2="219.04" stroke="#fff" stroke-opacity="0.45" stroke-width="0.9"/>
<line x1="155.00" y1="225.45" x2="216.70" y2="225.45" stroke="#fff" stroke-opacity="0.45" stroke-width="0.9"/>
<line x1="155.00" y1="231.86" x2="216.70" y2="231.86" stroke="#fff" stroke-opacity="0.45" stroke-width="0.9"/>
<line x1="155.00" y1="238.26" x2="216.70" y2="238.26" stroke="#fff" stroke-opacity="0.45" stroke-width="0.9"/>
<line x1="155.00" y1="244.67" x2="216.70" y2="244.67" stroke="#fff" stroke-opacity="0.45" stroke-width="0.9"/>
<line x1="155.00" y1="251.08" x2="216.70" y2="251.08" stroke="#fff" stroke-opacity="0.45" stroke-width="0.9"/>
<line x1="155.00" y1="257.49" x2="216.70" y2="257.49" stroke="#fff" stroke-opacity="0.45" stroke-width="0.9"/>
<line x1="155.00" y1="263.90" x2="216.70" y2="263.90" stroke="#fff" stroke-opacity="0.45" stroke-width="0.9"/>
<line x1="155.00" y1="270.30" x2="216.70" y2="270.30" stroke="#fff" stroke-opacity="0.45" stroke-width="0.9"/>
<line x1="155.00" y1="276.71" x2="216.70" y2="276.71" stroke="#fff" stroke-opacity="0.45" stroke-width="0.9"/>
<line x1="155.00" y1="283.12" x2="216.70" y2="283.12" stroke="#fff" stroke-opacity="0.45" stroke-width="0.9"/>
<line x1="155.00" y1="289.53" x2="216.70" y2="289.53" stroke="#fff" stroke-opacity="0.45" stroke-width="0.9"/>
<line x1="155.00" y1="295.94" x2="216.70" y2="295.94" stroke="#fff" stroke-opacity="0.45" stroke-width="0.9"/>
<line x1="155.00" y1="302.34" x2="216.70" y2="302.34" stroke="#fff" stroke-opacity="0.45" stroke-width="0.9"/>
<line x1="155.00" y1="308.75" x2="216.70" y2="308.75" stroke="#fff" stroke-opacity="0.45" stroke-width="0.9"/>
<line x1="155.00" y1="315.16" x2="216.70" y2="315.16" stroke="#fff" stroke-opacity="0.45" stroke-width="0.9"/>
<line x1="155.00" y1="321.57" x2="216.70" y2="321.57" stroke="#fff" stroke-opacity="0.45" stroke-width="0.9"/>
<line x1="155.00" y1="327.98" x2="216.70" y2="327.98" stroke="#fff" stroke-opacity="0.45" stroke-width="0.9"/>
<line x1="155.00" y1="334.38" x2="216.70" y2="334.38" stroke="#fff" stroke-opacity="0.45" stroke-width="0.9"/>
<line x1="155.00" y1="340.79" x2="216.70" y2="340.79" stroke="#fff" stroke-opacity="0.45" stroke-width="0.9"/>
<line x1="155.00" y1="347.20" x2="216.70" y2="347.20" stroke="#fff" stroke-opacity="0.45" stroke-width="0.9"/>
<line x1="155.00" y1="353.61" x2="216.70" y2="353.61" stroke="#fff" stroke-opacity="0.45" stroke-width="0.9"/>
<line x1="155.00" y1="360.02" x2="216.70" y2="360.02" stroke="#fff" stroke-opacity="0.45" stroke-width="0.9"/>
<line x1="155.00" y1="366.42" x2="216.70" y2="366.42" stroke="#fff" stroke-opacity="0.45" stroke-width="0.9"/>
<line x1="155.00" y1="372.83" x2="216.70" y2="372.83" stroke="#fff" stroke-opacity="0.45" stroke-width="0.9"/>
<line x1="155.00" y1="379.24" x2="216.70" y2="379.24" stroke="#fff" stroke-opacity="0.45" stroke-width="0.9"/>
<line x1="155.00" y1="385.65" x2="216.70" y2="385.65" stroke="#fff" stroke-opacity="0.45" stroke-width="0.9"/>
<line x1="155.00" y1="392.06" x2="216.70" y2="392.06" stroke="#fff" stroke-opacity="0.45" stroke-width="0.9"/>
<line x1="155.00" y1="398.46" x2="216.70" y2="398.46" stroke="#fff" stroke-opacity="0.45" stroke-width="0.9"/>
<line x1="155.00" y1="404.87" x2="216.70" y2="404.87" stroke="#fff" stroke-opacity="0.45" stroke-width="0.9"/>
<line x1="155.00" y1="411.28" x2="216.70" y2="411.28" stroke="#fff" stroke-opacity="0.45" stroke-width="0.9"/>
<line x1="155.00" y1="417.69" x2="216.70" y2="417.69" stroke="#fff" stroke-opacity="0.45" stroke-width="0.9"/>
<line x1="155.00" y1="424.10" x2="216.70" y2="424.10" stroke="#fff" stroke-opacity="0.45" stroke-width="0.9"/>
<line x1="155.00" y1="430.50" x2="216.70" y2="430.50" stroke="#fff" stroke-opacity="0.45" stroke-width="0.9"/>
<line x1="155.00" y1="436.91" x2="216.70" y2="436.91" stroke="#fff" stroke-opacity="0.45" stroke-width="0.9"/>
<line x1="155.00" y1="443.32" x2="216.70" y2="443.32" stroke="#fff" stroke-opacity="0.45" stroke-width="0.9"/>
<line x1="155.00" y1="449.73" x2="216.70" y2="449.73" stroke="#fff" stroke-opacity="0.45" stroke-width="0.9"/>
<line x1="155.00" y1="456.14" x2="216.70" y2="456.14" stroke="#fff" stroke-opacity="0.45" stroke-width="0.9"/>
<line x1="155.00" y1="462.54" x2="216.70" y2="462.54" stroke="#fff" stroke-opacity="0.45" stroke-width="0.9"/>
<line x1="155.00" y1="468.95" x2="216.70" y2="468.95" stroke="#fff" stroke-opacity="0.45" stroke-width="0.9"/>
<line x1="155.00" y1="475.36" x2="216.70" y2="475.36" stroke="#fff" stroke-opacity="0.45" stroke-width="0.9"/>
<line x1="155.00" y1="481.77" x2="216.70" y2="481.77" stroke="#fff" stroke-opacity="0.45" stroke-width="0.9"/>
<line x1="155.00" y1="488.18" x2="216.70" y2="488.18" stroke="#fff" stroke-opacity="0.45" stroke-width="0.9"/>
<line x1="155.00" y1="494.58" x2="216.70" y2="494.58" stroke="#fff" stroke-opacity="0.45" stroke-width="0.9"/>
<line x1="155.00" y1="500.99" x2="216.70" y2="500.99" stroke="#fff" stroke-opacity="0.45" stroke-width="0.9"/>
<line x1="175.57" y1="187.00" x2="175.57" y2="507.40" stroke="#fff" stroke-opacity="0.55" stroke-width="1.0"/>
<line x1="196.13" y1="187.00" x2="196.13" y2="507.40" stroke="#fff" stroke-opacity="0.55" stroke-width="1.0"/>
<text x="0" y="0" font-size="6.3" fill="#b8d2f0" stroke="#b8d2f0" stroke-width="0.18" text-anchor="middle" transform="translate(165.28,192.45) rotate(0.05)">S</text>
<text x="0" y="0" font-size="6.3" fill="#b8d2f0" stroke="#b8d2f0" stroke-width="0.18" text-anchor="middle" transform="translate(185.85,192.45) rotate(0.05)">S</text>
<text x="0" y="0" font-size="6.3" fill="#b8d2f0" stroke="#b8d2f0" stroke-width="0.18" text-anchor="middle" transform="translate(206.42,192.45) rotate(0.05)">S</text>
<text x="0" y="0" font-size="6.3" fill="#b8d2f0" stroke="#b8d2f0" stroke-width="0.18" text-anchor="middle" transform="translate(165.28,198.86) rotate(0.05)">S</text>
<text x="0" y="0" font-size="6.3" fill="#b8d2f0" stroke="#b8d2f0" stroke-width="0.18" text-anchor="middle" transform="translate(185.85,198.86) rotate(0.05)">S</text>
<text x="0" y="0" font-size="6.3" fill="#b8d2f0" stroke="#b8d2f0" stroke-width="0.18" text-anchor="middle" transform="translate(206.42,198.86) rotate(0.05)">S</text>
<text x="0" y="0" font-size="6.3" fill="#b8d2f0" stroke="#b8d2f0" stroke-width="0.18" text-anchor="middle" transform="translate(165.28,205.27) rotate(0.05)">S</text>
<text x="0" y="0" font-size="6.3" fill="#b8d2f0" stroke="#b8d2f0" stroke-width="0.18" text-anchor="middle" transform="translate(185.85,205.27) rotate(0.05)">S</text>
<text x="0" y="0" font-size="6.3" fill="#b8d2f0" stroke="#b8d2f0" stroke-width="0.18" text-anchor="middle" transform="translate(206.42,205.27) rotate(0.05)">S</text>
<text x="0" y="0" font-size="6.3" fill="#b8d2f0" stroke="#b8d2f0" stroke-width="0.18" text-anchor="middle" transform="translate(165.28,211.68) rotate(0.05)">S</text>
<text x="0" y="0" font-size="6.3" fill="#b8d2f0" stroke="#b8d2f0" stroke-width="0.18" text-anchor="middle" transform="translate(185.85,211.68) rotate(0.05)">S</text>
<text x="0" y="0" font-size="6.3" fill="#b8d2f0" stroke="#b8d2f0" stroke-width="0.18" text-anchor="middle" transform="translate(206.42,211.68) rotate(0.05)">S</text>
<text x="0" y="0" font-size="6.3" fill="#b8d2f0" stroke="#b8d2f0" stroke-width="0.18" text-anchor="middle" transform="translate(165.28,218.09) rotate(0.05)">S</text>
<text x="0" y="0" font-size="6.3" fill="#b8d2f0" stroke="#b8d2f0" stroke-width="0.18" text-anchor="middle" transform="translate(185.85,218.09) rotate(0.05)">S</text>
<text x="0" y="0" font-size="6.3" fill="#b8d2f0" stroke="#b8d2f0" stroke-width="0.18" text-anchor="middle" transform="translate(206.42,218.09) rotate(0.05)">S</text>
<text x="0" y="0" font-size="6.3" fill="#b8d2f0" stroke="#b8d2f0" stroke-width="0.18" text-anchor="middle" transform="translate(165.28,224.49) rotate(0.05)">S</text>
<text x="0" y="0" font-size="6.3" fill="#b8d2f0" stroke="#b8d2f0" stroke-width="0.18" text-anchor="middle" transform="translate(185.85,224.49) rotate(0.05)">S</text>
<text x="0" y="0" font-size="6.3" fill="#b8d2f0" stroke="#b8d2f0" stroke-width="0.18" text-anchor="middle" transform="translate(206.42,224.49) rotate(0.05)">S</text>
<text x="0" y="0" font-size="6.3" fill="#b8d2f0" stroke="#b8d2f0" stroke-width="0.18" text-anchor="middle" transform="translate(165.28,230.90) rotate(0.05)">S</text>
<text x="0" y="0" font-size="6.3" fill="#b8d2f0" stroke="#b8d2f0" stroke-width="0.18" text-anchor="middle" transform="translate(185.85,230.90) rotate(0.05)">S</text>
<text x="0" y="0" font-size="6.3" fill="#b8d2f0" stroke="#b8d2f0" stroke-width="0.18" text-anchor="middle" transform="translate(206.42,230.90) rotate(0.05)">S</text>
<text x="0" y="0" font-size="6.3" fill="#b8d2f0" stroke="#b8d2f0" stroke-width="0.18" text-anchor="middle" transform="translate(165.28,237.31) rotate(0.05)">S</text>
<text x="0" y="0" font-size="6.3" fill="#b8d2f0" stroke="#b8d2f0" stroke-width="0.18" text-anchor="middle" transform="translate(185.85,237.31) rotate(0.05)">S</text>
<text x="0" y="0" font-size="6.3" fill="#b8d2f0" stroke="#b8d2f0" stroke-width="0.18" text-anchor="middle" transform="translate(206.42,237.31) rotate(0.05)">S</text>
<text x="0" y="0" font-size="6.3" fill="#b8d2f0" stroke="#b8d2f0" stroke-width="0.18" text-anchor="middle" transform="translate(165.28,243.72) rotate(0.05)">S</text>
<text x="0" y="0" font-size="6.3" fill="#b8d2f0" stroke="#b8d2f0" stroke-width="0.18" text-anchor="middle" transform="translate(185.85,243.72) rotate(0.05)">S</text>
<text x="0" y="0" font-size="6.3" fill="#b8d2f0" stroke="#b8d2f0" stroke-width="0.18" text-anchor="middle" transform="translate(206.42,243.72) rotate(0.05)">S</text>
<text x="0" y="0" font-size="6.3" fill="#b8d2f0" stroke="#b8d2f0" stroke-width="0.18" text-anchor="middle" transform="translate(165.28,250.13) rotate(0.05)">S</text>
<text x="0" y="0" font-size="6.3" fill="#b8d2f0" stroke="#b8d2f0" stroke-width="0.18" text-anchor="middle" transform="translate(185.85,250.13) rotate(0.05)">S</text>
<text x="0" y="0" font-size="6.3" fill="#b8d2f0" stroke="#b8d2f0" stroke-width="0.18" text-anchor="middle" transform="translate(206.42,250.13) rotate(0.05)">S</text>
<text x="0" y="0" font-size="6.3" fill="#b8d2f0" stroke="#b8d2f0" stroke-width="0.18" text-anchor="middle" transform="translate(165.28,256.53) rotate(0.05)">S</text>
<text x="0" y="0" font-size="6.3" fill="#b8d2f0" stroke="#b8d2f0" stroke-width="0.18" text-anchor="middle" transform="translate(185.85,256.53) rotate(0.05)">S</text>
<text x="0" y="0" font-size="6.3" fill="#b8d2f0" stroke="#b8d2f0" stroke-width="0.18" text-anchor="middle" transform="translate(206.42,256.53) rotate(0.05)">S</text>
<text x="0" y="0" font-size="6.3" fill="#b8d2f0" stroke="#b8d2f0" stroke-width="0.18" text-anchor="middle" transform="translate(165.28,262.94) rotate(0.05)">S</text>
<text x="0" y="0" font-size="6.3" fill="#b8d2f0" stroke="#b8d2f0" stroke-width="0.18" text-anchor="middle" transform="translate(185.85,262.94) rotate(0.05)">S</text>
<text x="0" y="0" font-size="6.3" fill="#b8d2f0" stroke="#b8d2f0" stroke-width="0.18" text-anchor="middle" transform="translate(206.42,262.94) rotate(0.05)">S</text>
<text x="0" y="0" font-size="6.3" fill="#b8d2f0" stroke="#b8d2f0" stroke-width="0.18" text-anchor="middle" transform="translate(165.28,269.35) rotate(0.05)">S</text>
<text x="0" y="0" font-size="6.3" fill="#b8d2f0" stroke="#b8d2f0" stroke-width="0.18" text-anchor="middle" transform="translate(185.85,269.35) rotate(0.05)">S</text>
<text x="0" y="0" font-size="6.3" fill="#b8d2f0" stroke="#b8d2f0" stroke-width="0.18" text-anchor="middle" transform="translate(206.42,269.35) rotate(0.05)">S</text>
<text x="0" y="0" font-size="6.3" fill="#b8d2f0" stroke="#b8d2f0" stroke-width="0.18" text-anchor="middle" transform="translate(165.28,275.76) rotate(0.05)">S</text>
<text x="0" y="0" font-size="6.3" fill="#b8d2f0" stroke="#b8d2f0" stroke-width="0.18" text-anchor="middle" transform="translate(185.85,275.76) rotate(0.05)">S</text>
<text x="0" y="0" font-size="6.3" fill="#b8d2f0" stroke="#b8d2f0" stroke-width="0.18" text-anchor="middle" transform="translate(206.42,275.76) rotate(0.05)">S</text>
<text x="0" y="0" font-size="6.3" fill="#b8d2f0" stroke="#b8d2f0" stroke-width="0.18" text-anchor="middle" transform="translate(165.28,282.17) rotate(0.05)">S</text>
<text x="0" y="0" font-size="6.3" fill="#b8d2f0" stroke="#b8d2f0" stroke-width="0.18" text-anchor="middle" transform="translate(185.85,282.17) rotate(0.05)">S</text>
<text x="0" y="0" font-size="6.3" fill="#b8d2f0" stroke="#b8d2f0" stroke-width="0.18" text-anchor="middle" transform="translate(206.42,282.17) rotate(0.05)">S</text>
<text x="0" y="0" font-size="6.3" fill="#b8d2f0" stroke="#b8d2f0" stroke-width="0.18" text-anchor="middle" transform="translate(165.28,288.57) rotate(0.05)">S</text>
<text x="0" y="0" font-size="6.3" fill="#b8d2f0" stroke="#b8d2f0" stroke-width="0.18" text-anchor="middle" transform="translate(185.85,288.57) rotate(0.05)">S</text>
<text x="0" y="0" font-size="6.3" fill="#b8d2f0" stroke="#b8d2f0" stroke-width="0.18" text-anchor="middle" transform="translate(206.42,288.57) rotate(0.05)">S</text>
<text x="0" y="0" font-size="6.3" fill="#b8d2f0" stroke="#b8d2f0" stroke-width="0.18" text-anchor="middle" transform="translate(165.28,294.98) rotate(0.05)">S</text>
<text x="0" y="0" font-size="6.3" fill="#b8d2f0" stroke="#b8d2f0" stroke-width="0.18" text-anchor="middle" transform="translate(185.85,294.98) rotate(0.05)">S</text>
<text x="0" y="0" font-size="6.3" fill="#b8d2f0" stroke="#b8d2f0" stroke-width="0.18" text-anchor="middle" transform="translate(206.42,294.98) rotate(0.05)">S</text>
<text x="0" y="0" font-size="6.3" fill="#b8d2f0" stroke="#b8d2f0" stroke-width="0.18" text-anchor="middle" transform="translate(165.28,301.39) rotate(0.05)">S</text>
<text x="0" y="0" font-size="6.3" fill="#b8d2f0" stroke="#b8d2f0" stroke-width="0.18" text-anchor="middle" transform="translate(185.85,301.39) rotate(0.05)">S</text>
<text x="0" y="0" font-size="6.3" fill="#b8d2f0" stroke="#b8d2f0" stroke-width="0.18" text-anchor="middle" transform="translate(206.42,301.39) rotate(0.05)">S</text>
<text x="0" y="0" font-size="6.3" fill="#b8d2f0" stroke="#b8d2f0" stroke-width="0.18" text-anchor="middle" transform="translate(165.28,307.80) rotate(0.05)">S</text>
<text x="0" y="0" font-size="6.3" fill="#b8d2f0" stroke="#b8d2f0" stroke-width="0.18" text-anchor="middle" transform="translate(185.85,307.80) rotate(0.05)">S</text>
<text x="0" y="0" font-size="6.3" fill="#b8d2f0" stroke="#b8d2f0" stroke-width="0.18" text-anchor="middle" transform="translate(206.42,307.80) rotate(0.05)">S</text>
<text x="0" y="0" font-size="6.3" fill="#b8d2f0" stroke="#b8d2f0" stroke-width="0.18" text-anchor="middle" transform="translate(165.28,314.21) rotate(0.05)">S</text>
<text x="0" y="0" font-size="6.3" fill="#b8d2f0" stroke="#b8d2f0" stroke-width="0.18" text-anchor="middle" transform="translate(185.85,314.21) rotate(0.05)">S</text>
<text x="0" y="0" font-size="6.3" fill="#b8d2f0" stroke="#b8d2f0" stroke-width="0.18" text-anchor="middle" transform="translate(206.42,314.21) rotate(0.05)">S</text>
<text x="0" y="0" font-size="6.3" fill="#b8d2f0" stroke="#b8d2f0" stroke-width="0.18" text-anchor="middle" transform="translate(165.28,320.61) rotate(0.05)">S</text>
<text x="0" y="0" font-size="6.3" fill="#b8d2f0" stroke="#b8d2f0" stroke-width="0.18" text-anchor="middle" transform="translate(185.85,320.61) rotate(0.05)">S</text>
<text x="0" y="0" font-size="6.3" fill="#b8d2f0" stroke="#b8d2f0" stroke-width="0.18" text-anchor="middle" transform="translate(206.42,320.61) rotate(0.05)">S</text>
<text x="0" y="0" font-size="6.3" fill="#b8d2f0" stroke="#b8d2f0" stroke-width="0.18" text-anchor="middle" transform="translate(165.28,327.02) rotate(0.05)">S</text>
<text x="0" y="0" font-size="6.3" fill="#b8d2f0" stroke="#b8d2f0" stroke-width="0.18" text-anchor="middle" transform="translate(185.85,327.02) rotate(0.05)">S</text>
<text x="0" y="0" font-size="6.3" fill="#b8d2f0" stroke="#b8d2f0" stroke-width="0.18" text-anchor="middle" transform="translate(206.42,327.02) rotate(0.05)">S</text>
<text x="0" y="0" font-size="6.3" fill="#b8d2f0" stroke="#b8d2f0" stroke-width="0.18" text-anchor="middle" transform="translate(165.28,333.43) rotate(0.05)">S</text>
<text x="0" y="0" font-size="6.3" fill="#b8d2f0" stroke="#b8d2f0" stroke-width="0.18" text-anchor="middle" transform="translate(185.85,333.43) rotate(0.05)">S</text>
<text x="0" y="0" font-size="6.3" fill="#b8d2f0" stroke="#b8d2f0" stroke-width="0.18" text-anchor="middle" transform="translate(206.42,333.43) rotate(0.05)">S</text>
<text x="0" y="0" font-size="6.3" fill="#b8d2f0" stroke="#b8d2f0" stroke-width="0.18" text-anchor="middle" transform="translate(165.28,339.84) rotate(0.05)">S</text>
<text x="0" y="0" font-size="6.3" fill="#b8d2f0" stroke="#b8d2f0" stroke-width="0.18" text-anchor="middle" transform="translate(185.85,339.84) rotate(0.05)">S</text>
<text x="0" y="0" font-size="6.3" fill="#b8d2f0" stroke="#b8d2f0" stroke-width="0.18" text-anchor="middle" transform="translate(206.42,339.84) rotate(0.05)">S</text>
<text x="0" y="0" font-size="6.3" fill="#b8d2f0" stroke="#b8d2f0" stroke-width="0.18" text-anchor="middle" transform="translate(165.28,346.25) rotate(0.05)">S</text>
<text x="0" y="0" font-size="6.3" fill="#b8d2f0" stroke="#b8d2f0" stroke-width="0.18" text-anchor="middle" transform="translate(185.85,346.25) rotate(0.05)">S</text>
<text x="0" y="0" font-size="6.3" fill="#b8d2f0" stroke="#b8d2f0" stroke-width="0.18" text-anchor="middle" transform="translate(206.42,346.25) rotate(0.05)">S</text>
<rect x="164.78" y="348.30" width="1.0" height="4.21" fill="#555"/>
<text x="0" y="0" font-size="6.3" fill="#f8c4cd" stroke="#f8c4cd" stroke-width="0.18" text-anchor="middle" transform="translate(185.85,352.65) rotate(0.05)">R</text>
<rect x="205.92" y="348.30" width="1.0" height="4.21" fill="#555"/>
<rect x="164.78" y="354.71" width="1.0" height="4.21" fill="#555"/>
<text x="0" y="0" font-size="6.3" fill="#f8c4cd" stroke="#f8c4cd" stroke-width="0.18" text-anchor="middle" transform="translate(185.85,359.06) rotate(0.05)">R</text>
<rect x="205.92" y="354.71" width="1.0" height="4.21" fill="#555"/>
<rect x="164.78" y="361.12" width="1.0" height="4.21" fill="#555"/>
<text x="0" y="0" font-size="6.3" fill="#f8c4cd" stroke="#f8c4cd" stroke-width="0.18" text-anchor="middle" transform="translate(185.85,365.47) rotate(0.05)">R</text>
<rect x="205.92" y="361.12" width="1.0" height="4.21" fill="#555"/>
<rect x="164.78" y="367.52" width="1.0" height="4.21" fill="#555"/>
<text x="0" y="0" font-size="6.3" fill="#f8c4cd" stroke="#f8c4cd" stroke-width="0.18" text-anchor="middle" transform="translate(185.85,371.88) rotate(0.05)">R</text>
<rect x="205.92" y="367.52" width="1.0" height="4.21" fill="#555"/>
<rect x="164.78" y="373.93" width="1.0" height="4.21" fill="#555"/>
<text x="0" y="0" font-size="6.3" fill="#f8c4cd" stroke="#f8c4cd" stroke-width="0.18" text-anchor="middle" transform="translate(185.85,378.29) rotate(0.05)">R</text>
<rect x="205.92" y="373.93" width="1.0" height="4.21" fill="#555"/>
<rect x="164.78" y="380.34" width="1.0" height="4.21" fill="#555"/>
<text x="0" y="0" font-size="6.3" fill="#f8c4cd" stroke="#f8c4cd" stroke-width="0.18" text-anchor="middle" transform="translate(185.85,384.69) rotate(0.05)">R</text>
<rect x="205.92" y="380.34" width="1.0" height="4.21" fill="#555"/>
<rect x="164.78" y="386.75" width="1.0" height="4.21" fill="#555"/>
<text x="0" y="0" font-size="6.3" fill="#f8c4cd" stroke="#f8c4cd" stroke-width="0.18" text-anchor="middle" transform="translate(185.85,391.10) rotate(0.05)">R</text>
<rect x="205.92" y="386.75" width="1.0" height="4.21" fill="#555"/>
<rect x="164.78" y="393.16" width="1.0" height="4.21" fill="#555"/>
<text x="0" y="0" font-size="6.3" fill="#f8c4cd" stroke="#f8c4cd" stroke-width="0.18" text-anchor="middle" transform="translate(185.85,397.51) rotate(0.05)">R</text>
<rect x="205.92" y="393.16" width="1.0" height="4.21" fill="#555"/>
<rect x="164.78" y="399.56" width="1.0" height="4.21" fill="#555"/>
<text x="0" y="0" font-size="6.3" fill="#f8c4cd" stroke="#f8c4cd" stroke-width="0.18" text-anchor="middle" transform="translate(185.85,403.92) rotate(0.05)">R</text>
<rect x="205.92" y="399.56" width="1.0" height="4.21" fill="#555"/>
<rect x="164.78" y="405.97" width="1.0" height="4.21" fill="#555"/>
<text x="0" y="0" font-size="6.3" fill="#f8c4cd" stroke="#f8c4cd" stroke-width="0.18" text-anchor="middle" transform="translate(185.85,410.33) rotate(0.05)">R</text>
<rect x="205.92" y="405.97" width="1.0" height="4.21" fill="#555"/>
<rect x="164.78" y="412.38" width="1.0" height="4.21" fill="#555"/>
<text x="0" y="0" font-size="6.3" fill="#f8c4cd" stroke="#f8c4cd" stroke-width="0.18" text-anchor="middle" transform="translate(185.85,416.73) rotate(0.05)">R</text>
<text x="0" y="0" font-size="6.3" fill="#f8c4cd" stroke="#f8c4cd" stroke-width="0.18" text-anchor="middle" transform="translate(206.42,416.73) rotate(0.05)">R</text>
<rect x="164.78" y="418.79" width="1.0" height="4.21" fill="#555"/>
<text x="0" y="0" font-size="6.3" fill="#f8c4cd" stroke="#f8c4cd" stroke-width="0.18" text-anchor="middle" transform="translate(185.85,423.14) rotate(0.05)">R</text>
<rect x="205.92" y="418.79" width="1.0" height="4.21" fill="#555"/>
<rect x="164.78" y="425.20" width="1.0" height="4.21" fill="#555"/>
<text x="0" y="0" font-size="6.3" fill="#f8c4cd" stroke="#f8c4cd" stroke-width="0.18" text-anchor="middle" transform="translate(185.85,429.55) rotate(0.05)">R</text>
<rect x="205.92" y="425.20" width="1.0" height="4.21" fill="#555"/>
<rect x="164.78" y="431.60" width="1.0" height="4.21" fill="#555"/>
<text x="0" y="0" font-size="6.3" fill="#f8c4cd" stroke="#f8c4cd" stroke-width="0.18" text-anchor="middle" transform="translate(185.85,435.96) rotate(0.05)">R</text>
<rect x="205.92" y="431.60" width="1.0" height="4.21" fill="#555"/>
<rect x="164.78" y="438.01" width="1.0" height="4.21" fill="#555"/>
<text x="0" y="0" font-size="6.3" fill="#f8c4cd" stroke="#f8c4cd" stroke-width="0.18" text-anchor="middle" transform="translate(185.85,442.37) rotate(0.05)">R</text>
<rect x="205.92" y="438.01" width="1.0" height="4.21" fill="#555"/>
<rect x="164.78" y="444.42" width="1.0" height="4.21" fill="#555"/>
<text x="0" y="0" font-size="6.3" fill="#f8c4cd" stroke="#f8c4cd" stroke-width="0.18" text-anchor="middle" transform="translate(185.85,448.77) rotate(0.05)">R</text>
<rect x="205.92" y="444.42" width="1.0" height="4.21" fill="#555"/>
<rect x="164.78" y="450.83" width="1.0" height="4.21" fill="#555"/>
<text x="0" y="0" font-size="6.3" fill="#f8c4cd" stroke="#f8c4cd" stroke-width="0.18" text-anchor="middle" transform="translate(185.85,455.18) rotate(0.05)">R</text>
<rect x="205.92" y="450.83" width="1.0" height="4.21" fill="#555"/>
<rect x="164.78" y="457.24" width="1.0" height="4.21" fill="#555"/>
<text x="0" y="0" font-size="6.3" fill="#f8c4cd" stroke="#f8c4cd" stroke-width="0.18" text-anchor="middle" transform="translate(185.85,461.59) rotate(0.05)">R</text>
<rect x="205.92" y="457.24" width="1.0" height="4.21" fill="#555"/>
<rect x="164.78" y="463.64" width="1.0" height="4.21" fill="#555"/>
<text x="0" y="0" font-size="6.3" fill="#f8c4cd" stroke="#f8c4cd" stroke-width="0.18" text-anchor="middle" transform="translate(185.85,468.00) rotate(0.05)">R</text>
<rect x="205.92" y="463.64" width="1.0" height="4.21" fill="#555"/>
<text x="0" y="0" font-size="6.3" fill="#f8c4cd" stroke="#f8c4cd" stroke-width="0.18" text-anchor="middle" transform="translate(165.28,474.41) rotate(0.05)">R</text>
<text x="0" y="0" font-size="6.3" fill="#f8c4cd" stroke="#f8c4cd" stroke-width="0.18" text-anchor="middle" transform="translate(185.85,474.41) rotate(0.05)">R</text>
<rect x="205.92" y="470.05" width="1.0" height="4.21" fill="#555"/>
<rect x="164.78" y="476.46" width="1.0" height="4.21" fill="#555"/>
<text x="0" y="0" font-size="6.3" fill="#f8c4cd" stroke="#f8c4cd" stroke-width="0.18" text-anchor="middle" transform="translate(185.85,480.81) rotate(0.05)">R</text>
<rect x="205.92" y="476.46" width="1.0" height="4.21" fill="#555"/>
<rect x="164.78" y="482.87" width="1.0" height="4.21" fill="#555"/>
<text x="0" y="0" font-size="6.3" fill="#f8c4cd" stroke="#f8c4cd" stroke-width="0.18" text-anchor="middle" transform="translate(185.85,487.22) rotate(0.05)">R</text>
<rect x="205.92" y="482.87" width="1.0" height="4.21" fill="#555"/>
<rect x="164.78" y="489.28" width="1.0" height="4.21" fill="#555"/>
<text x="0" y="0" font-size="6.3" fill="#f8c4cd" stroke="#f8c4cd" stroke-width="0.18" text-anchor="middle" transform="translate(185.85,493.63) rotate(0.05)">R</text>
<rect x="205.92" y="489.28" width="1.0" height="4.21" fill="#555"/>
<rect x="164.78" y="495.68" width="1.0" height="4.21" fill="#555"/>
<text x="0" y="0" font-size="6.3" fill="#f8c4cd" stroke="#f8c4cd" stroke-width="0.18" text-anchor="middle" transform="translate(185.85,500.04) rotate(0.05)">R</text>
<rect x="205.92" y="495.68" width="1.0" height="4.21" fill="#555"/>
<text x="0" y="0" font-size="6.3" fill="#f8c4cd" stroke="#f8c4cd" stroke-width="0.18" text-anchor="middle" transform="translate(165.28,506.45) rotate(0.05)">R</text>
<text x="0" y="0" font-size="6.3" fill="#f8c4cd" stroke="#f8c4cd" stroke-width="0.18" text-anchor="middle" transform="translate(185.85,506.45) rotate(0.05)">R</text>
<rect x="205.92" y="502.09" width="1.0" height="4.21" fill="#555"/>
<text x="0" y="0" font-size="6.2" fill="#231f20" stroke="#231f20" stroke-width="0.12" text-anchor="end" transform="translate(168.68,513.50) rotate(-45)">arac.d4.MLE</text>
<text x="0" y="0" font-size="6.2" fill="#231f20" stroke="#231f20" stroke-width="0.12" text-anchor="end" transform="translate(189.25,513.50) rotate(-45)">dauno.d4.MLE</text>
<text x="0" y="0" font-size="6.2" fill="#231f20" stroke="#231f20" stroke-width="0.12" text-anchor="end" transform="translate(209.82,513.50) rotate(-45)">etop.d4.MLE</text>
<text transform="translate(317.85,183.20) rotate(0.05)" font-size="8.45" fill="#1e1e1e" text-anchor="middle" font-weight="normal"  stroke="#1e1e1e" stroke-width="0.12">Etop Top/Bottom</text>
<rect x="287.00" y="187.00" width="20.57" height="6.408" fill="#134d8c"/>
<rect x="307.57" y="187.00" width="20.57" height="6.408" fill="#134d8c"/>
<rect x="328.13" y="187.00" width="20.57" height="6.408" fill="#134d8c"/>
<text transform="translate(284.00,192.45) rotate(0.05)" font-size="6.25" fill="#2b2b2b" text-anchor="end" font-weight="normal"  stroke="#2b2b2b" stroke-width="0.2">EEF1A1</text>
<rect x="287.00" y="193.41" width="20.57" height="6.408" fill="#134d8c"/>
<rect x="307.57" y="193.41" width="20.57" height="6.408" fill="#134d8c"/>
<rect x="328.13" y="193.41" width="20.57" height="6.408" fill="#134d8c"/>
<text transform="translate(284.00,198.86) rotate(0.05)" font-size="6.25" fill="#2b2b2b" text-anchor="end" font-weight="normal"  stroke="#2b2b2b" stroke-width="0.2">LDB1</text>
<rect x="287.00" y="199.82" width="20.57" height="6.408" fill="#134d8c"/>
<rect x="307.57" y="199.82" width="20.57" height="6.408" fill="#134d8c"/>
<rect x="328.13" y="199.82" width="20.57" height="6.408" fill="#134d8c"/>
<text transform="translate(284.00,205.27) rotate(0.05)" font-size="6.25" fill="#2b2b2b" text-anchor="end" font-weight="normal"  stroke="#2b2b2b" stroke-width="0.2">CCT6A</text>
<rect x="287.00" y="206.22" width="20.57" height="6.408" fill="#134d8c"/>
<rect x="307.57" y="206.22" width="20.57" height="6.408" fill="#134d8c"/>
<rect x="328.13" y="206.22" width="20.57" height="6.408" fill="#134d8c"/>
<text transform="translate(284.00,211.68) rotate(0.05)" font-size="6.25" fill="#2b2b2b" text-anchor="end" font-weight="normal"  stroke="#2b2b2b" stroke-width="0.2">DDX10</text>
<rect x="287.00" y="212.63" width="20.57" height="6.408" fill="#134d8c"/>
<rect x="307.57" y="212.63" width="20.57" height="6.408" fill="#134d8c"/>
<rect x="328.13" y="212.63" width="20.57" height="6.408" fill="#134d8c"/>
<text transform="translate(284.00,218.09) rotate(0.05)" font-size="6.25" fill="#2b2b2b" text-anchor="end" font-weight="normal"  stroke="#2b2b2b" stroke-width="0.2">BUB3</text>
<rect x="287.00" y="219.04" width="20.57" height="6.408" fill="#134d8c"/>
<rect x="307.57" y="219.04" width="20.57" height="6.408" fill="#d1d2d5"/>
<rect x="328.13" y="219.04" width="20.57" height="6.408" fill="#134d8c"/>
<text transform="translate(284.00,224.49) rotate(0.05)" font-size="6.25" fill="#2b2b2b" text-anchor="end" font-weight="normal"  stroke="#2b2b2b" stroke-width="0.2">PSMA6</text>
<rect x="287.00" y="225.45" width="20.57" height="6.408" fill="#134d8c"/>
<rect x="307.57" y="225.45" width="20.57" height="6.408" fill="#134d8c"/>
<rect x="328.13" y="225.45" width="20.57" height="6.408" fill="#134d8c"/>
<text transform="translate(284.00,230.90) rotate(0.05)" font-size="6.25" fill="#2b2b2b" text-anchor="end" font-weight="normal"  stroke="#2b2b2b" stroke-width="0.2">SUPT4H1</text>
<rect x="287.00" y="231.86" width="20.57" height="6.408" fill="#134d8c"/>
<rect x="307.57" y="231.86" width="20.57" height="6.408" fill="#134d8c"/>
<rect x="328.13" y="231.86" width="20.57" height="6.408" fill="#134d8c"/>
<text transform="translate(284.00,237.31) rotate(0.05)" font-size="6.25" fill="#2b2b2b" text-anchor="end" font-weight="normal"  stroke="#2b2b2b" stroke-width="0.2">NLE1</text>
<rect x="287.00" y="238.26" width="20.57" height="6.408" fill="#134d8c"/>
<rect x="307.57" y="238.26" width="20.57" height="6.408" fill="#134d8c"/>
<rect x="328.13" y="238.26" width="20.57" height="6.408" fill="#134d8c"/>
<text transform="translate(284.00,243.72) rotate(0.05)" font-size="6.25" fill="#2b2b2b" text-anchor="end" font-weight="normal"  stroke="#2b2b2b" stroke-width="0.2">SKIV2L2</text>
<rect x="287.00" y="244.67" width="20.57" height="6.408" fill="#134d8c"/>
<rect x="307.57" y="244.67" width="20.57" height="6.408" fill="#134d8c"/>
<rect x="328.13" y="244.67" width="20.57" height="6.408" fill="#134d8c"/>
<text transform="translate(284.00,250.13) rotate(0.05)" font-size="6.25" fill="#2b2b2b" text-anchor="end" font-weight="normal"  stroke="#2b2b2b" stroke-width="0.2">NSA2</text>
<rect x="287.00" y="251.08" width="20.57" height="6.408" fill="#134d8c"/>
<rect x="307.57" y="251.08" width="20.57" height="6.408" fill="#134d8c"/>
<rect x="328.13" y="251.08" width="20.57" height="6.408" fill="#134d8c"/>
<text transform="translate(284.00,256.53) rotate(0.05)" font-size="6.25" fill="#2b2b2b" text-anchor="end" font-weight="normal"  stroke="#2b2b2b" stroke-width="0.2">SAMM50</text>
<rect x="287.00" y="257.49" width="20.57" height="6.408" fill="#134d8c"/>
<rect x="307.57" y="257.49" width="20.57" height="6.408" fill="#134d8c"/>
<rect x="328.13" y="257.49" width="20.57" height="6.408" fill="#134d8c"/>
<text transform="translate(284.00,262.94) rotate(0.05)" font-size="6.25" fill="#2b2b2b" text-anchor="end" font-weight="normal"  stroke="#2b2b2b" stroke-width="0.2">EIF6</text>
<rect x="287.00" y="263.90" width="20.57" height="6.408" fill="#134d8c"/>
<rect x="307.57" y="263.90" width="20.57" height="6.408" fill="#d1d2d5"/>
<rect x="328.13" y="263.90" width="20.57" height="6.408" fill="#134d8c"/>
<text transform="translate(284.00,269.35) rotate(0.05)" font-size="6.25" fill="#2b2b2b" text-anchor="end" font-weight="normal"  stroke="#2b2b2b" stroke-width="0.2">PCID2</text>
<rect x="287.00" y="270.30" width="20.57" height="6.408" fill="#134d8c"/>
<rect x="307.57" y="270.30" width="20.57" height="6.408" fill="#d1d2d5"/>
<rect x="328.13" y="270.30" width="20.57" height="6.408" fill="#134d8c"/>
<text transform="translate(284.00,275.76) rotate(0.05)" font-size="6.25" fill="#2b2b2b" text-anchor="end" font-weight="normal"  stroke="#2b2b2b" stroke-width="0.2">DAD1</text>
<rect x="287.00" y="276.71" width="20.57" height="6.408" fill="#134d8c"/>
<rect x="307.57" y="276.71" width="20.57" height="6.408" fill="#134d8c"/>
<rect x="328.13" y="276.71" width="20.57" height="6.408" fill="#134d8c"/>
<text transform="translate(284.00,282.17) rotate(0.05)" font-size="6.25" fill="#2b2b2b" text-anchor="end" font-weight="normal"  stroke="#2b2b2b" stroke-width="0.2">RAD9A</text>
<rect x="287.00" y="283.12" width="20.57" height="6.408" fill="#134d8c"/>
<rect x="307.57" y="283.12" width="20.57" height="6.408" fill="#134d8c"/>
<rect x="328.13" y="283.12" width="20.57" height="6.408" fill="#134d8c"/>
<text transform="translate(284.00,288.57) rotate(0.05)" font-size="6.25" fill="#2b2b2b" text-anchor="end" font-weight="normal"  stroke="#2b2b2b" stroke-width="0.2">CPSF2</text>
<rect x="287.00" y="289.53" width="20.57" height="6.408" fill="#134d8c"/>
<rect x="307.57" y="289.53" width="20.57" height="6.408" fill="#d1d2d5"/>
<rect x="328.13" y="289.53" width="20.57" height="6.408" fill="#134d8c"/>
<text transform="translate(284.00,294.98) rotate(0.05)" font-size="6.25" fill="#2b2b2b" text-anchor="end" font-weight="normal"  stroke="#2b2b2b" stroke-width="0.2">WDR75</text>
<rect x="287.00" y="295.94" width="20.57" height="6.408" fill="#134d8c"/>
<rect x="307.57" y="295.94" width="20.57" height="6.408" fill="#134d8c"/>
<rect x="328.13" y="295.94" width="20.57" height="6.408" fill="#134d8c"/>
<text transform="translate(284.00,301.39) rotate(0.05)" font-size="6.25" fill="#2b2b2b" text-anchor="end" font-weight="normal"  stroke="#2b2b2b" stroke-width="0.2">GMPS</text>
<rect x="287.00" y="302.34" width="20.57" height="6.408" fill="#134d8c"/>
<rect x="307.57" y="302.34" width="20.57" height="6.408" fill="#134d8c"/>
<rect x="328.13" y="302.34" width="20.57" height="6.408" fill="#134d8c"/>
<text transform="translate(284.00,307.80) rotate(0.05)" font-size="6.25" fill="#2b2b2b" text-anchor="end" font-weight="normal"  stroke="#2b2b2b" stroke-width="0.2">NARFL</text>
<rect x="287.00" y="308.75" width="20.57" height="6.408" fill="#134d8c"/>
<rect x="307.57" y="308.75" width="20.57" height="6.408" fill="#d1d2d5"/>
<rect x="328.13" y="308.75" width="20.57" height="6.408" fill="#134d8c"/>
<text transform="translate(284.00,314.21) rotate(0.05)" font-size="6.25" fill="#2b2b2b" text-anchor="end" font-weight="normal"  stroke="#2b2b2b" stroke-width="0.2">RPL27</text>
<rect x="287.00" y="315.16" width="20.57" height="6.408" fill="#134d8c"/>
<rect x="307.57" y="315.16" width="20.57" height="6.408" fill="#d1d2d5"/>
<rect x="328.13" y="315.16" width="20.57" height="6.408" fill="#134d8c"/>
<text transform="translate(284.00,320.61) rotate(0.05)" font-size="6.25" fill="#2b2b2b" text-anchor="end" font-weight="normal"  stroke="#2b2b2b" stroke-width="0.2">COX17</text>
<rect x="287.00" y="321.57" width="20.57" height="6.408" fill="#134d8c"/>
<rect x="307.57" y="321.57" width="20.57" height="6.408" fill="#d1d2d5"/>
<rect x="328.13" y="321.57" width="20.57" height="6.408" fill="#134d8c"/>
<text transform="translate(284.00,327.02) rotate(0.05)" font-size="6.25" fill="#2b2b2b" text-anchor="end" font-weight="normal"  stroke="#2b2b2b" stroke-width="0.2">DDX47</text>
<rect x="287.00" y="327.98" width="20.57" height="6.408" fill="#134d8c"/>
<rect x="307.57" y="327.98" width="20.57" height="6.408" fill="#134d8c"/>
<rect x="328.13" y="327.98" width="20.57" height="6.408" fill="#134d8c"/>
<text transform="translate(284.00,333.43) rotate(0.05)" font-size="6.25" fill="#2b2b2b" text-anchor="end" font-weight="normal"  stroke="#2b2b2b" stroke-width="0.2">TRMT112</text>
<rect x="287.00" y="334.38" width="20.57" height="6.408" fill="#134d8c"/>
<rect x="307.57" y="334.38" width="20.57" height="6.408" fill="#134d8c"/>
<rect x="328.13" y="334.38" width="20.57" height="6.408" fill="#134d8c"/>
<text transform="translate(284.00,339.84) rotate(0.05)" font-size="6.25" fill="#2b2b2b" text-anchor="end" font-weight="normal"  stroke="#2b2b2b" stroke-width="0.2">NEDD8</text>
<rect x="287.00" y="340.79" width="20.57" height="6.408" fill="#134d8c"/>
<rect x="307.57" y="340.79" width="20.57" height="6.408" fill="#134d8c"/>
<rect x="328.13" y="340.79" width="20.57" height="6.408" fill="#134d8c"/>
<text transform="translate(284.00,346.25) rotate(0.05)" font-size="6.25" fill="#2b2b2b" text-anchor="end" font-weight="normal"  stroke="#2b2b2b" stroke-width="0.2">NOP56</text>
<rect x="287.00" y="347.20" width="20.57" height="6.408" fill="#d1d2d5"/>
<rect x="307.57" y="347.20" width="20.57" height="6.408" fill="#d1d2d5"/>
<rect x="328.13" y="347.20" width="20.57" height="6.408" fill="#cb0f2e"/>
<text transform="translate(284.00,352.65) rotate(0.05)" font-size="6.25" fill="#2b2b2b" text-anchor="end" font-weight="normal"  stroke="#2b2b2b" stroke-width="0.2">ZNF451</text>
<rect x="287.00" y="353.61" width="20.57" height="6.408" fill="#d1d2d5"/>
<rect x="307.57" y="353.61" width="20.57" height="6.408" fill="#d1d2d5"/>
<rect x="328.13" y="353.61" width="20.57" height="6.408" fill="#cb0f2e"/>
<text transform="translate(284.00,359.06) rotate(0.05)" font-size="6.25" fill="#2b2b2b" text-anchor="end" font-weight="normal"  stroke="#2b2b2b" stroke-width="0.2">ABCC1</text>
<rect x="287.00" y="360.02" width="20.57" height="6.408" fill="#d1d2d5"/>
<rect x="307.57" y="360.02" width="20.57" height="6.408" fill="#d1d2d5"/>
<rect x="328.13" y="360.02" width="20.57" height="6.408" fill="#cb0f2e"/>
<text transform="translate(284.00,365.47) rotate(0.05)" font-size="6.25" fill="#2b2b2b" text-anchor="end" font-weight="normal"  stroke="#2b2b2b" stroke-width="0.2">EIF4A3</text>
<rect x="287.00" y="366.42" width="20.57" height="6.408" fill="#d1d2d5"/>
<rect x="307.57" y="366.42" width="20.57" height="6.408" fill="#d1d2d5"/>
<rect x="328.13" y="366.42" width="20.57" height="6.408" fill="#cb0f2e"/>
<text transform="translate(284.00,371.88) rotate(0.05)" font-size="6.25" fill="#2b2b2b" text-anchor="end" font-weight="normal"  stroke="#2b2b2b" stroke-width="0.2">NHEJ1</text>
<rect x="287.00" y="372.83" width="20.57" height="6.408" fill="#d1d2d5"/>
<rect x="307.57" y="372.83" width="20.57" height="6.408" fill="#d1d2d5"/>
<rect x="328.13" y="372.83" width="20.57" height="6.408" fill="#cb0f2e"/>
<text transform="translate(284.00,378.29) rotate(0.05)" font-size="6.25" fill="#2b2b2b" text-anchor="end" font-weight="normal"  stroke="#2b2b2b" stroke-width="0.2">NUTF2</text>
<rect x="287.00" y="379.24" width="20.57" height="6.408" fill="#d1d2d5"/>
<rect x="307.57" y="379.24" width="20.57" height="6.408" fill="#d1d2d5"/>
<rect x="328.13" y="379.24" width="20.57" height="6.408" fill="#cb0f2e"/>
<text transform="translate(284.00,384.69) rotate(0.05)" font-size="6.25" fill="#2b2b2b" text-anchor="end" font-weight="normal"  stroke="#2b2b2b" stroke-width="0.2">TDP2</text>
<rect x="287.00" y="385.65" width="20.57" height="6.408" fill="#d1d2d5"/>
<rect x="307.57" y="385.65" width="20.57" height="6.408" fill="#d1d2d5"/>
<rect x="328.13" y="385.65" width="20.57" height="6.408" fill="#cb0f2e"/>
<text transform="translate(284.00,391.10) rotate(0.05)" font-size="6.25" fill="#2b2b2b" text-anchor="end" font-weight="normal"  stroke="#2b2b2b" stroke-width="0.2">PRKDC</text>
<rect x="287.00" y="392.06" width="20.57" height="6.408" fill="#d1d2d5"/>
<rect x="307.57" y="392.06" width="20.57" height="6.408" fill="#d1d2d5"/>
<rect x="328.13" y="392.06" width="20.57" height="6.408" fill="#cb0f2e"/>
<text transform="translate(284.00,397.51) rotate(0.05)" font-size="6.25" fill="#2b2b2b" text-anchor="end" font-weight="normal"  stroke="#2b2b2b" stroke-width="0.2">ZNF737</text>
<rect x="287.00" y="398.46" width="20.57" height="6.408" fill="#d1d2d5"/>
<rect x="307.57" y="398.46" width="20.57" height="6.408" fill="#d1d2d5"/>
<rect x="328.13" y="398.46" width="20.57" height="6.408" fill="#cb0f2e"/>
<text transform="translate(284.00,403.92) rotate(0.05)" font-size="6.25" fill="#2b2b2b" text-anchor="end" font-weight="normal"  stroke="#2b2b2b" stroke-width="0.2">XRCC4</text>
<rect x="287.00" y="404.87" width="20.57" height="6.408" fill="#d1d2d5"/>
<rect x="307.57" y="404.87" width="20.57" height="6.408" fill="#d1d2d5"/>
<rect x="328.13" y="404.87" width="20.57" height="6.408" fill="#cb0f2e"/>
<text transform="translate(284.00,410.33) rotate(0.05)" font-size="6.25" fill="#2b2b2b" text-anchor="end" font-weight="normal"  stroke="#2b2b2b" stroke-width="0.2">GSS</text>
<rect x="287.00" y="411.28" width="20.57" height="6.408" fill="#134d8c"/>
<rect x="307.57" y="411.28" width="20.57" height="6.408" fill="#d1d2d5"/>
<rect x="328.13" y="411.28" width="20.57" height="6.408" fill="#cb0f2e"/>
<text transform="translate(284.00,416.73) rotate(0.05)" font-size="6.25" fill="#2b2b2b" text-anchor="end" font-weight="normal"  stroke="#2b2b2b" stroke-width="0.2">WDHD1</text>
<rect x="287.00" y="417.69" width="20.57" height="6.408" fill="#d1d2d5"/>
<rect x="307.57" y="417.69" width="20.57" height="6.408" fill="#d1d2d5"/>
<rect x="328.13" y="417.69" width="20.57" height="6.408" fill="#cb0f2e"/>
<text transform="translate(284.00,423.14) rotate(0.05)" font-size="6.25" fill="#2b2b2b" text-anchor="end" font-weight="normal"  stroke="#2b2b2b" stroke-width="0.2">RAD54L2</text>
<rect x="287.00" y="424.10" width="20.57" height="6.408" fill="#d1d2d5"/>
<rect x="307.57" y="424.10" width="20.57" height="6.408" fill="#d1d2d5"/>
<rect x="328.13" y="424.10" width="20.57" height="6.408" fill="#cb0f2e"/>
<text transform="translate(284.00,429.55) rotate(0.05)" font-size="6.25" fill="#2b2b2b" text-anchor="end" font-weight="normal"  stroke="#2b2b2b" stroke-width="0.2">CDC27</text>
<rect x="287.00" y="430.50" width="20.57" height="6.408" fill="#d1d2d5"/>
<rect x="307.57" y="430.50" width="20.57" height="6.408" fill="#d1d2d5"/>
<rect x="328.13" y="430.50" width="20.57" height="6.408" fill="#cb0f2e"/>
<text transform="translate(284.00,435.96) rotate(0.05)" font-size="6.25" fill="#2b2b2b" text-anchor="end" font-weight="normal"  stroke="#2b2b2b" stroke-width="0.2">CT55</text>
<rect x="287.00" y="436.91" width="20.57" height="6.408" fill="#d1d2d5"/>
<rect x="307.57" y="436.91" width="20.57" height="6.408" fill="#d1d2d5"/>
<rect x="328.13" y="436.91" width="20.57" height="6.408" fill="#cb0f2e"/>
<text transform="translate(284.00,442.37) rotate(0.05)" font-size="6.25" fill="#2b2b2b" text-anchor="end" font-weight="normal"  stroke="#2b2b2b" stroke-width="0.2">ART1</text>
<rect x="287.00" y="443.32" width="20.57" height="6.408" fill="#d1d2d5"/>
<rect x="307.57" y="443.32" width="20.57" height="6.408" fill="#d1d2d5"/>
<rect x="328.13" y="443.32" width="20.57" height="6.408" fill="#cb0f2e"/>
<text transform="translate(284.00,448.77) rotate(0.05)" font-size="6.25" fill="#2b2b2b" text-anchor="end" font-weight="normal"  stroke="#2b2b2b" stroke-width="0.2">ZNF816__ZNF321P</text>
<rect x="287.00" y="449.73" width="20.57" height="6.408" fill="#d1d2d5"/>
<rect x="307.57" y="449.73" width="20.57" height="6.408" fill="#d1d2d5"/>
<rect x="328.13" y="449.73" width="20.57" height="6.408" fill="#cb0f2e"/>
<text transform="translate(284.00,455.18) rotate(0.05)" font-size="6.25" fill="#2b2b2b" text-anchor="end" font-weight="normal"  stroke="#2b2b2b" stroke-width="0.2">RAD51D</text>
<rect x="287.00" y="456.14" width="20.57" height="6.408" fill="#cb0f2e"/>
<rect x="307.57" y="456.14" width="20.57" height="6.408" fill="#d1d2d5"/>
<rect x="328.13" y="456.14" width="20.57" height="6.408" fill="#cb0f2e"/>
<text transform="translate(284.00,461.59) rotate(0.05)" font-size="6.25" fill="#2b2b2b" text-anchor="end" font-weight="normal"  stroke="#2b2b2b" stroke-width="0.2">VSTM1</text>
<rect x="287.00" y="462.54" width="20.57" height="6.408" fill="#cb0f2e"/>
<rect x="307.57" y="462.54" width="20.57" height="6.408" fill="#d1d2d5"/>
<rect x="328.13" y="462.54" width="20.57" height="6.408" fill="#cb0f2e"/>
<text transform="translate(284.00,468.00) rotate(0.05)" font-size="6.25" fill="#2b2b2b" text-anchor="end" font-weight="normal"  stroke="#2b2b2b" stroke-width="0.2">UBQLN2</text>
<rect x="287.00" y="468.95" width="20.57" height="6.408" fill="#cb0f2e"/>
<rect x="307.57" y="468.95" width="20.57" height="6.408" fill="#d1d2d5"/>
<rect x="328.13" y="468.95" width="20.57" height="6.408" fill="#cb0f2e"/>
<text transform="translate(284.00,474.41) rotate(0.05)" font-size="6.25" fill="#2b2b2b" text-anchor="end" font-weight="normal"  stroke="#2b2b2b" stroke-width="0.2">BCL2L1</text>
<rect x="287.00" y="475.36" width="20.57" height="6.408" fill="#cb0f2e"/>
<rect x="307.57" y="475.36" width="20.57" height="6.408" fill="#cb0f2e"/>
<rect x="328.13" y="475.36" width="20.57" height="6.408" fill="#cb0f2e"/>
<text transform="translate(284.00,480.81) rotate(0.05)" font-size="6.25" fill="#2b2b2b" text-anchor="end" font-weight="normal"  stroke="#2b2b2b" stroke-width="0.2">TTC32</text>
<rect x="287.00" y="481.77" width="20.57" height="6.408" fill="#d1d2d5"/>
<rect x="307.57" y="481.77" width="20.57" height="6.408" fill="#d1d2d5"/>
<rect x="328.13" y="481.77" width="20.57" height="6.408" fill="#cb0f2e"/>
<text transform="translate(284.00,487.22) rotate(0.05)" font-size="6.25" fill="#2b2b2b" text-anchor="end" font-weight="normal"  stroke="#2b2b2b" stroke-width="0.2">CUEDC2</text>
<rect x="287.00" y="488.18" width="20.57" height="6.408" fill="#d1d2d5"/>
<rect x="307.57" y="488.18" width="20.57" height="6.408" fill="#d1d2d5"/>
<rect x="328.13" y="488.18" width="20.57" height="6.408" fill="#cb0f2e"/>
<text transform="translate(284.00,493.63) rotate(0.05)" font-size="6.25" fill="#2b2b2b" text-anchor="end" font-weight="normal"  stroke="#2b2b2b" stroke-width="0.2">UBE2A</text>
<rect x="287.00" y="494.58" width="20.57" height="6.408" fill="#d1d2d5"/>
<rect x="307.57" y="494.58" width="20.57" height="6.408" fill="#cb0f2e"/>
<rect x="328.13" y="494.58" width="20.57" height="6.408" fill="#cb0f2e"/>
<text transform="translate(284.00,500.04) rotate(0.05)" font-size="6.25" fill="#2b2b2b" text-anchor="end" font-weight="normal"  stroke="#2b2b2b" stroke-width="0.2">MND1</text>
<rect x="287.00" y="500.99" width="20.57" height="6.408" fill="#d1d2d5"/>
<rect x="307.57" y="500.99" width="20.57" height="6.408" fill="#d1d2d5"/>
<rect x="328.13" y="500.99" width="20.57" height="6.408" fill="#cb0f2e"/>
<text transform="translate(284.00,506.45) rotate(0.05)" font-size="6.25" fill="#2b2b2b" text-anchor="end" font-weight="normal"  stroke="#2b2b2b" stroke-width="0.2">LIN37</text>
<line x1="287.00" y1="193.41" x2="348.70" y2="193.41" stroke="#fff" stroke-opacity="0.45" stroke-width="0.9"/>
<line x1="287.00" y1="199.82" x2="348.70" y2="199.82" stroke="#fff" stroke-opacity="0.45" stroke-width="0.9"/>
<line x1="287.00" y1="206.22" x2="348.70" y2="206.22" stroke="#fff" stroke-opacity="0.45" stroke-width="0.9"/>
<line x1="287.00" y1="212.63" x2="348.70" y2="212.63" stroke="#fff" stroke-opacity="0.45" stroke-width="0.9"/>
<line x1="287.00" y1="219.04" x2="348.70" y2="219.04" stroke="#fff" stroke-opacity="0.45" stroke-width="0.9"/>
<line x1="287.00" y1="225.45" x2="348.70" y2="225.45" stroke="#fff" stroke-opacity="0.45" stroke-width="0.9"/>
<line x1="287.00" y1="231.86" x2="348.70" y2="231.86" stroke="#fff" stroke-opacity="0.45" stroke-width="0.9"/>
<line x1="287.00" y1="238.26" x2="348.70" y2="238.26" stroke="#fff" stroke-opacity="0.45" stroke-width="0.9"/>
<line x1="287.00" y1="244.67" x2="348.70" y2="244.67" stroke="#fff" stroke-opacity="0.45" stroke-width="0.9"/>
<line x1="287.00" y1="251.08" x2="348.70" y2="251.08" stroke="#fff" stroke-opacity="0.45" stroke-width="0.9"/>
<line x1="287.00" y1="257.49" x2="348.70" y2="257.49" stroke="#fff" stroke-opacity="0.45" stroke-width="0.9"/>
<line x1="287.00" y1="263.90" x2="348.70" y2="263.90" stroke="#fff" stroke-opacity="0.45" stroke-width="0.9"/>
<line x1="287.00" y1="270.30" x2="348.70" y2="270.30" stroke="#fff" stroke-opacity="0.45" stroke-width="0.9"/>
<line x1="287.00" y1="276.71" x2="348.70" y2="276.71" stroke="#fff" stroke-opacity="0.45" stroke-width="0.9"/>
<line x1="287.00" y1="283.12" x2="348.70" y2="283.12" stroke="#fff" stroke-opacity="0.45" stroke-width="0.9"/>
<line x1="287.00" y1="289.53" x2="348.70" y2="289.53" stroke="#fff" stroke-opacity="0.45" stroke-width="0.9"/>
<line x1="287.00" y1="295.94" x2="348.70" y2="295.94" stroke="#fff" stroke-opacity="0.45" stroke-width="0.9"/>
<line x1="287.00" y1="302.34" x2="348.70" y2="302.34" stroke="#fff" stroke-opacity="0.45" stroke-width="0.9"/>
<line x1="287.00" y1="308.75" x2="348.70" y2="308.75" stroke="#fff" stroke-opacity="0.45" stroke-width="0.9"/>
<line x1="287.00" y1="315.16" x2="348.70" y2="315.16" stroke="#fff" stroke-opacity="0.45" stroke-width="0.9"/>
<line x1="287.00" y1="321.57" x2="348.70" y2="321.57" stroke="#fff" stroke-opacity="0.45" stroke-width="0.9"/>
<line x1="287.00" y1="327.98" x2="348.70" y2="327.98" stroke="#fff" stroke-opacity="0.45" stroke-width="0.9"/>
<line x1="287.00" y1="334.38" x2="348.70" y2="334.38" stroke="#fff" stroke-opacity="0.45" stroke-width="0.9"/>
<line x1="287.00" y1="340.79" x2="348.70" y2="340.79" stroke="#fff" stroke-opacity="0.45" stroke-width="0.9"/>
<line x1="287.00" y1="347.20" x2="348.70" y2="347.20" stroke="#fff" stroke-opacity="0.45" stroke-width="0.9"/>
<line x1="287.00" y1="353.61" x2="348.70" y2="353.61" stroke="#fff" stroke-opacity="0.45" stroke-width="0.9"/>
<line x1="287.00" y1="360.02" x2="348.70" y2="360.02" stroke="#fff" stroke-opacity="0.45" stroke-width="0.9"/>
<line x1="287.00" y1="366.42" x2="348.70" y2="366.42" stroke="#fff" stroke-opacity="0.45" stroke-width="0.9"/>
<line x1="287.00" y1="372.83" x2="348.70" y2="372.83" stroke="#fff" stroke-opacity="0.45" stroke-width="0.9"/>
<line x1="287.00" y1="379.24" x2="348.70" y2="379.24" stroke="#fff" stroke-opacity="0.45" stroke-width="0.9"/>
<line x1="287.00" y1="385.65" x2="348.70" y2="385.65" stroke="#fff" stroke-opacity="0.45" stroke-width="0.9"/>
<line x1="287.00" y1="392.06" x2="348.70" y2="392.06" stroke="#fff" stroke-opacity="0.45" stroke-width="0.9"/>
<line x1="287.00" y1="398.46" x2="348.70" y2="398.46" stroke="#fff" stroke-opacity="0.45" stroke-width="0.9"/>
<line x1="287.00" y1="404.87" x2="348.70" y2="404.87" stroke="#fff" stroke-opacity="0.45" stroke-width="0.9"/>
<line x1="287.00" y1="411.28" x2="348.70" y2="411.28" stroke="#fff" stroke-opacity="0.45" stroke-width="0.9"/>
<line x1="287.00" y1="417.69" x2="348.70" y2="417.69" stroke="#fff" stroke-opacity="0.45" stroke-width="0.9"/>
<line x1="287.00" y1="424.10" x2="348.70" y2="424.10" stroke="#fff" stroke-opacity="0.45" stroke-width="0.9"/>
<line x1="287.00" y1="430.50" x2="348.70" y2="430.50" stroke="#fff" stroke-opacity="0.45" stroke-width="0.9"/>
<line x1="287.00" y1="436.91" x2="348.70" y2="436.91" stroke="#fff" stroke-opacity="0.45" stroke-width="0.9"/>
<line x1="287.00" y1="443.32" x2="348.70" y2="443.32" stroke="#fff" stroke-opacity="0.45" stroke-width="0.9"/>
<line x1="287.00" y1="449.73" x2="348.70" y2="449.73" stroke="#fff" stroke-opacity="0.45" stroke-width="0.9"/>
<line x1="287.00" y1="456.14" x2="348.70" y2="456.14" stroke="#fff" stroke-opacity="0.45" stroke-width="0.9"/>
<line x1="287.00" y1="462.54" x2="348.70" y2="462.54" stroke="#fff" stroke-opacity="0.45" stroke-width="0.9"/>
<line x1="287.00" y1="468.95" x2="348.70" y2="468.95" stroke="#fff" stroke-opacity="0.45" stroke-width="0.9"/>
<line x1="287.00" y1="475.36" x2="348.70" y2="475.36" stroke="#fff" stroke-opacity="0.45" stroke-width="0.9"/>
<line x1="287.00" y1="481.77" x2="348.70" y2="481.77" stroke="#fff" stroke-opacity="0.45" stroke-width="0.9"/>
<line x1="287.00" y1="488.18" x2="348.70" y2="488.18" stroke="#fff" stroke-opacity="0.45" stroke-width="0.9"/>
<line x1="287.00" y1="494.58" x2="348.70" y2="494.58" stroke="#fff" stroke-opacity="0.45" stroke-width="0.9"/>
<line x1="287.00" y1="500.99" x2="348.70" y2="500.99" stroke="#fff" stroke-opacity="0.45" stroke-width="0.9"/>
<line x1="307.57" y1="187.00" x2="307.57" y2="507.40" stroke="#fff" stroke-opacity="0.55" stroke-width="1.0"/>
<line x1="328.13" y1="187.00" x2="328.13" y2="507.40" stroke="#fff" stroke-opacity="0.55" stroke-width="1.0"/>
<text x="0" y="0" font-size="6.3" fill="#b8d2f0" stroke="#b8d2f0" stroke-width="0.18" text-anchor="middle" transform="translate(297.28,192.45) rotate(0.05)">S</text>
<text x="0" y="0" font-size="6.3" fill="#b8d2f0" stroke="#b8d2f0" stroke-width="0.18" text-anchor="middle" transform="translate(317.85,192.45) rotate(0.05)">S</text>
<text x="0" y="0" font-size="6.3" fill="#b8d2f0" stroke="#b8d2f0" stroke-width="0.18" text-anchor="middle" transform="translate(338.42,192.45) rotate(0.05)">S</text>
<text x="0" y="0" font-size="6.3" fill="#b8d2f0" stroke="#b8d2f0" stroke-width="0.18" text-anchor="middle" transform="translate(297.28,198.86) rotate(0.05)">S</text>
<text x="0" y="0" font-size="6.3" fill="#b8d2f0" stroke="#b8d2f0" stroke-width="0.18" text-anchor="middle" transform="translate(317.85,198.86) rotate(0.05)">S</text>
<text x="0" y="0" font-size="6.3" fill="#b8d2f0" stroke="#b8d2f0" stroke-width="0.18" text-anchor="middle" transform="translate(338.42,198.86) rotate(0.05)">S</text>
<text x="0" y="0" font-size="6.3" fill="#b8d2f0" stroke="#b8d2f0" stroke-width="0.18" text-anchor="middle" transform="translate(297.28,205.27) rotate(0.05)">S</text>
<text x="0" y="0" font-size="6.3" fill="#b8d2f0" stroke="#b8d2f0" stroke-width="0.18" text-anchor="middle" transform="translate(317.85,205.27) rotate(0.05)">S</text>
<text x="0" y="0" font-size="6.3" fill="#b8d2f0" stroke="#b8d2f0" stroke-width="0.18" text-anchor="middle" transform="translate(338.42,205.27) rotate(0.05)">S</text>
<text x="0" y="0" font-size="6.3" fill="#b8d2f0" stroke="#b8d2f0" stroke-width="0.18" text-anchor="middle" transform="translate(297.28,211.68) rotate(0.05)">S</text>
<text x="0" y="0" font-size="6.3" fill="#b8d2f0" stroke="#b8d2f0" stroke-width="0.18" text-anchor="middle" transform="translate(317.85,211.68) rotate(0.05)">S</text>
<text x="0" y="0" font-size="6.3" fill="#b8d2f0" stroke="#b8d2f0" stroke-width="0.18" text-anchor="middle" transform="translate(338.42,211.68) rotate(0.05)">S</text>
<text x="0" y="0" font-size="6.3" fill="#b8d2f0" stroke="#b8d2f0" stroke-width="0.18" text-anchor="middle" transform="translate(297.28,218.09) rotate(0.05)">S</text>
<text x="0" y="0" font-size="6.3" fill="#b8d2f0" stroke="#b8d2f0" stroke-width="0.18" text-anchor="middle" transform="translate(317.85,218.09) rotate(0.05)">S</text>
<text x="0" y="0" font-size="6.3" fill="#b8d2f0" stroke="#b8d2f0" stroke-width="0.18" text-anchor="middle" transform="translate(338.42,218.09) rotate(0.05)">S</text>
<text x="0" y="0" font-size="6.3" fill="#b8d2f0" stroke="#b8d2f0" stroke-width="0.18" text-anchor="middle" transform="translate(297.28,224.49) rotate(0.05)">S</text>
<rect x="317.35" y="220.14" width="1.0" height="4.21" fill="#555"/>
<text x="0" y="0" font-size="6.3" fill="#b8d2f0" stroke="#b8d2f0" stroke-width="0.18" text-anchor="middle" transform="translate(338.42,224.49) rotate(0.05)">S</text>
<text x="0" y="0" font-size="6.3" fill="#b8d2f0" stroke="#b8d2f0" stroke-width="0.18" text-anchor="middle" transform="translate(297.28,230.90) rotate(0.05)">S</text>
<text x="0" y="0" font-size="6.3" fill="#b8d2f0" stroke="#b8d2f0" stroke-width="0.18" text-anchor="middle" transform="translate(317.85,230.90) rotate(0.05)">S</text>
<text x="0" y="0" font-size="6.3" fill="#b8d2f0" stroke="#b8d2f0" stroke-width="0.18" text-anchor="middle" transform="translate(338.42,230.90) rotate(0.05)">S</text>
<text x="0" y="0" font-size="6.3" fill="#b8d2f0" stroke="#b8d2f0" stroke-width="0.18" text-anchor="middle" transform="translate(297.28,237.31) rotate(0.05)">S</text>
<text x="0" y="0" font-size="6.3" fill="#b8d2f0" stroke="#b8d2f0" stroke-width="0.18" text-anchor="middle" transform="translate(317.85,237.31) rotate(0.05)">S</text>
<text x="0" y="0" font-size="6.3" fill="#b8d2f0" stroke="#b8d2f0" stroke-width="0.18" text-anchor="middle" transform="translate(338.42,237.31) rotate(0.05)">S</text>
<text x="0" y="0" font-size="6.3" fill="#b8d2f0" stroke="#b8d2f0" stroke-width="0.18" text-anchor="middle" transform="translate(297.28,243.72) rotate(0.05)">S</text>
<text x="0" y="0" font-size="6.3" fill="#b8d2f0" stroke="#b8d2f0" stroke-width="0.18" text-anchor="middle" transform="translate(317.85,243.72) rotate(0.05)">S</text>
<text x="0" y="0" font-size="6.3" fill="#b8d2f0" stroke="#b8d2f0" stroke-width="0.18" text-anchor="middle" transform="translate(338.42,243.72) rotate(0.05)">S</text>
<text x="0" y="0" font-size="6.3" fill="#b8d2f0" stroke="#b8d2f0" stroke-width="0.18" text-anchor="middle" transform="translate(297.28,250.13) rotate(0.05)">S</text>
<text x="0" y="0" font-size="6.3" fill="#b8d2f0" stroke="#b8d2f0" stroke-width="0.18" text-anchor="middle" transform="translate(317.85,250.13) rotate(0.05)">S</text>
<text x="0" y="0" font-size="6.3" fill="#b8d2f0" stroke="#b8d2f0" stroke-width="0.18" text-anchor="middle" transform="translate(338.42,250.13) rotate(0.05)">S</text>
<text x="0" y="0" font-size="6.3" fill="#b8d2f0" stroke="#b8d2f0" stroke-width="0.18" text-anchor="middle" transform="translate(297.28,256.53) rotate(0.05)">S</text>
<text x="0" y="0" font-size="6.3" fill="#b8d2f0" stroke="#b8d2f0" stroke-width="0.18" text-anchor="middle" transform="translate(317.85,256.53) rotate(0.05)">S</text>
<text x="0" y="0" font-size="6.3" fill="#b8d2f0" stroke="#b8d2f0" stroke-width="0.18" text-anchor="middle" transform="translate(338.42,256.53) rotate(0.05)">S</text>
<text x="0" y="0" font-size="6.3" fill="#b8d2f0" stroke="#b8d2f0" stroke-width="0.18" text-anchor="middle" transform="translate(297.28,262.94) rotate(0.05)">S</text>
<text x="0" y="0" font-size="6.3" fill="#b8d2f0" stroke="#b8d2f0" stroke-width="0.18" text-anchor="middle" transform="translate(317.85,262.94) rotate(0.05)">S</text>
<text x="0" y="0" font-size="6.3" fill="#b8d2f0" stroke="#b8d2f0" stroke-width="0.18" text-anchor="middle" transform="translate(338.42,262.94) rotate(0.05)">S</text>
<text x="0" y="0" font-size="6.3" fill="#b8d2f0" stroke="#b8d2f0" stroke-width="0.18" text-anchor="middle" transform="translate(297.28,269.35) rotate(0.05)">S</text>
<rect x="317.35" y="265.00" width="1.0" height="4.21" fill="#555"/>
<text x="0" y="0" font-size="6.3" fill="#b8d2f0" stroke="#b8d2f0" stroke-width="0.18" text-anchor="middle" transform="translate(338.42,269.35) rotate(0.05)">S</text>
<text x="0" y="0" font-size="6.3" fill="#b8d2f0" stroke="#b8d2f0" stroke-width="0.18" text-anchor="middle" transform="translate(297.28,275.76) rotate(0.05)">S</text>
<rect x="317.35" y="271.40" width="1.0" height="4.21" fill="#555"/>
<text x="0" y="0" font-size="6.3" fill="#b8d2f0" stroke="#b8d2f0" stroke-width="0.18" text-anchor="middle" transform="translate(338.42,275.76) rotate(0.05)">S</text>
<text x="0" y="0" font-size="6.3" fill="#b8d2f0" stroke="#b8d2f0" stroke-width="0.18" text-anchor="middle" transform="translate(297.28,282.17) rotate(0.05)">S</text>
<text x="0" y="0" font-size="6.3" fill="#b8d2f0" stroke="#b8d2f0" stroke-width="0.18" text-anchor="middle" transform="translate(317.85,282.17) rotate(0.05)">S</text>
<text x="0" y="0" font-size="6.3" fill="#b8d2f0" stroke="#b8d2f0" stroke-width="0.18" text-anchor="middle" transform="translate(338.42,282.17) rotate(0.05)">S</text>
<text x="0" y="0" font-size="6.3" fill="#b8d2f0" stroke="#b8d2f0" stroke-width="0.18" text-anchor="middle" transform="translate(297.28,288.57) rotate(0.05)">S</text>
<text x="0" y="0" font-size="6.3" fill="#b8d2f0" stroke="#b8d2f0" stroke-width="0.18" text-anchor="middle" transform="translate(317.85,288.57) rotate(0.05)">S</text>
<text x="0" y="0" font-size="6.3" fill="#b8d2f0" stroke="#b8d2f0" stroke-width="0.18" text-anchor="middle" transform="translate(338.42,288.57) rotate(0.05)">S</text>
<text x="0" y="0" font-size="6.3" fill="#b8d2f0" stroke="#b8d2f0" stroke-width="0.18" text-anchor="middle" transform="translate(297.28,294.98) rotate(0.05)">S</text>
<rect x="317.35" y="290.63" width="1.0" height="4.21" fill="#555"/>
<text x="0" y="0" font-size="6.3" fill="#b8d2f0" stroke="#b8d2f0" stroke-width="0.18" text-anchor="middle" transform="translate(338.42,294.98) rotate(0.05)">S</text>
<text x="0" y="0" font-size="6.3" fill="#b8d2f0" stroke="#b8d2f0" stroke-width="0.18" text-anchor="middle" transform="translate(297.28,301.39) rotate(0.05)">S</text>
<text x="0" y="0" font-size="6.3" fill="#b8d2f0" stroke="#b8d2f0" stroke-width="0.18" text-anchor="middle" transform="translate(317.85,301.39) rotate(0.05)">S</text>
<text x="0" y="0" font-size="6.3" fill="#b8d2f0" stroke="#b8d2f0" stroke-width="0.18" text-anchor="middle" transform="translate(338.42,301.39) rotate(0.05)">S</text>
<text x="0" y="0" font-size="6.3" fill="#b8d2f0" stroke="#b8d2f0" stroke-width="0.18" text-anchor="middle" transform="translate(297.28,307.80) rotate(0.05)">S</text>
<text x="0" y="0" font-size="6.3" fill="#b8d2f0" stroke="#b8d2f0" stroke-width="0.18" text-anchor="middle" transform="translate(317.85,307.80) rotate(0.05)">S</text>
<text x="0" y="0" font-size="6.3" fill="#b8d2f0" stroke="#b8d2f0" stroke-width="0.18" text-anchor="middle" transform="translate(338.42,307.80) rotate(0.05)">S</text>
<text x="0" y="0" font-size="6.3" fill="#b8d2f0" stroke="#b8d2f0" stroke-width="0.18" text-anchor="middle" transform="translate(297.28,314.21) rotate(0.05)">S</text>
<rect x="317.35" y="309.85" width="1.0" height="4.21" fill="#555"/>
<text x="0" y="0" font-size="6.3" fill="#b8d2f0" stroke="#b8d2f0" stroke-width="0.18" text-anchor="middle" transform="translate(338.42,314.21) rotate(0.05)">S</text>
<text x="0" y="0" font-size="6.3" fill="#b8d2f0" stroke="#b8d2f0" stroke-width="0.18" text-anchor="middle" transform="translate(297.28,320.61) rotate(0.05)">S</text>
<rect x="317.35" y="316.26" width="1.0" height="4.21" fill="#555"/>
<text x="0" y="0" font-size="6.3" fill="#b8d2f0" stroke="#b8d2f0" stroke-width="0.18" text-anchor="middle" transform="translate(338.42,320.61) rotate(0.05)">S</text>
<text x="0" y="0" font-size="6.3" fill="#b8d2f0" stroke="#b8d2f0" stroke-width="0.18" text-anchor="middle" transform="translate(297.28,327.02) rotate(0.05)">S</text>
<rect x="317.35" y="322.67" width="1.0" height="4.21" fill="#555"/>
<text x="0" y="0" font-size="6.3" fill="#b8d2f0" stroke="#b8d2f0" stroke-width="0.18" text-anchor="middle" transform="translate(338.42,327.02) rotate(0.05)">S</text>
<text x="0" y="0" font-size="6.3" fill="#b8d2f0" stroke="#b8d2f0" stroke-width="0.18" text-anchor="middle" transform="translate(297.28,333.43) rotate(0.05)">S</text>
<text x="0" y="0" font-size="6.3" fill="#b8d2f0" stroke="#b8d2f0" stroke-width="0.18" text-anchor="middle" transform="translate(317.85,333.43) rotate(0.05)">S</text>
<text x="0" y="0" font-size="6.3" fill="#b8d2f0" stroke="#b8d2f0" stroke-width="0.18" text-anchor="middle" transform="translate(338.42,333.43) rotate(0.05)">S</text>
<text x="0" y="0" font-size="6.3" fill="#b8d2f0" stroke="#b8d2f0" stroke-width="0.18" text-anchor="middle" transform="translate(297.28,339.84) rotate(0.05)">S</text>
<text x="0" y="0" font-size="6.3" fill="#b8d2f0" stroke="#b8d2f0" stroke-width="0.18" text-anchor="middle" transform="translate(317.85,339.84) rotate(0.05)">S</text>
<text x="0" y="0" font-size="6.3" fill="#b8d2f0" stroke="#b8d2f0" stroke-width="0.18" text-anchor="middle" transform="translate(338.42,339.84) rotate(0.05)">S</text>
<text x="0" y="0" font-size="6.3" fill="#b8d2f0" stroke="#b8d2f0" stroke-width="0.18" text-anchor="middle" transform="translate(297.28,346.25) rotate(0.05)">S</text>
<text x="0" y="0" font-size="6.3" fill="#b8d2f0" stroke="#b8d2f0" stroke-width="0.18" text-anchor="middle" transform="translate(317.85,346.25) rotate(0.05)">S</text>
<text x="0" y="0" font-size="6.3" fill="#b8d2f0" stroke="#b8d2f0" stroke-width="0.18" text-anchor="middle" transform="translate(338.42,346.25) rotate(0.05)">S</text>
<rect x="296.78" y="348.30" width="1.0" height="4.21" fill="#555"/>
<rect x="317.35" y="348.30" width="1.0" height="4.21" fill="#555"/>
<text x="0" y="0" font-size="6.3" fill="#f8c4cd" stroke="#f8c4cd" stroke-width="0.18" text-anchor="middle" transform="translate(338.42,352.65) rotate(0.05)">R</text>
<rect x="296.78" y="354.71" width="1.0" height="4.21" fill="#555"/>
<rect x="317.35" y="354.71" width="1.0" height="4.21" fill="#555"/>
<text x="0" y="0" font-size="6.3" fill="#f8c4cd" stroke="#f8c4cd" stroke-width="0.18" text-anchor="middle" transform="translate(338.42,359.06) rotate(0.05)">R</text>
<rect x="296.78" y="361.12" width="1.0" height="4.21" fill="#555"/>
<rect x="317.35" y="361.12" width="1.0" height="4.21" fill="#555"/>
<text x="0" y="0" font-size="6.3" fill="#f8c4cd" stroke="#f8c4cd" stroke-width="0.18" text-anchor="middle" transform="translate(338.42,365.47) rotate(0.05)">R</text>
<rect x="296.78" y="367.52" width="1.0" height="4.21" fill="#555"/>
<rect x="317.35" y="367.52" width="1.0" height="4.21" fill="#555"/>
<text x="0" y="0" font-size="6.3" fill="#f8c4cd" stroke="#f8c4cd" stroke-width="0.18" text-anchor="middle" transform="translate(338.42,371.88) rotate(0.05)">R</text>
<rect x="296.78" y="373.93" width="1.0" height="4.21" fill="#555"/>
<rect x="317.35" y="373.93" width="1.0" height="4.21" fill="#555"/>
<text x="0" y="0" font-size="6.3" fill="#f8c4cd" stroke="#f8c4cd" stroke-width="0.18" text-anchor="middle" transform="translate(338.42,378.29) rotate(0.05)">R</text>
<rect x="296.78" y="380.34" width="1.0" height="4.21" fill="#555"/>
<rect x="317.35" y="380.34" width="1.0" height="4.21" fill="#555"/>
<text x="0" y="0" font-size="6.3" fill="#f8c4cd" stroke="#f8c4cd" stroke-width="0.18" text-anchor="middle" transform="translate(338.42,384.69) rotate(0.05)">R</text>
<rect x="296.78" y="386.75" width="1.0" height="4.21" fill="#555"/>
<rect x="317.35" y="386.75" width="1.0" height="4.21" fill="#555"/>
<text x="0" y="0" font-size="6.3" fill="#f8c4cd" stroke="#f8c4cd" stroke-width="0.18" text-anchor="middle" transform="translate(338.42,391.10) rotate(0.05)">R</text>
<rect x="296.78" y="393.16" width="1.0" height="4.21" fill="#555"/>
<rect x="317.35" y="393.16" width="1.0" height="4.21" fill="#555"/>
<text x="0" y="0" font-size="6.3" fill="#f8c4cd" stroke="#f8c4cd" stroke-width="0.18" text-anchor="middle" transform="translate(338.42,397.51) rotate(0.05)">R</text>
<rect x="296.78" y="399.56" width="1.0" height="4.21" fill="#555"/>
<rect x="317.35" y="399.56" width="1.0" height="4.21" fill="#555"/>
<text x="0" y="0" font-size="6.3" fill="#f8c4cd" stroke="#f8c4cd" stroke-width="0.18" text-anchor="middle" transform="translate(338.42,403.92) rotate(0.05)">R</text>
<rect x="296.78" y="405.97" width="1.0" height="4.21" fill="#555"/>
<rect x="317.35" y="405.97" width="1.0" height="4.21" fill="#555"/>
<text x="0" y="0" font-size="6.3" fill="#f8c4cd" stroke="#f8c4cd" stroke-width="0.18" text-anchor="middle" transform="translate(338.42,410.33) rotate(0.05)">R</text>
<text x="0" y="0" font-size="6.3" fill="#b8d2f0" stroke="#b8d2f0" stroke-width="0.18" text-anchor="middle" transform="translate(297.28,416.73) rotate(0.05)">S</text>
<rect x="317.35" y="412.38" width="1.0" height="4.21" fill="#555"/>
<text x="0" y="0" font-size="6.3" fill="#f8c4cd" stroke="#f8c4cd" stroke-width="0.18" text-anchor="middle" transform="translate(338.42,416.73) rotate(0.05)">R</text>
<rect x="296.78" y="418.79" width="1.0" height="4.21" fill="#555"/>
<rect x="317.35" y="418.79" width="1.0" height="4.21" fill="#555"/>
<text x="0" y="0" font-size="6.3" fill="#f8c4cd" stroke="#f8c4cd" stroke-width="0.18" text-anchor="middle" transform="translate(338.42,423.14) rotate(0.05)">R</text>
<rect x="296.78" y="425.20" width="1.0" height="4.21" fill="#555"/>
<rect x="317.35" y="425.20" width="1.0" height="4.21" fill="#555"/>
<text x="0" y="0" font-size="6.3" fill="#f8c4cd" stroke="#f8c4cd" stroke-width="0.18" text-anchor="middle" transform="translate(338.42,429.55) rotate(0.05)">R</text>
<rect x="296.78" y="431.60" width="1.0" height="4.21" fill="#555"/>
<rect x="317.35" y="431.60" width="1.0" height="4.21" fill="#555"/>
<text x="0" y="0" font-size="6.3" fill="#f8c4cd" stroke="#f8c4cd" stroke-width="0.18" text-anchor="middle" transform="translate(338.42,435.96) rotate(0.05)">R</text>
<rect x="296.78" y="438.01" width="1.0" height="4.21" fill="#555"/>
<rect x="317.35" y="438.01" width="1.0" height="4.21" fill="#555"/>
<text x="0" y="0" font-size="6.3" fill="#f8c4cd" stroke="#f8c4cd" stroke-width="0.18" text-anchor="middle" transform="translate(338.42,442.37) rotate(0.05)">R</text>
<rect x="296.78" y="444.42" width="1.0" height="4.21" fill="#555"/>
<rect x="317.35" y="444.42" width="1.0" height="4.21" fill="#555"/>
<text x="0" y="0" font-size="6.3" fill="#f8c4cd" stroke="#f8c4cd" stroke-width="0.18" text-anchor="middle" transform="translate(338.42,448.77) rotate(0.05)">R</text>
<rect x="296.78" y="450.83" width="1.0" height="4.21" fill="#555"/>
<rect x="317.35" y="450.83" width="1.0" height="4.21" fill="#555"/>
<text x="0" y="0" font-size="6.3" fill="#f8c4cd" stroke="#f8c4cd" stroke-width="0.18" text-anchor="middle" transform="translate(338.42,455.18) rotate(0.05)">R</text>
<text x="0" y="0" font-size="6.3" fill="#f8c4cd" stroke="#f8c4cd" stroke-width="0.18" text-anchor="middle" transform="translate(297.28,461.59) rotate(0.05)">R</text>
<rect x="317.35" y="457.24" width="1.0" height="4.21" fill="#555"/>
<text x="0" y="0" font-size="6.3" fill="#f8c4cd" stroke="#f8c4cd" stroke-width="0.18" text-anchor="middle" transform="translate(338.42,461.59) rotate(0.05)">R</text>
<text x="0" y="0" font-size="6.3" fill="#f8c4cd" stroke="#f8c4cd" stroke-width="0.18" text-anchor="middle" transform="translate(297.28,468.00) rotate(0.05)">R</text>
<rect x="317.35" y="463.64" width="1.0" height="4.21" fill="#555"/>
<text x="0" y="0" font-size="6.3" fill="#f8c4cd" stroke="#f8c4cd" stroke-width="0.18" text-anchor="middle" transform="translate(338.42,468.00) rotate(0.05)">R</text>
<text x="0" y="0" font-size="6.3" fill="#f8c4cd" stroke="#f8c4cd" stroke-width="0.18" text-anchor="middle" transform="translate(297.28,474.41) rotate(0.05)">R</text>
<rect x="317.35" y="470.05" width="1.0" height="4.21" fill="#555"/>
<text x="0" y="0" font-size="6.3" fill="#f8c4cd" stroke="#f8c4cd" stroke-width="0.18" text-anchor="middle" transform="translate(338.42,474.41) rotate(0.05)">R</text>
<text x="0" y="0" font-size="6.3" fill="#f8c4cd" stroke="#f8c4cd" stroke-width="0.18" text-anchor="middle" transform="translate(297.28,480.81) rotate(0.05)">R</text>
<text x="0" y="0" font-size="6.3" fill="#f8c4cd" stroke="#f8c4cd" stroke-width="0.18" text-anchor="middle" transform="translate(317.85,480.81) rotate(0.05)">R</text>
<text x="0" y="0" font-size="6.3" fill="#f8c4cd" stroke="#f8c4cd" stroke-width="0.18" text-anchor="middle" transform="translate(338.42,480.81) rotate(0.05)">R</text>
<rect x="296.78" y="482.87" width="1.0" height="4.21" fill="#555"/>
<rect x="317.35" y="482.87" width="1.0" height="4.21" fill="#555"/>
<text x="0" y="0" font-size="6.3" fill="#f8c4cd" stroke="#f8c4cd" stroke-width="0.18" text-anchor="middle" transform="translate(338.42,487.22) rotate(0.05)">R</text>
<rect x="296.78" y="489.28" width="1.0" height="4.21" fill="#555"/>
<rect x="317.35" y="489.28" width="1.0" height="4.21" fill="#555"/>
<text x="0" y="0" font-size="6.3" fill="#f8c4cd" stroke="#f8c4cd" stroke-width="0.18" text-anchor="middle" transform="translate(338.42,493.63) rotate(0.05)">R</text>
<rect x="296.78" y="495.68" width="1.0" height="4.21" fill="#555"/>
<text x="0" y="0" font-size="6.3" fill="#f8c4cd" stroke="#f8c4cd" stroke-width="0.18" text-anchor="middle" transform="translate(317.85,500.04) rotate(0.05)">R</text>
<text x="0" y="0" font-size="6.3" fill="#f8c4cd" stroke="#f8c4cd" stroke-width="0.18" text-anchor="middle" transform="translate(338.42,500.04) rotate(0.05)">R</text>
<rect x="296.78" y="502.09" width="1.0" height="4.21" fill="#555"/>
<rect x="317.35" y="502.09" width="1.0" height="4.21" fill="#555"/>
<text x="0" y="0" font-size="6.3" fill="#f8c4cd" stroke="#f8c4cd" stroke-width="0.18" text-anchor="middle" transform="translate(338.42,506.45) rotate(0.05)">R</text>
<text x="0" y="0" font-size="6.2" fill="#231f20" stroke="#231f20" stroke-width="0.12" text-anchor="end" transform="translate(300.68,513.50) rotate(-45)">arac.d4.MLE</text>
<text x="0" y="0" font-size="6.2" fill="#231f20" stroke="#231f20" stroke-width="0.12" text-anchor="end" transform="translate(321.25,513.50) rotate(-45)">dauno.d4.MLE</text>
<text x="0" y="0" font-size="6.2" fill="#231f20" stroke="#231f20" stroke-width="0.12" text-anchor="end" transform="translate(341.82,513.50) rotate(-45)">etop.d4.MLE</text>
<text transform="translate(115.40,552.00) rotate(0.05)" font-size="6.2" fill="#231f20" text-anchor="start" font-weight="normal"  stroke="#231f20" stroke-width="0.1">CRISPR</text>
<rect x="145.6" y="547.6" width="4.3" height="4.3" fill="#cb0f2e"/>
<text transform="translate(152.60,552.00) rotate(0.05)" font-size="6.2" fill="#231f20" text-anchor="start" font-weight="normal"  stroke="#231f20" stroke-width="0.1">Resistance</text>
<rect x="190.9" y="547.6" width="4.3" height="4.3" fill="#d1d2d5"/>
<text transform="translate(196.80,552.00) rotate(0.05)" font-size="6.2" fill="#231f20" text-anchor="start" font-weight="normal"  stroke="#231f20" stroke-width="0.1">Inert</text>
<rect x="216.0" y="547.6" width="4.3" height="4.3" fill="#134d8c"/>
<text transform="translate(222.70,552.00) rotate(0.05)" font-size="6.2" fill="#231f20" text-anchor="start" font-weight="normal"  stroke="#231f20" stroke-width="0.1">Sensitve</text>
<line x1="422.50" y1="39.6" x2="422.50" y2="135.2" stroke="#ebebeb" stroke-width="0.5"/>
<line x1="444.18" y1="39.6" x2="444.18" y2="135.2" stroke="#ebebeb" stroke-width="0.5"/>
<line x1="465.85" y1="39.6" x2="465.85" y2="135.2" stroke="#ebebeb" stroke-width="0.5"/>
<line x1="487.52" y1="39.6" x2="487.52" y2="135.2" stroke="#ebebeb" stroke-width="0.5"/>
<line x1="509.20" y1="39.6" x2="509.20" y2="135.2" stroke="#ebebeb" stroke-width="0.5"/>
<line x1="433.34" y1="39.6" x2="433.34" y2="135.2" stroke="#f6f6f6" stroke-width="0.4"/>
<line x1="455.01" y1="39.6" x2="455.01" y2="135.2" stroke="#f6f6f6" stroke-width="0.4"/>
<line x1="476.69" y1="39.6" x2="476.69" y2="135.2" stroke="#f6f6f6" stroke-width="0.4"/>
<line x1="498.36" y1="39.6" x2="498.36" y2="135.2" stroke="#f6f6f6" stroke-width="0.4"/>
<line x1="418.6" y1="47.55" x2="509.6" y2="47.55" stroke="#ebebeb" stroke-width="0.5"/>
<line x1="418.6" y1="69.10" x2="509.6" y2="69.10" stroke="#ebebeb" stroke-width="0.5"/>
<line x1="418.6" y1="90.65" x2="509.6" y2="90.65" stroke="#ebebeb" stroke-width="0.5"/>
<line x1="418.6" y1="112.20" x2="509.6" y2="112.20" stroke="#ebebeb" stroke-width="0.5"/>
<line x1="418.6" y1="133.75" x2="509.6" y2="133.75" stroke="#ebebeb" stroke-width="0.5"/>
<line x1="418.6" y1="102.40" x2="509.6" y2="102.40" stroke="#cfcfcf" stroke-width="0.7"/>
<line x1="418.6" y1="121.20" x2="509.6" y2="121.20" stroke="#cfcfcf" stroke-width="0.7"/>
<polyline points="422.80,121.30 423.50,119.80 425.00,118.70 428.00,117.40 433.00,116.10 440.00,115.20 450.00,114.00 460.00,112.60 468.00,111.40 475.00,109.90 485.00,107.60 490.00,106.30 494.00,104.60 497.00,102.60 498.40,101.20" fill="none" stroke="#7a7a7a" stroke-width="3.05" stroke-linecap="round" stroke-linejoin="round"/>
<polyline points="422.40,132.30 422.50,127.00 422.80,121.30" fill="none" stroke="#a5173e" stroke-width="3.05" stroke-linecap="round" stroke-linejoin="round"/>
<polyline points="498.40,101.20 499.40,99.60 500.60,95.00 501.70,90.00 502.40,85.00 503.00,80.00 503.90,70.00 504.60,60.00 505.10,51.00 505.30,48.80" fill="none" stroke="#2166ac" stroke-width="3.05" stroke-linecap="round" stroke-linejoin="round"/>
<circle cx="505.6" cy="43.0" r="1.25" fill="#3d5a80"/>
<line x1="499.5" y1="71.5" x2="503.2" y2="80.0" stroke="#5a86b5" stroke-width="0.4"/>
<text transform="translate(422.70,52.60) rotate(0.05)" font-size="6.25" fill="#46699b" text-anchor="start" font-weight="normal"  stroke="#46699b" stroke-width="0.12">Sensitive Genes = 1800</text>
<text transform="translate(486.00,73.10) rotate(0.05)" font-size="6.25" fill="#46699b" text-anchor="start" font-weight="normal"  stroke="#46699b" stroke-width="0.12">DCK</text>
<text transform="translate(505.50,127.70) rotate(0.05)" font-size="6.25" fill="#bc2550" text-anchor="end" font-weight="normal"  stroke="#bc2550" stroke-width="0.12">Resistant Genes = 240</text>
<rect x="418.6" y="39.6" width="91.00" height="95.60" fill="none" stroke="#1a1a1a" stroke-width="1.1"/>
<line x1="416.20000000000005" y1="47.55" x2="418.6" y2="47.55" stroke="#333" stroke-width="0.6"/>
<text transform="translate(413.00,49.80) rotate(0.05)" font-size="6.3" fill="#333" text-anchor="end" font-weight="normal"  stroke="#333" stroke-width="0.1">1.5</text>
<line x1="416.20000000000005" y1="69.10" x2="418.6" y2="69.10" stroke="#333" stroke-width="0.6"/>
<text transform="translate(413.00,71.35) rotate(0.05)" font-size="6.3" fill="#333" text-anchor="end" font-weight="normal"  stroke="#333" stroke-width="0.1">1.0</text>
<line x1="416.20000000000005" y1="90.65" x2="418.6" y2="90.65" stroke="#333" stroke-width="0.6"/>
<text transform="translate(413.00,92.90) rotate(0.05)" font-size="6.3" fill="#333" text-anchor="end" font-weight="normal"  stroke="#333" stroke-width="0.1">0.5</text>
<line x1="416.20000000000005" y1="112.20" x2="418.6" y2="112.20" stroke="#333" stroke-width="0.6"/>
<text transform="translate(413.00,114.45) rotate(0.05)" font-size="6.3" fill="#333" text-anchor="end" font-weight="normal"  stroke="#333" stroke-width="0.1">0.0</text>
<line x1="416.20000000000005" y1="133.75" x2="418.6" y2="133.75" stroke="#333" stroke-width="0.6"/>
<text transform="translate(413.00,136.00) rotate(0.05)" font-size="6.3" fill="#333" text-anchor="end" font-weight="normal"  stroke="#333" stroke-width="0.1">−0.5</text>
<line x1="422.50" y1="135.2" x2="422.50" y2="137.79999999999998" stroke="#333" stroke-width="0.6"/>
<text x="0" y="0" font-size="6.3" fill="#333" stroke="#333" stroke-width="0.1" text-anchor="end" transform="translate(425.90,145.60) rotate(-45)">0</text>
<line x1="444.18" y1="135.2" x2="444.18" y2="137.79999999999998" stroke="#333" stroke-width="0.6"/>
<text x="0" y="0" font-size="6.3" fill="#333" stroke="#333" stroke-width="0.1" text-anchor="end" transform="translate(447.57,145.60) rotate(-45)">5000</text>
<line x1="465.85" y1="135.2" x2="465.85" y2="137.79999999999998" stroke="#333" stroke-width="0.6"/>
<text x="0" y="0" font-size="6.3" fill="#333" stroke="#333" stroke-width="0.1" text-anchor="end" transform="translate(469.25,145.60) rotate(-45)">10000</text>
<line x1="487.52" y1="135.2" x2="487.52" y2="137.79999999999998" stroke="#333" stroke-width="0.6"/>
<text x="0" y="0" font-size="6.3" fill="#333" stroke="#333" stroke-width="0.1" text-anchor="end" transform="translate(490.92,145.60) rotate(-45)">15000</text>
<line x1="509.20" y1="135.2" x2="509.20" y2="137.79999999999998" stroke="#333" stroke-width="0.6"/>
<text x="0" y="0" font-size="6.3" fill="#333" stroke="#333" stroke-width="0.1" text-anchor="end" transform="translate(512.60,145.60) rotate(-45)">20000</text>
<text transform="translate(464.00,34.20) rotate(0.05)" font-size="8.25" fill="#1a1a1a" text-anchor="middle" font-weight="normal"  stroke="#1a1a1a" stroke-width="0.04">arac.d4 - ct.d4 Beta</text>
<text x="0" y="0" font-size="8.6" fill="#1a1a1a" stroke="#1a1a1a" stroke-width="0.2" text-anchor="middle" transform="translate(464.2,169.0) rotate(0.05) scale(0.70,1)">Rank</text>
<text x="0" y="0" font-size="8.8" fill="#1a1a1a" stroke="#1a1a1a" stroke-width="0.2" text-anchor="middle" transform="translate(394.8,87.4) rotate(-90) scale(0.665,1)">Differential beta score</text>
<text x="0" y="0" font-size="8.3" fill="#1a1a1a" text-anchor="middle" transform="translate(383.0,87.3) rotate(-90)">AraC</text>
<text transform="translate(509.20,180.00) rotate(0.05)" font-size="6.3" fill="#1a1a1a" text-anchor="end" font-weight="normal"  stroke="#1a1a1a" stroke-width="0.1">SD Cutoff = 2</text>
<line x1="422.50" y1="209.6" x2="422.50" y2="305.2" stroke="#ebebeb" stroke-width="0.5"/>
<line x1="444.18" y1="209.6" x2="444.18" y2="305.2" stroke="#ebebeb" stroke-width="0.5"/>
<line x1="465.85" y1="209.6" x2="465.85" y2="305.2" stroke="#ebebeb" stroke-width="0.5"/>
<line x1="487.52" y1="209.6" x2="487.52" y2="305.2" stroke="#ebebeb" stroke-width="0.5"/>
<line x1="509.20" y1="209.6" x2="509.20" y2="305.2" stroke="#ebebeb" stroke-width="0.5"/>
<line x1="433.34" y1="209.6" x2="433.34" y2="305.2" stroke="#f6f6f6" stroke-width="0.4"/>
<line x1="455.01" y1="209.6" x2="455.01" y2="305.2" stroke="#f6f6f6" stroke-width="0.4"/>
<line x1="476.69" y1="209.6" x2="476.69" y2="305.2" stroke="#f6f6f6" stroke-width="0.4"/>
<line x1="498.36" y1="209.6" x2="498.36" y2="305.2" stroke="#f6f6f6" stroke-width="0.4"/>
<line x1="418.6" y1="221.93" x2="509.6" y2="221.93" stroke="#ebebeb" stroke-width="0.5"/>
<line x1="418.6" y1="242.40" x2="509.6" y2="242.40" stroke="#ebebeb" stroke-width="0.5"/>
<line x1="418.6" y1="262.88" x2="509.6" y2="262.88" stroke="#ebebeb" stroke-width="0.5"/>
<line x1="418.6" y1="283.35" x2="509.6" y2="283.35" stroke="#ebebeb" stroke-width="0.5"/>
<line x1="418.6" y1="303.82" x2="509.6" y2="303.82" stroke="#ebebeb" stroke-width="0.5"/>
<line x1="418.6" y1="231.10" x2="509.6" y2="231.10" stroke="#cfcfcf" stroke-width="0.7"/>
<line x1="418.6" y1="252.70" x2="509.6" y2="252.70" stroke="#cfcfcf" stroke-width="0.7"/>
<polyline points="428.00,254.40 430.00,253.10 433.00,251.30 440.00,248.80 450.00,245.80 460.00,243.40 468.00,241.70 475.00,240.00 485.00,237.30 492.00,235.00 500.00,232.30 502.50,230.80 504.00,229.00" fill="none" stroke="#7a7a7a" stroke-width="3.05" stroke-linecap="round" stroke-linejoin="round"/>
<polyline points="422.50,279.40 422.70,275.00 423.00,271.20 423.50,265.00 424.50,260.00 426.00,256.90 428.00,254.40" fill="none" stroke="#a5173e" stroke-width="3.05" stroke-linecap="round" stroke-linejoin="round"/>
<polyline points="504.00,229.00 504.80,226.00 505.30,221.00 505.60,216.00 505.60,213.30" fill="none" stroke="#2166ac" stroke-width="3.05" stroke-linecap="round" stroke-linejoin="round"/>
<circle cx="422.5" cy="282.6" r="1.25" fill="#a5173e"/>
<circle cx="422.5" cy="301.6" r="1.25" fill="#7a2a40"/>
<line x1="497.8" y1="213.8" x2="503.6" y2="226.0" stroke="#5a86b5" stroke-width="0.4"/>
<text transform="translate(477.40,215.10) rotate(0.05)" font-size="6.25" fill="#46658f" text-anchor="start" font-weight="normal"  stroke="#46658f" stroke-width="0.12">TOP2A</text>
<text transform="translate(422.70,223.00) rotate(0.05)" font-size="6.25" fill="#46699b" text-anchor="start" font-weight="normal"  stroke="#46699b" stroke-width="0.12">Sensitive Genes = 258</text>
<text transform="translate(505.80,297.40) rotate(0.05)" font-size="6.25" fill="#bc2550" text-anchor="end" font-weight="normal"  stroke="#bc2550" stroke-width="0.12">Resistant Genes = 1229</text>
<rect x="418.6" y="209.6" width="91.00" height="95.60" fill="none" stroke="#1a1a1a" stroke-width="1.1"/>
<line x1="416.20000000000005" y1="221.93" x2="418.6" y2="221.93" stroke="#333" stroke-width="0.6"/>
<text transform="translate(413.00,224.18) rotate(0.05)" font-size="6.3" fill="#333" text-anchor="end" font-weight="normal"  stroke="#333" stroke-width="0.1">0.5</text>
<line x1="416.20000000000005" y1="242.40" x2="418.6" y2="242.40" stroke="#333" stroke-width="0.6"/>
<text transform="translate(413.00,244.65) rotate(0.05)" font-size="6.3" fill="#333" text-anchor="end" font-weight="normal"  stroke="#333" stroke-width="0.1">0.0</text>
<line x1="416.20000000000005" y1="262.88" x2="418.6" y2="262.88" stroke="#333" stroke-width="0.6"/>
<text transform="translate(413.00,265.12) rotate(0.05)" font-size="6.3" fill="#333" text-anchor="end" font-weight="normal"  stroke="#333" stroke-width="0.1">−0.5</text>
<line x1="416.20000000000005" y1="283.35" x2="418.6" y2="283.35" stroke="#333" stroke-width="0.6"/>
<text transform="translate(413.00,285.60) rotate(0.05)" font-size="6.3" fill="#333" text-anchor="end" font-weight="normal"  stroke="#333" stroke-width="0.1">−1.0</text>
<line x1="416.20000000000005" y1="303.82" x2="418.6" y2="303.82" stroke="#333" stroke-width="0.6"/>
<text transform="translate(413.00,306.07) rotate(0.05)" font-size="6.3" fill="#333" text-anchor="end" font-weight="normal"  stroke="#333" stroke-width="0.1">−1.5</text>
<line x1="422.50" y1="305.2" x2="422.50" y2="307.8" stroke="#333" stroke-width="0.6"/>
<text x="0" y="0" font-size="6.3" fill="#333" stroke="#333" stroke-width="0.1" text-anchor="end" transform="translate(425.90,315.60) rotate(-45)">0</text>
<line x1="444.18" y1="305.2" x2="444.18" y2="307.8" stroke="#333" stroke-width="0.6"/>
<text x="0" y="0" font-size="6.3" fill="#333" stroke="#333" stroke-width="0.1" text-anchor="end" transform="translate(447.57,315.60) rotate(-45)">5000</text>
<line x1="465.85" y1="305.2" x2="465.85" y2="307.8" stroke="#333" stroke-width="0.6"/>
<text x="0" y="0" font-size="6.3" fill="#333" stroke="#333" stroke-width="0.1" text-anchor="end" transform="translate(469.25,315.60) rotate(-45)">10000</text>
<line x1="487.52" y1="305.2" x2="487.52" y2="307.8" stroke="#333" stroke-width="0.6"/>
<text x="0" y="0" font-size="6.3" fill="#333" stroke="#333" stroke-width="0.1" text-anchor="end" transform="translate(490.92,315.60) rotate(-45)">15000</text>
<line x1="509.20" y1="305.2" x2="509.20" y2="307.8" stroke="#333" stroke-width="0.6"/>
<text x="0" y="0" font-size="6.3" fill="#333" stroke="#333" stroke-width="0.1" text-anchor="end" transform="translate(512.60,315.60) rotate(-45)">20000</text>
<text transform="translate(464.00,204.20) rotate(0.05)" font-size="8.25" fill="#1a1a1a" text-anchor="middle" font-weight="normal"  stroke="#1a1a1a" stroke-width="0.04">dauno.d4 - ct.d4 Beta</text>
<text x="0" y="0" font-size="8.6" fill="#1a1a1a" stroke="#1a1a1a" stroke-width="0.2" text-anchor="middle" transform="translate(464.2,339.0) rotate(0.05) scale(0.70,1)">Rank</text>
<text x="0" y="0" font-size="8.8" fill="#1a1a1a" stroke="#1a1a1a" stroke-width="0.2" text-anchor="middle" transform="translate(394.8,257.4) rotate(-90) scale(0.665,1)">Differential beta score</text>
<text x="0" y="0" font-size="8.3" fill="#1a1a1a" text-anchor="middle" transform="translate(383.0,257.3) rotate(-90)">Dauno</text>
<text transform="translate(509.20,350.00) rotate(0.05)" font-size="6.3" fill="#1a1a1a" text-anchor="end" font-weight="normal"  stroke="#1a1a1a" stroke-width="0.1">SD Cutoff = 2</text>
<line x1="422.50" y1="379.6" x2="422.50" y2="475.2" stroke="#ebebeb" stroke-width="0.5"/>
<line x1="444.18" y1="379.6" x2="444.18" y2="475.2" stroke="#ebebeb" stroke-width="0.5"/>
<line x1="465.85" y1="379.6" x2="465.85" y2="475.2" stroke="#ebebeb" stroke-width="0.5"/>
<line x1="487.52" y1="379.6" x2="487.52" y2="475.2" stroke="#ebebeb" stroke-width="0.5"/>
<line x1="509.20" y1="379.6" x2="509.20" y2="475.2" stroke="#ebebeb" stroke-width="0.5"/>
<line x1="433.34" y1="379.6" x2="433.34" y2="475.2" stroke="#f6f6f6" stroke-width="0.4"/>
<line x1="455.01" y1="379.6" x2="455.01" y2="475.2" stroke="#f6f6f6" stroke-width="0.4"/>
<line x1="476.69" y1="379.6" x2="476.69" y2="475.2" stroke="#f6f6f6" stroke-width="0.4"/>
<line x1="498.36" y1="379.6" x2="498.36" y2="475.2" stroke="#f6f6f6" stroke-width="0.4"/>
<line x1="418.6" y1="400.00" x2="509.6" y2="400.00" stroke="#ebebeb" stroke-width="0.5"/>
<line x1="418.6" y1="426.80" x2="509.6" y2="426.80" stroke="#ebebeb" stroke-width="0.5"/>
<line x1="418.6" y1="453.60" x2="509.6" y2="453.60" stroke="#ebebeb" stroke-width="0.5"/>
<line x1="418.6" y1="417.30" x2="509.6" y2="417.30" stroke="#cfcfcf" stroke-width="0.7"/>
<line x1="418.6" y1="436.30" x2="509.6" y2="436.30" stroke="#cfcfcf" stroke-width="0.7"/>
<polyline points="425.00,435.50 428.00,433.60 433.00,432.20 440.00,430.90 450.00,429.30 460.00,427.80 468.00,426.30 475.00,424.60 485.00,422.30 491.00,420.30 495.00,418.30 498.00,416.20" fill="none" stroke="#7a7a7a" stroke-width="3.05" stroke-linecap="round" stroke-linejoin="round"/>
<polyline points="422.30,451.00 422.50,445.90 423.00,440.70 423.50,437.60 425.00,435.50" fill="none" stroke="#a5173e" stroke-width="3.05" stroke-linecap="round" stroke-linejoin="round"/>
<polyline points="498.00,416.20 500.00,414.20 502.00,411.20 504.00,405.80 505.00,399.00 505.50,389.40 505.60,382.80" fill="none" stroke="#2166ac" stroke-width="3.05" stroke-linecap="round" stroke-linejoin="round"/>
<circle cx="422.3" cy="453.6" r="1.25" fill="#a5173e"/>
<circle cx="422.3" cy="455.7" r="1.25" fill="#a5173e"/>
<circle cx="422.3" cy="461.9" r="1.25" fill="#a5173e"/>
<circle cx="422.3" cy="470.7" r="1.25" fill="#7a2a40"/>
<text transform="translate(422.70,392.40) rotate(0.05)" font-size="6.25" fill="#46699b" text-anchor="start" font-weight="normal"  stroke="#46699b" stroke-width="0.12">Sensitive Genes = 1410</text>
<text transform="translate(481.70,398.60) rotate(0.05)" font-size="6.25" fill="#3f6396" text-anchor="start" font-weight="normal"  stroke="#3f6396" stroke-width="0.12">TOP2A</text>
<text transform="translate(424.70,461.50) rotate(0.05)" font-size="6.25" fill="#bc2550" text-anchor="start" font-weight="normal"  stroke="#bc2550" stroke-width="0.12">ABCC1</text>
<text transform="translate(505.50,467.40) rotate(0.05)" font-size="6.25" fill="#bc2550" text-anchor="end" font-weight="normal"  stroke="#bc2550" stroke-width="0.12">Resistant Genes = 296</text>
<rect x="418.6" y="379.6" width="91.00" height="95.60" fill="none" stroke="#1a1a1a" stroke-width="1.1"/>
<line x1="416.20000000000005" y1="400.00" x2="418.6" y2="400.00" stroke="#333" stroke-width="0.6"/>
<text transform="translate(413.00,402.25) rotate(0.05)" font-size="6.3" fill="#333" text-anchor="end" font-weight="normal"  stroke="#333" stroke-width="0.1">0.4</text>
<line x1="416.20000000000005" y1="426.80" x2="418.6" y2="426.80" stroke="#333" stroke-width="0.6"/>
<text transform="translate(413.00,429.05) rotate(0.05)" font-size="6.3" fill="#333" text-anchor="end" font-weight="normal"  stroke="#333" stroke-width="0.1">0.0</text>
<line x1="416.20000000000005" y1="453.60" x2="418.6" y2="453.60" stroke="#333" stroke-width="0.6"/>
<text transform="translate(413.00,455.85) rotate(0.05)" font-size="6.3" fill="#333" text-anchor="end" font-weight="normal"  stroke="#333" stroke-width="0.1">−0.4</text>
<line x1="422.50" y1="475.2" x2="422.50" y2="477.8" stroke="#333" stroke-width="0.6"/>
<text x="0" y="0" font-size="6.3" fill="#333" stroke="#333" stroke-width="0.1" text-anchor="end" transform="translate(425.90,485.60) rotate(-45)">0</text>
<line x1="444.18" y1="475.2" x2="444.18" y2="477.8" stroke="#333" stroke-width="0.6"/>
<text x="0" y="0" font-size="6.3" fill="#333" stroke="#333" stroke-width="0.1" text-anchor="end" transform="translate(447.57,485.60) rotate(-45)">5000</text>
<line x1="465.85" y1="475.2" x2="465.85" y2="477.8" stroke="#333" stroke-width="0.6"/>
<text x="0" y="0" font-size="6.3" fill="#333" stroke="#333" stroke-width="0.1" text-anchor="end" transform="translate(469.25,485.60) rotate(-45)">10000</text>
<line x1="487.52" y1="475.2" x2="487.52" y2="477.8" stroke="#333" stroke-width="0.6"/>
<text x="0" y="0" font-size="6.3" fill="#333" stroke="#333" stroke-width="0.1" text-anchor="end" transform="translate(490.92,485.60) rotate(-45)">15000</text>
<line x1="509.20" y1="475.2" x2="509.20" y2="477.8" stroke="#333" stroke-width="0.6"/>
<text x="0" y="0" font-size="6.3" fill="#333" stroke="#333" stroke-width="0.1" text-anchor="end" transform="translate(512.60,485.60) rotate(-45)">20000</text>
<text transform="translate(464.00,374.20) rotate(0.05)" font-size="8.25" fill="#1a1a1a" text-anchor="middle" font-weight="normal"  stroke="#1a1a1a" stroke-width="0.04">etop.d4 - ct.d4 Beta</text>
<text x="0" y="0" font-size="8.6" fill="#1a1a1a" stroke="#1a1a1a" stroke-width="0.2" text-anchor="middle" transform="translate(464.2,509.0) rotate(0.05) scale(0.70,1)">Rank</text>
<text x="0" y="0" font-size="8.8" fill="#1a1a1a" stroke="#1a1a1a" stroke-width="0.2" text-anchor="middle" transform="translate(394.8,427.4) rotate(-90) scale(0.665,1)">Differential beta score</text>
<text x="0" y="0" font-size="8.3" fill="#1a1a1a" text-anchor="middle" transform="translate(383.0,427.3) rotate(-90)">Etop</text>
<text transform="translate(509.20,520.00) rotate(0.05)" font-size="6.3" fill="#1a1a1a" text-anchor="end" font-weight="normal"  stroke="#1a1a1a" stroke-width="0.1">SD Cutoff = 2</text>
<text transform="translate(80.30,17.90) rotate(0.05)" font-size="6.2" fill="#58acdc" text-anchor="middle" font-weight="normal" >Brunello</text>
<text transform="translate(80.30,25.60) rotate(0.05)" font-size="6.2" fill="#58acdc" text-anchor="middle" font-weight="normal" >LentiCRISPRv2</text>
<text transform="translate(80.30,32.30) rotate(0.05)" font-size="6.2" fill="#58acdc" text-anchor="middle" font-weight="normal" >(19,114 genes)</text>
<g stroke="#8e8ea2" fill="none"><circle cx="72.9" cy="38.6" r="2.75" stroke-width="0.9" fill="#fff"/><line x1="75.56" y1="39.28" x2="77.02" y2="39.65" stroke-width="1.1"/><line x1="74.30" y1="40.97" x2="75.07" y2="42.26" stroke-width="1.1"/><line x1="72.22" y1="41.26" x2="71.85" y2="42.72" stroke-width="1.1"/><line x1="70.53" y1="40.00" x2="69.24" y2="40.77" stroke-width="1.1"/><line x1="70.24" y1="37.92" x2="68.78" y2="37.55" stroke-width="1.1"/><line x1="71.50" y1="36.23" x2="70.73" y2="34.94" stroke-width="1.1"/><line x1="73.58" y1="35.94" x2="73.95" y2="34.48" stroke-width="1.1"/><line x1="75.27" y1="37.20" x2="76.56" y2="36.43" stroke-width="1.1"/><path d="M72.40,37.40 q1,0.6 0,1.2 q-1,0.6 0,1.2" stroke-width="0.5"/></g>
<g stroke="#8e8ea2" fill="none"><circle cx="85.9" cy="37.8" r="2.75" stroke-width="0.9" fill="#fff"/><line x1="88.56" y1="38.48" x2="90.02" y2="38.85" stroke-width="1.1"/><line x1="87.30" y1="40.17" x2="88.07" y2="41.46" stroke-width="1.1"/><line x1="85.22" y1="40.46" x2="84.85" y2="41.92" stroke-width="1.1"/><line x1="83.53" y1="39.20" x2="82.24" y2="39.97" stroke-width="1.1"/><line x1="83.24" y1="37.12" x2="81.78" y2="36.75" stroke-width="1.1"/><line x1="84.50" y1="35.43" x2="83.73" y2="34.14" stroke-width="1.1"/><line x1="86.58" y1="35.14" x2="86.95" y2="33.68" stroke-width="1.1"/><line x1="88.27" y1="36.40" x2="89.56" y2="35.63" stroke-width="1.1"/><path d="M85.40,36.60 q1,0.6 0,1.2 q-1,0.6 0,1.2" stroke-width="0.5"/></g>
<g stroke="#8e8ea2" fill="none"><circle cx="79.6" cy="45.0" r="2.75" stroke-width="0.9" fill="#fff"/><line x1="82.26" y1="45.68" x2="83.72" y2="46.05" stroke-width="1.1"/><line x1="81.00" y1="47.37" x2="81.77" y2="48.66" stroke-width="1.1"/><line x1="78.92" y1="47.66" x2="78.55" y2="49.12" stroke-width="1.1"/><line x1="77.23" y1="46.40" x2="75.94" y2="47.17" stroke-width="1.1"/><line x1="76.94" y1="44.32" x2="75.48" y2="43.95" stroke-width="1.1"/><line x1="78.20" y1="42.63" x2="77.43" y2="41.34" stroke-width="1.1"/><line x1="80.28" y1="42.34" x2="80.65" y2="40.88" stroke-width="1.1"/><line x1="81.97" y1="43.60" x2="83.26" y2="42.83" stroke-width="1.1"/><path d="M79.10,43.80 q1,0.6 0,1.2 q-1,0.6 0,1.2" stroke-width="0.5"/></g>
<g stroke="#8e8ea2" fill="none"><circle cx="89.7" cy="46.7" r="2.75" stroke-width="0.9" fill="#fff"/><line x1="92.36" y1="47.38" x2="93.82" y2="47.75" stroke-width="1.1"/><line x1="91.10" y1="49.07" x2="91.87" y2="50.36" stroke-width="1.1"/><line x1="89.02" y1="49.36" x2="88.65" y2="50.82" stroke-width="1.1"/><line x1="87.33" y1="48.10" x2="86.04" y2="48.87" stroke-width="1.1"/><line x1="87.04" y1="46.02" x2="85.58" y2="45.65" stroke-width="1.1"/><line x1="88.30" y1="44.33" x2="87.53" y2="43.04" stroke-width="1.1"/><line x1="90.38" y1="44.04" x2="90.75" y2="42.58" stroke-width="1.1"/><line x1="92.07" y1="45.30" x2="93.36" y2="44.53" stroke-width="1.1"/><path d="M89.20,45.50 q1,0.6 0,1.2 q-1,0.6 0,1.2" stroke-width="0.5"/></g>
<g stroke="#8e8ea2" fill="none"><circle cx="72.3" cy="51.6" r="2.75" stroke-width="0.9" fill="#fff"/><line x1="74.96" y1="52.28" x2="76.42" y2="52.65" stroke-width="1.1"/><line x1="73.70" y1="53.97" x2="74.47" y2="55.26" stroke-width="1.1"/><line x1="71.62" y1="54.26" x2="71.25" y2="55.72" stroke-width="1.1"/><line x1="69.93" y1="53.00" x2="68.64" y2="53.77" stroke-width="1.1"/><line x1="69.64" y1="50.92" x2="68.18" y2="50.55" stroke-width="1.1"/><line x1="70.90" y1="49.23" x2="70.13" y2="47.94" stroke-width="1.1"/><line x1="72.98" y1="48.94" x2="73.35" y2="47.48" stroke-width="1.1"/><line x1="74.67" y1="50.20" x2="75.96" y2="49.43" stroke-width="1.1"/><path d="M71.80,50.40 q1,0.6 0,1.2 q-1,0.6 0,1.2" stroke-width="0.5"/></g>
<g stroke="#8e8ea2" fill="none"><circle cx="83.3" cy="54.2" r="2.75" stroke-width="0.9" fill="#fff"/><line x1="85.96" y1="54.88" x2="87.42" y2="55.25" stroke-width="1.1"/><line x1="84.70" y1="56.57" x2="85.47" y2="57.86" stroke-width="1.1"/><line x1="82.62" y1="56.86" x2="82.25" y2="58.32" stroke-width="1.1"/><line x1="80.93" y1="55.60" x2="79.64" y2="56.37" stroke-width="1.1"/><line x1="80.64" y1="53.52" x2="79.18" y2="53.15" stroke-width="1.1"/><line x1="81.90" y1="51.83" x2="81.13" y2="50.54" stroke-width="1.1"/><line x1="83.98" y1="51.54" x2="84.35" y2="50.08" stroke-width="1.1"/><line x1="85.67" y1="52.80" x2="86.96" y2="52.03" stroke-width="1.1"/><path d="M82.80,53.00 q1,0.6 0,1.2 q-1,0.6 0,1.2" stroke-width="0.5"/></g>
<g filter="url(#blur1)">
<ellipse cx="79.4" cy="73.0" rx="14.6" ry="13.6" fill="#dcdcdc"/>
<circle cx="71" cy="66.5" r="4.2" fill="#cbcbcb"/>
<circle cx="80" cy="63.5" r="4.2" fill="#cbcbcb"/>
<circle cx="88" cy="67" r="4.2" fill="#cbcbcb"/>
<circle cx="90.5" cy="75" r="4" fill="#cbcbcb"/>
<circle cx="86" cy="82" r="4.2" fill="#cbcbcb"/>
<circle cx="77" cy="84" r="4.2" fill="#cbcbcb"/>
<circle cx="69.5" cy="80" r="4.2" fill="#cbcbcb"/>
<circle cx="67.5" cy="72.5" r="4" fill="#cbcbcb"/>
<circle cx="79" cy="73" r="5.5" fill="#cbcbcb"/>
</g>
<g filter="url(#blur4)">
<circle cx="82.3" cy="66.4" r="2.2" fill="#6a6a6a"/>
<circle cx="74.2" cy="70.2" r="2.4" fill="#626262"/>
<circle cx="81.5" cy="72.9" r="2.2" fill="#6a6a6a"/>
<circle cx="68.8" cy="74.1" r="1.7" fill="#8e8e8e"/>
<circle cx="86.2" cy="77.2" r="2.2" fill="#6a6a6a"/>
<circle cx="76.5" cy="79.1" r="2.4" fill="#626262"/>
<circle cx="71.5" cy="81.8" r="1.7" fill="#8e8e8e"/>
<circle cx="81.5" cy="82.5" r="1.7" fill="#8a8a8a"/>
<circle cx="87.7" cy="68.3" r="1.4" fill="#9e9e9e"/>
</g>
<text transform="translate(81.00,96.70) rotate(0.05)" font-size="6.6" fill="#58acdc" text-anchor="middle" font-weight="normal" >K562</text>
<circle cx="108.8" cy="41.5" r="3.95" fill="#eef6fc" stroke="#6cbde8" stroke-width="0.9"/>
<text transform="translate(108.80,43.70) rotate(0.05)" font-size="6.0" fill="#23497c" text-anchor="middle" font-weight="bold" >1</text>
<text transform="translate(109.00,51.20) rotate(0.05)" font-size="6.2" fill="#231f20" text-anchor="middle" font-weight="normal" >Library</text>
<text transform="translate(109.00,57.30) rotate(0.05)" font-size="6.2" fill="#231f20" text-anchor="middle" font-weight="normal" >Transduction</text>
<line x1="99.6" y1="61.2" x2="114.0" y2="61.2" stroke="#111" stroke-width="0.8"/>
<path d="M117.0,61.2 L112.8,59.1 L112.8,63.300000000000004 Z" fill="#111"/>
<text transform="translate(145.00,83.50) rotate(0.05)" font-size="6.2" fill="#58acdc" text-anchor="middle" font-weight="normal" >Transduced</text>
<text transform="translate(145.00,91.20) rotate(0.05)" font-size="6.2" fill="#58acdc" text-anchor="middle" font-weight="normal" >Cells</text>
<circle cx="175.2" cy="41.3" r="3.95" fill="#eef6fc" stroke="#6cbde8" stroke-width="0.9"/>
<text transform="translate(175.20,43.50) rotate(0.05)" font-size="6.0" fill="#23497c" text-anchor="middle" font-weight="bold" >2</text>
<text transform="translate(175.20,51.00) rotate(0.05)" font-size="6.2" fill="#231f20" text-anchor="middle" font-weight="normal" >Puromycin</text>
<text transform="translate(175.20,57.20) rotate(0.05)" font-size="6.2" fill="#231f20" text-anchor="middle" font-weight="normal" >Selection</text>
<line x1="166.0" y1="61.3" x2="180.0" y2="61.3" stroke="#111" stroke-width="0.8"/>
<path d="M183.0,61.3 L178.8,59.199999999999996 L178.8,63.4 Z" fill="#111"/>
<text transform="translate(203.20,27.90) rotate(0.05)" font-size="6.2" fill="#231f20" text-anchor="middle" font-weight="normal" >Library of mutant</text>
<text transform="translate(203.90,35.40) rotate(0.05)" font-size="6.2" fill="#231f20" text-anchor="middle" font-weight="normal" >Cells (Day 0)</text>
<circle cx="220.4" cy="64.2" r="3.95" fill="#eef6fc" stroke="#6cbde8" stroke-width="0.9"/>
<text transform="translate(220.40,66.40) rotate(0.05)" font-size="6.0" fill="#23497c" text-anchor="middle" font-weight="bold" >3</text>
<line x1="224.3" y1="64.2" x2="227.1" y2="64.2" stroke="#111" stroke-width="0.8"/>
<line x1="227.1" y1="48.7" x2="227.1" y2="78.5" stroke="#111" stroke-width="0.8"/>
<line x1="227.1" y1="49.1" x2="250.2" y2="49.1" stroke="#111" stroke-width="0.8"/>
<path d="M253.2,49.1 L249.0,47.0 L249.0,51.2 Z" fill="#111"/>
<line x1="227.1" y1="78.1" x2="250.2" y2="78.1" stroke="#111" stroke-width="0.8"/>
<path d="M253.2,78.1 L249.0,76.0 L249.0,80.19999999999999 Z" fill="#111"/>
<text x="0" y="0" font-size="6.2" fill="#231f20" stroke="#231f20" stroke-width="0.1" text-anchor="middle" transform="translate(233.1,64.0) rotate(-90)">Screening</text>
<text transform="translate(237.00,46.50) rotate(0.05)" font-size="6.2" fill="#231f20" text-anchor="middle" font-weight="normal" >Control</text>
<text transform="translate(237.00,86.20) rotate(0.05)" font-size="6.2" fill="#231f20" text-anchor="middle" font-weight="normal" >AraC/Dauno/</text>
<text transform="translate(237.00,92.60) rotate(0.05)" font-size="6.2" fill="#231f20" text-anchor="middle" font-weight="normal" >Etop</text>
<text transform="translate(279.00,30.00) rotate(0.05)" font-size="6.2" fill="#231f20" text-anchor="middle" font-weight="normal" >Up to Day 4</text>
<text transform="translate(279.00,37.00) rotate(0.05)" font-size="6.2" fill="#231f20" text-anchor="middle" font-weight="normal" >(×3)</text>
<rect x="260.6" y="37.8" width="38.4" height="51.3" rx="2.5" fill="#e7e7e7" stroke="#a5a5a5" stroke-width="0.6"/>
<text transform="translate(279.00,96.80) rotate(0.05)" font-size="6.2" fill="#58acdc" text-anchor="middle" font-weight="normal" >Cell Collection</text>
<path d="M278.1,98.2 L278.1,101.0 Q278.1,104.2 274.9,104.2 L177.3,104.2 Q173.8,104.2 173.8,107.7 L173.8,116" fill="none" stroke="#111" stroke-width="0.8"/>
<path d="M173.8,120 L171.9,116 L175.7,116 Z" fill="#111"/>
<circle cx="192.7" cy="98.5" r="3.95" fill="#eef6fc" stroke="#6cbde8" stroke-width="0.9"/>
<text transform="translate(192.70,100.70) rotate(0.05)" font-size="6.0" fill="#23497c" text-anchor="middle" font-weight="bold" >4</text>
<line x1="203.3" y1="92.7" x2="203.3" y2="100.6" stroke="#111" stroke-width="0.8"/>
<path d="M203.3,103.6 L201.4,99.6 L205.20000000000002,99.6 Z" fill="#111"/>
<text transform="translate(184.00,112.50) rotate(0.05)" font-size="6.2" fill="#231f20" text-anchor="start" font-weight="normal" >NGS &amp; Data Analysis</text>
<text transform="translate(47.50,127.60) rotate(0.05)" font-size="6.24" fill="#2e2e2e" text-anchor="start" font-weight="normal"  stroke="#2e2e2e" stroke-width="0.1">1.</text>
<text transform="translate(58.90,127.60) rotate(0.05)" font-size="6.24" fill="#2e2e2e" text-anchor="start" font-weight="normal"  stroke="#2e2e2e" stroke-width="0.1">CRISPR screen hits identification</text>
<text transform="translate(47.50,135.90) rotate(0.05)" font-size="6.24" fill="#2e2e2e" text-anchor="start" font-weight="normal"  stroke="#2e2e2e" stroke-width="0.1">2.</text>
<text transform="translate(58.90,135.90) rotate(0.05)" font-size="6.24" fill="#2e2e2e" text-anchor="start" font-weight="normal"  stroke="#2e2e2e" stroke-width="0.1">Integrate significant genes from CRISPR/cas9 screens with outcomes to pediatric AML treated</text>
<text transform="translate(58.90,143.50) rotate(0.05)" font-size="6.24" fill="#2e2e2e" text-anchor="start" font-weight="normal"  stroke="#2e2e2e" stroke-width="0.1">with ADE to establish biomarkers of prognostic potential</text>
<text transform="translate(47.50,151.40) rotate(0.05)" font-size="6.24" fill="#2e2e2e" text-anchor="start" font-weight="normal"  stroke="#2e2e2e" stroke-width="0.1">3.</text>
<text transform="translate(58.90,151.40) rotate(0.05)" font-size="6.24" fill="#2e2e2e" text-anchor="start" font-weight="normal"  stroke="#2e2e2e" stroke-width="0.1">Functional validation of top significant hits to uncover novel potential targets/drugs to</text>
<text transform="translate(58.90,158.90) rotate(0.05)" font-size="6.24" fill="#2e2e2e" text-anchor="start" font-weight="normal"  stroke="#2e2e2e" stroke-width="0.1">circumvent chemoresistance</text>
<ellipse cx="143.0" cy="57.5" rx="13.0" ry="14.0" fill="#a86a88" fill-opacity="0.65" filter="url(#blur3)"/>
<g filter="url(#blur3)">
<circle cx="146.39" cy="42.98" r="4.24" fill="#e3c3cf" fill-opacity="0.75"/>
<circle cx="146.39" cy="42.98" r="1.91" fill="#000" fill-opacity="0.14"/>
<circle cx="133.99" cy="47.64" r="4.45" fill="#b03a3a" fill-opacity="0.95"/>
<circle cx="133.99" cy="47.64" r="2.00" fill="#000" fill-opacity="0.17"/>
<circle cx="150.63" cy="47.64" r="4.24" fill="#9080c0" fill-opacity="0.75"/>
<circle cx="150.63" cy="47.64" r="1.91" fill="#000" fill-opacity="0.14"/>
<circle cx="138.23" cy="50.40" r="4.45" fill="#e0a020" fill-opacity="0.95"/>
<circle cx="138.23" cy="50.40" r="2.00" fill="#000" fill-opacity="0.17"/>
<circle cx="146.39" cy="50.82" r="5.30" fill="#eba3b6" fill-opacity="0.8"/>
<circle cx="146.39" cy="50.82" r="2.39" fill="#000" fill-opacity="0.14"/>
<circle cx="154.87" cy="54.64" r="4.24" fill="#3a9a5a" fill-opacity="0.9"/>
<circle cx="154.87" cy="54.64" r="1.91" fill="#000" fill-opacity="0.16"/>
<circle cx="129.33" cy="54.64" r="4.24" fill="#7aa0d8" fill-opacity="0.45"/>
<circle cx="129.33" cy="54.64" r="1.91" fill="#000" fill-opacity="0.08"/>
<circle cx="135.58" cy="57.71" r="5.30" fill="#2a8a50" fill-opacity="0.95"/>
<circle cx="135.58" cy="57.71" r="2.39" fill="#000" fill-opacity="0.17"/>
<circle cx="143.64" cy="57.71" r="5.30" fill="#3535a5" fill-opacity="0.95"/>
<circle cx="143.64" cy="57.71" r="2.39" fill="#000" fill-opacity="0.17"/>
<circle cx="150.31" cy="60.04" r="3.71" fill="#a8a8a8" fill-opacity="0.8"/>
<circle cx="150.31" cy="60.04" r="1.67" fill="#000" fill-opacity="0.14"/>
<circle cx="129.01" cy="62.38" r="4.24" fill="#e8a0a8" fill-opacity="0.45"/>
<circle cx="129.01" cy="62.38" r="1.91" fill="#000" fill-opacity="0.08"/>
<circle cx="153.39" cy="63.97" r="4.24" fill="#f0a0a0" fill-opacity="0.7"/>
<circle cx="153.39" cy="63.97" r="1.91" fill="#000" fill-opacity="0.13"/>
<circle cx="158.05" cy="61.63" r="3.18" fill="#a8d8d8" fill-opacity="0.5"/>
<circle cx="158.05" cy="61.63" r="1.43" fill="#000" fill-opacity="0.09"/>
<circle cx="138.65" cy="65.87" r="4.77" fill="#d8eeee" fill-opacity="0.9"/>
<circle cx="138.65" cy="65.87" r="2.15" fill="#000" fill-opacity="0.16"/>
<circle cx="146.39" cy="67.04" r="5.30" fill="#c42222" fill-opacity="0.95"/>
<circle cx="146.39" cy="67.04" r="2.39" fill="#000" fill-opacity="0.17"/>
<circle cx="133.99" cy="69.37" r="4.24" fill="#30a0a0" fill-opacity="0.8"/>
<circle cx="133.99" cy="69.37" r="1.91" fill="#000" fill-opacity="0.14"/>
<circle cx="141.73" cy="72.45" r="4.24" fill="#7050a0" fill-opacity="0.75"/>
<circle cx="141.73" cy="72.45" r="1.91" fill="#000" fill-opacity="0.14"/>
</g>
<ellipse cx="203.2" cy="51.1" rx="10.5" ry="11.2" fill="#9a4a6a" fill-opacity="0.75" filter="url(#blur3)"/>
<ellipse cx="203.6" cy="78.8" rx="11.0" ry="10.5" fill="#a86a6a" fill-opacity="0.75" filter="url(#blur3)"/>
<ellipse cx="279.4" cy="50.9" rx="9.0" ry="9.0" fill="#6a4a6a" fill-opacity="0.7" filter="url(#blur3)"/>
<ellipse cx="279.4" cy="77.0" rx="9.0" ry="8.8" fill="#4a6a8a" fill-opacity="0.7" filter="url(#blur3)"/>
<g filter="url(#blur2)">
<circle cx="198.90" cy="40.70" r="3.50" fill="#6a9a70" fill-opacity="0.9"/>
<circle cx="198.90" cy="40.70" r="1.57" fill="#000" fill-opacity="0.16"/>
<circle cx="204.60" cy="42.20" r="4.00" fill="#e8b060" fill-opacity="0.9"/>
<circle cx="204.60" cy="42.20" r="1.80" fill="#000" fill-opacity="0.16"/>
<circle cx="196.30" cy="46.40" r="5.00" fill="#7060b0" fill-opacity="0.9"/>
<circle cx="196.30" cy="46.40" r="2.25" fill="#000" fill-opacity="0.16"/>
<circle cx="209.20" cy="47.40" r="5.50" fill="#c02830" fill-opacity="0.9"/>
<circle cx="209.20" cy="47.40" r="2.48" fill="#000" fill-opacity="0.16"/>
<circle cx="193.20" cy="53.10" r="4.00" fill="#b02020" fill-opacity="0.9"/>
<circle cx="193.20" cy="53.10" r="1.80" fill="#000" fill-opacity="0.16"/>
<circle cx="201.50" cy="54.10" r="5.00" fill="#f0a0b8" fill-opacity="0.9"/>
<circle cx="201.50" cy="54.10" r="2.25" fill="#000" fill-opacity="0.16"/>
<circle cx="209.20" cy="55.20" r="4.00" fill="#2090b0" fill-opacity="0.9"/>
<circle cx="209.20" cy="55.20" r="1.80" fill="#000" fill-opacity="0.16"/>
<circle cx="213.40" cy="55.20" r="3.00" fill="#6080c0" fill-opacity="0.9"/>
<circle cx="213.40" cy="55.20" r="1.35" fill="#000" fill-opacity="0.16"/>
<circle cx="195.80" cy="59.30" r="3.50" fill="#20a0b0" fill-opacity="0.9"/>
<circle cx="195.80" cy="59.30" r="1.57" fill="#000" fill-opacity="0.16"/>
<circle cx="209.70" cy="60.80" r="3.00" fill="#80b080" fill-opacity="0.9"/>
<circle cx="209.70" cy="60.80" r="1.35" fill="#000" fill-opacity="0.16"/>
<circle cx="203.50" cy="61.90" r="5.00" fill="#c02030" fill-opacity="0.9"/>
<circle cx="203.50" cy="61.90" r="2.25" fill="#000" fill-opacity="0.16"/>
</g>
<g filter="url(#blur2)">
<circle cx="192.70" cy="70.20" r="3.50" fill="#40a060" fill-opacity="0.9"/>
<circle cx="192.70" cy="70.20" r="1.57" fill="#000" fill-opacity="0.16"/>
<circle cx="198.40" cy="69.10" r="4.00" fill="#f0b060" fill-opacity="0.9"/>
<circle cx="198.40" cy="69.10" r="1.80" fill="#000" fill-opacity="0.16"/>
<circle cx="205.10" cy="71.70" r="5.00" fill="#f0a0c0" fill-opacity="0.9"/>
<circle cx="205.10" cy="71.70" r="2.25" fill="#000" fill-opacity="0.16"/>
<circle cx="213.90" cy="74.80" r="3.50" fill="#b03040" fill-opacity="0.9"/>
<circle cx="213.90" cy="74.80" r="1.57" fill="#000" fill-opacity="0.16"/>
<circle cx="194.20" cy="77.40" r="5.00" fill="#7060b0" fill-opacity="0.9"/>
<circle cx="194.20" cy="77.40" r="2.25" fill="#000" fill-opacity="0.16"/>
<circle cx="209.70" cy="76.40" r="4.00" fill="#2090b0" fill-opacity="0.9"/>
<circle cx="209.70" cy="76.40" r="1.80" fill="#000" fill-opacity="0.16"/>
<circle cx="213.40" cy="81.50" r="3.50" fill="#8060b0" fill-opacity="0.9"/>
<circle cx="213.40" cy="81.50" r="1.57" fill="#000" fill-opacity="0.16"/>
<circle cx="195.20" cy="84.10" r="4.00" fill="#f0a050" fill-opacity="0.9"/>
<circle cx="195.20" cy="84.10" r="1.80" fill="#000" fill-opacity="0.16"/>
<circle cx="208.70" cy="86.20" r="4.00" fill="#f0a060" fill-opacity="0.9"/>
<circle cx="208.70" cy="86.20" r="1.80" fill="#000" fill-opacity="0.16"/>
<circle cx="201.50" cy="88.80" r="3.50" fill="#40a080" fill-opacity="0.9"/>
<circle cx="201.50" cy="88.80" r="1.57" fill="#000" fill-opacity="0.16"/>
<circle cx="203.00" cy="81.50" r="6.00" fill="#c02020" fill-opacity="0.9"/>
<circle cx="203.00" cy="81.50" r="2.70" fill="#000" fill-opacity="0.16"/>
</g>
<g filter="url(#blur2)">
<circle cx="275.64" cy="43.00" r="3.01" fill="#e8c890" fill-opacity="0.9"/>
<circle cx="275.64" cy="43.00" r="1.35" fill="#000" fill-opacity="0.16"/>
<circle cx="280.46" cy="44.21" r="3.01" fill="#9060a0" fill-opacity="0.9"/>
<circle cx="280.46" cy="44.21" r="1.35" fill="#000" fill-opacity="0.16"/>
<circle cx="285.19" cy="45.41" r="3.01" fill="#408060" fill-opacity="0.9"/>
<circle cx="285.19" cy="45.41" r="1.35" fill="#000" fill-opacity="0.16"/>
<circle cx="274.87" cy="47.39" r="3.87" fill="#208050" fill-opacity="0.9"/>
<circle cx="274.87" cy="47.39" r="1.74" fill="#000" fill-opacity="0.16"/>
<circle cx="283.21" cy="48.59" r="4.30" fill="#b02030" fill-opacity="0.9"/>
<circle cx="283.21" cy="48.59" r="1.94" fill="#000" fill-opacity="0.16"/>
<circle cx="272.03" cy="51.77" r="3.44" fill="#a01830" fill-opacity="0.9"/>
<circle cx="272.03" cy="51.77" r="1.55" fill="#000" fill-opacity="0.16"/>
<circle cx="284.85" cy="53.75" r="3.44" fill="#2090a0" fill-opacity="0.9"/>
<circle cx="284.85" cy="53.75" r="1.55" fill="#000" fill-opacity="0.16"/>
<circle cx="288.03" cy="53.75" r="2.58" fill="#e8c880" fill-opacity="0.9"/>
<circle cx="288.03" cy="53.75" r="1.16" fill="#000" fill-opacity="0.16"/>
<circle cx="273.67" cy="56.59" r="2.58" fill="#f0a0b0" fill-opacity="0.9"/>
<circle cx="273.67" cy="56.59" r="1.16" fill="#000" fill-opacity="0.16"/>
<circle cx="279.26" cy="58.14" r="3.87" fill="#208040" fill-opacity="0.9"/>
<circle cx="279.26" cy="58.14" r="1.74" fill="#000" fill-opacity="0.16"/>
<circle cx="283.99" cy="58.14" r="2.58" fill="#e0c890" fill-opacity="0.9"/>
<circle cx="283.99" cy="58.14" r="1.16" fill="#000" fill-opacity="0.16"/>
<circle cx="278.40" cy="53.41" r="4.30" fill="#5050b0" fill-opacity="0.9"/>
<circle cx="278.40" cy="53.41" r="1.94" fill="#000" fill-opacity="0.16"/>
</g>
<g filter="url(#blur2)">
<circle cx="272.78" cy="70.98" r="3.44" fill="#309090" fill-opacity="0.9"/>
<circle cx="272.78" cy="70.98" r="1.55" fill="#000" fill-opacity="0.16"/>
<circle cx="276.39" cy="69.78" r="3.44" fill="#f0a0c0" fill-opacity="0.9"/>
<circle cx="276.39" cy="69.78" r="1.55" fill="#000" fill-opacity="0.16"/>
<circle cx="281.64" cy="71.41" r="4.73" fill="#1e88c0" fill-opacity="0.9"/>
<circle cx="281.64" cy="71.41" r="2.13" fill="#000" fill-opacity="0.16"/>
<circle cx="285.59" cy="74.59" r="3.01" fill="#30a070" fill-opacity="0.9"/>
<circle cx="285.59" cy="74.59" r="1.35" fill="#000" fill-opacity="0.16"/>
<circle cx="273.21" cy="75.37" r="3.87" fill="#208040" fill-opacity="0.9"/>
<circle cx="273.21" cy="75.37" r="1.74" fill="#000" fill-opacity="0.16"/>
<circle cx="277.59" cy="74.59" r="2.58" fill="#b02020" fill-opacity="0.9"/>
<circle cx="277.59" cy="74.59" r="1.16" fill="#000" fill-opacity="0.16"/>
<circle cx="287.57" cy="78.55" r="2.58" fill="#6070c0" fill-opacity="0.9"/>
<circle cx="287.57" cy="78.55" r="1.16" fill="#000" fill-opacity="0.16"/>
<circle cx="274.41" cy="80.18" r="3.44" fill="#2070c0" fill-opacity="0.9"/>
<circle cx="274.41" cy="80.18" r="1.55" fill="#000" fill-opacity="0.16"/>
<circle cx="284.39" cy="81.39" r="3.44" fill="#2090b0" fill-opacity="0.9"/>
<circle cx="284.39" cy="81.39" r="1.55" fill="#000" fill-opacity="0.16"/>
<circle cx="279.23" cy="83.36" r="3.44" fill="#a01020" fill-opacity="0.9"/>
<circle cx="279.23" cy="83.36" r="1.55" fill="#000" fill-opacity="0.16"/>
<circle cx="280.00" cy="77.77" r="4.30" fill="#f090b0" fill-opacity="0.9"/>
<circle cx="280.00" cy="77.77" r="1.94" fill="#000" fill-opacity="0.16"/>
</g>
</g>
</svg>
</body></html>
